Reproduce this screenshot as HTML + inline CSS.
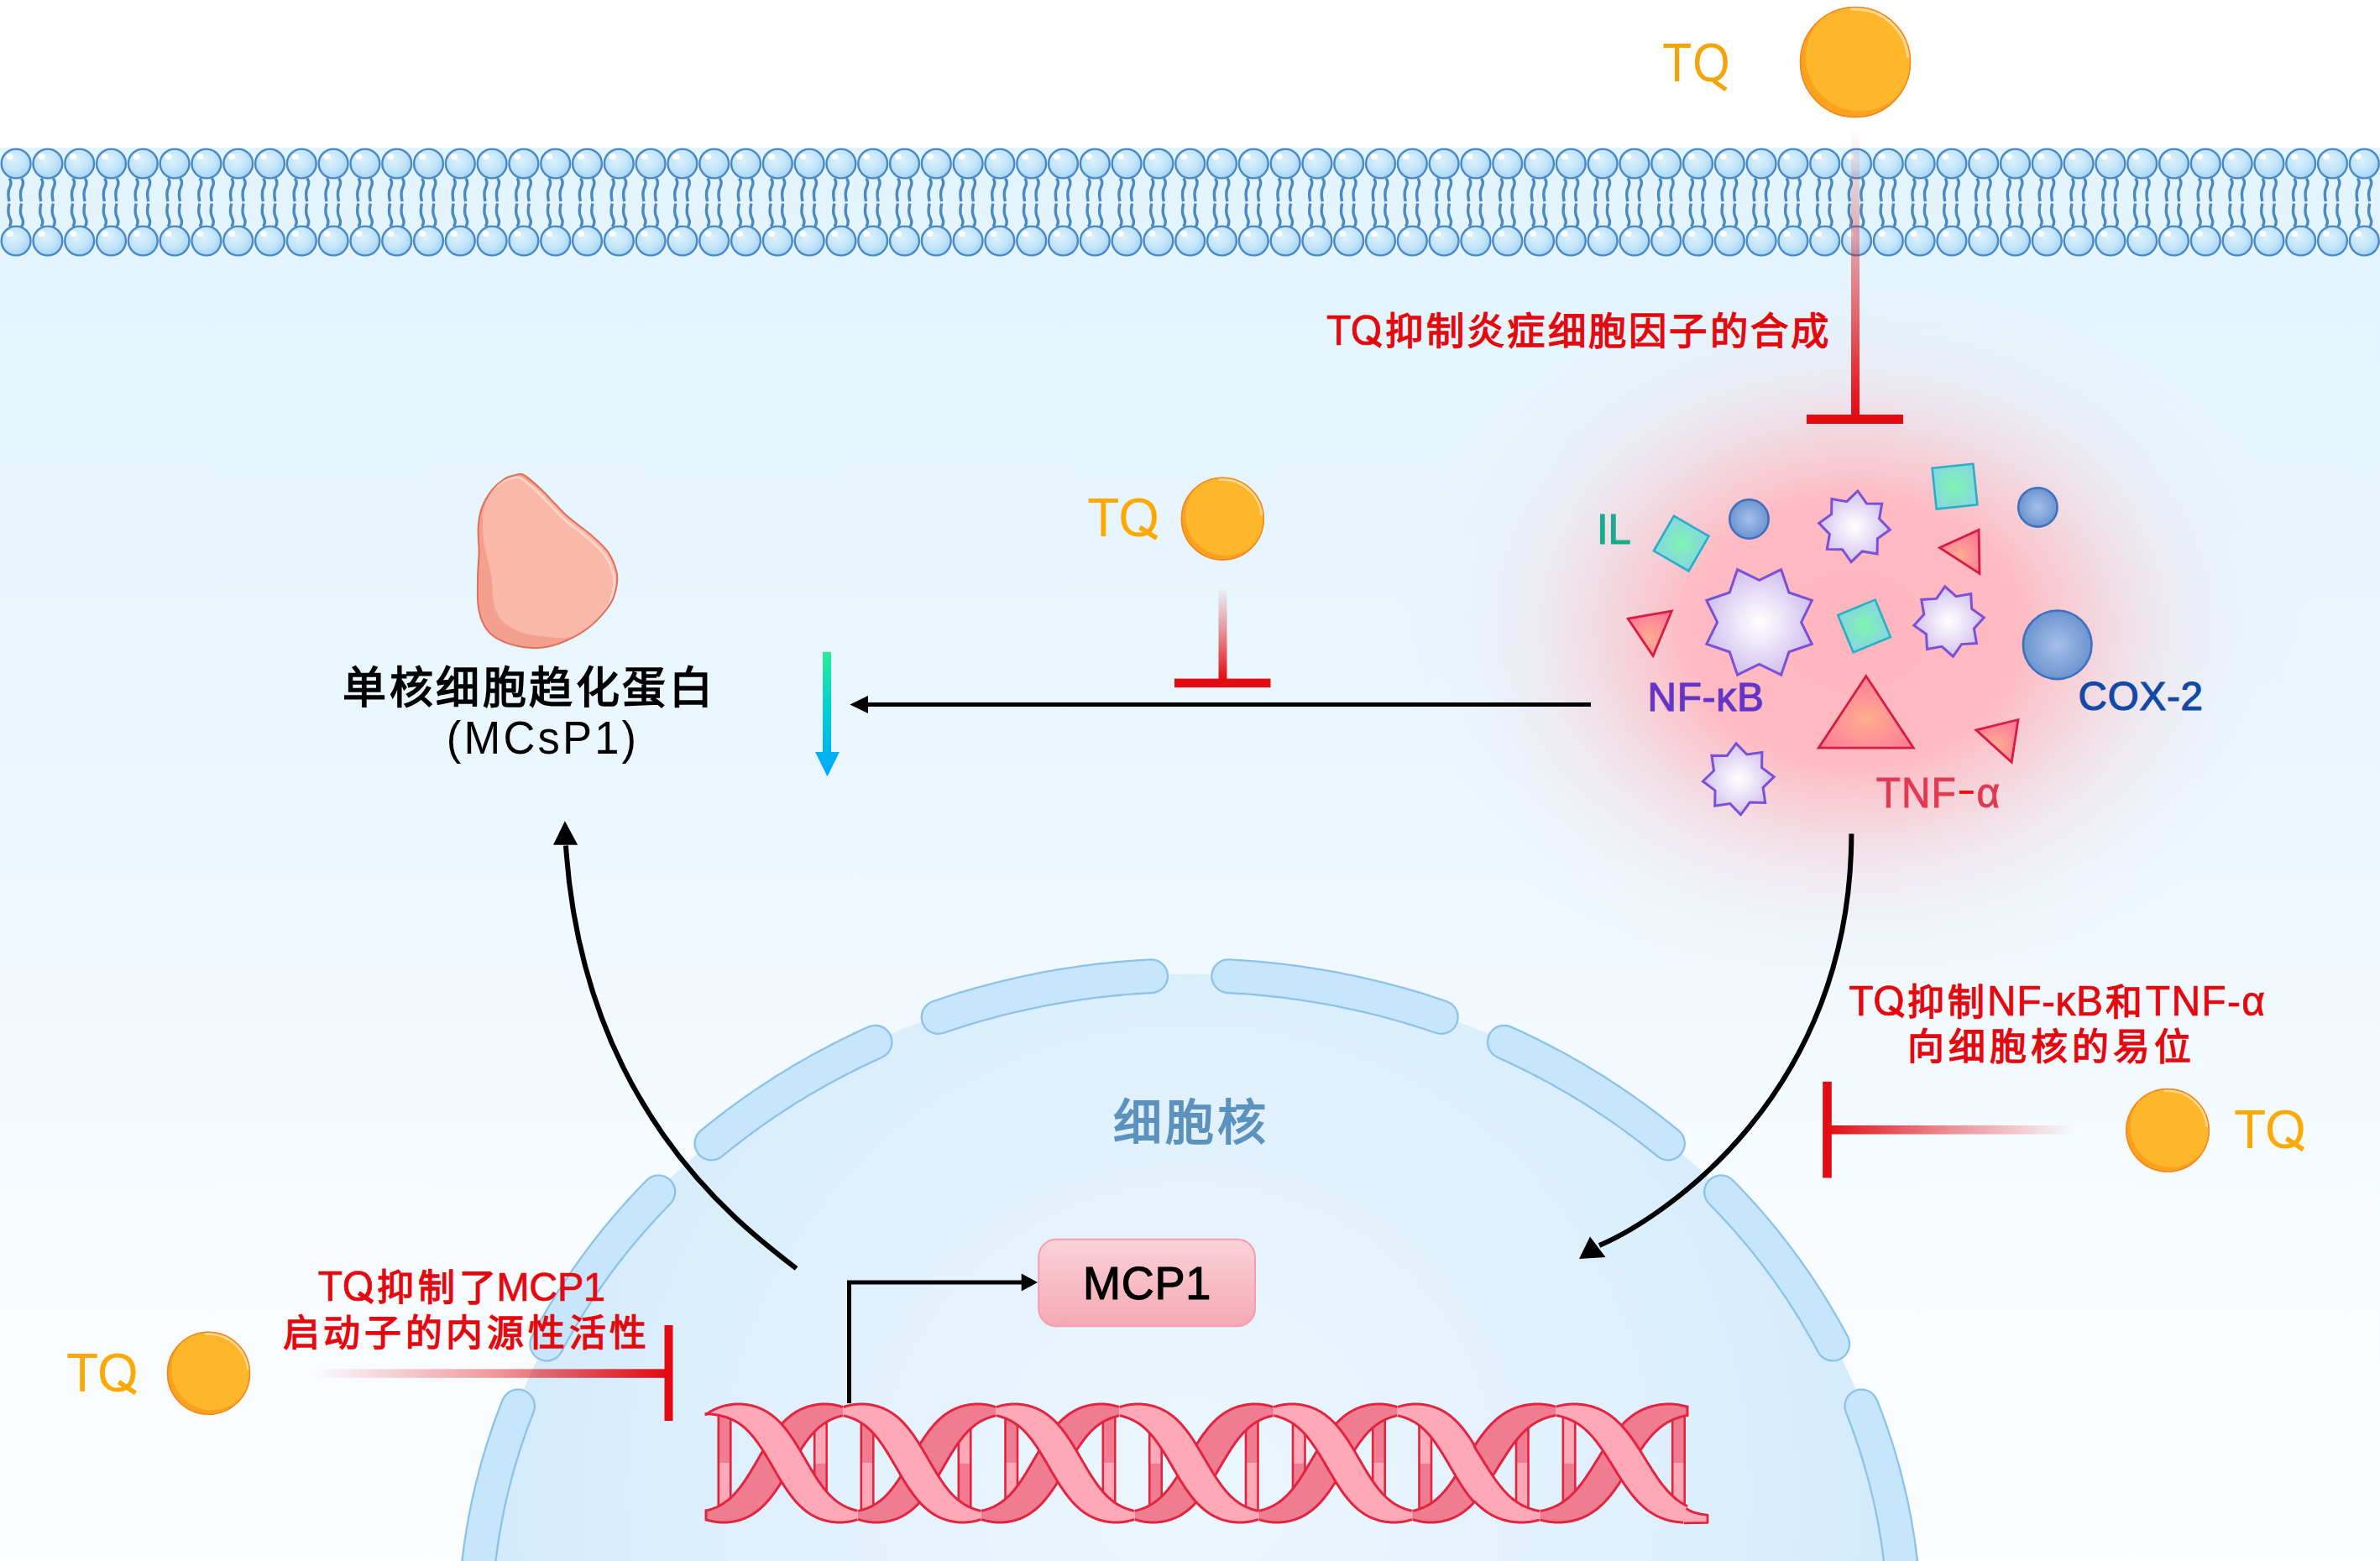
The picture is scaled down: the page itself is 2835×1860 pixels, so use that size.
<!DOCTYPE html>
<html lang="zh-CN">
<head>
<meta charset="utf-8">
<title>TQ</title>
<style>
html,body{margin:0;padding:0;background:#ffffff;width:2835px;height:1860px;overflow:hidden;}
svg{display:block;}
text{font-family:"Liberation Sans",sans-serif;}
</style>
</head>
<body>
<svg width="2835" height="1860" viewBox="0 0 2835 1860">
<defs>
<linearGradient id="bg" x1="0" y1="176" x2="0" y2="1860" gradientUnits="userSpaceOnUse">
  <stop offset="0" stop-color="#e2f4fd"/>
  <stop offset="0.35" stop-color="#e8f6fe"/>
  <stop offset="0.6" stop-color="#f1f9ff"/>
  <stop offset="0.78" stop-color="#f8fcff"/>
  <stop offset="1" stop-color="#fbfdff"/>
</linearGradient>
<radialGradient id="glow" cx="2208" cy="752" r="545" gradientUnits="userSpaceOnUse" gradientTransform="translate(2208 752) scale(1 0.8) translate(-2208 -752)">
  <stop offset="0" stop-color="#ffb5bd" stop-opacity="1"/>
  <stop offset="0.37" stop-color="#ffb8c0" stop-opacity="0.95"/>
  <stop offset="0.53" stop-color="#fbc2ca" stop-opacity="0.62"/>
  <stop offset="0.68" stop-color="#f6d0d8" stop-opacity="0.34"/>
  <stop offset="0.83" stop-color="#f2dce4" stop-opacity="0.14"/>
  <stop offset="1" stop-color="#f0e6ee" stop-opacity="0"/>
</radialGradient>
<radialGradient id="head" cx="0.42" cy="0.38" r="0.62">
  <stop offset="0" stop-color="#dcf1fd"/>
  <stop offset="0.6" stop-color="#c3e5fa"/>
  <stop offset="1" stop-color="#a6d3f3"/>
</radialGradient>
<radialGradient id="nuc" cx="1417" cy="1780" r="900" gradientUnits="userSpaceOnUse">
  <stop offset="0" stop-color="#ecf7fe"/>
  <stop offset="0.5" stop-color="#e1f1fd"/>
  <stop offset="0.8" stop-color="#d8edfc"/>
  <stop offset="1" stop-color="#d0e9fb"/>
</radialGradient>
<radialGradient id="star" cx="0.5" cy="0.5" r="0.55">
  <stop offset="0" stop-color="#ffffff"/>
  <stop offset="0.45" stop-color="#ebe2f8"/>
  <stop offset="1" stop-color="#cdbcee"/>
</radialGradient>
<radialGradient id="sq" cx="0.5" cy="0.5" r="0.6">
  <stop offset="0" stop-color="#7ff5b0"/>
  <stop offset="0.6" stop-color="#82e2cc"/>
  <stop offset="1" stop-color="#86d8df"/>
</radialGradient>
<radialGradient id="tri" cx="0.5" cy="0.6" r="0.6">
  <stop offset="0" stop-color="#ffae8e"/>
  <stop offset="0.6" stop-color="#ff8f98"/>
  <stop offset="1" stop-color="#fb7d93"/>
</radialGradient>
<radialGradient id="ball" cx="0.5" cy="0.5" r="0.5">
  <stop offset="0" stop-color="#a6bfec"/>
  <stop offset="1" stop-color="#6c95cf"/>
</radialGradient>
<linearGradient id="mcp" x1="0" y1="0" x2="0" y2="1">
  <stop offset="0" stop-color="#fbd1d8"/>
  <stop offset="1" stop-color="#f4a9b4"/>
</linearGradient>
<linearGradient id="garrow" x1="0" y1="776" x2="0" y2="925" gradientUnits="userSpaceOnUse">
  <stop offset="0" stop-color="#2eeb98"/>
  <stop offset="0.45" stop-color="#00d0d0"/>
  <stop offset="1" stop-color="#00a6ff"/>
</linearGradient>
<linearGradient id="inhV1" x1="0" y1="150" x2="0" y2="495" gradientUnits="userSpaceOnUse">
  <stop offset="0" stop-color="#e30b12" stop-opacity="0"/>
  <stop offset="0.25" stop-color="#e30b12" stop-opacity="0.2"/>
  <stop offset="0.6" stop-color="#e30b12" stop-opacity="0.55"/>
  <stop offset="1" stop-color="#e30b12" stop-opacity="1"/>
</linearGradient>
<linearGradient id="inhV2" x1="0" y1="700" x2="0" y2="810" gradientUnits="userSpaceOnUse">
  <stop offset="0" stop-color="#e30b12" stop-opacity="0"/>
  <stop offset="0.5" stop-color="#e30b12" stop-opacity="0.45"/>
  <stop offset="1" stop-color="#e30b12" stop-opacity="1"/>
</linearGradient>
<linearGradient id="inhH1" x1="371" y1="0" x2="795" y2="0" gradientUnits="userSpaceOnUse">
  <stop offset="0" stop-color="#e30b12" stop-opacity="0"/>
  <stop offset="0.5" stop-color="#e30b12" stop-opacity="0.4"/>
  <stop offset="1" stop-color="#e30b12" stop-opacity="1"/>
</linearGradient>
<linearGradient id="inhH2" x1="2470" y1="0" x2="2176" y2="0" gradientUnits="userSpaceOnUse">
  <stop offset="0" stop-color="#e30b12" stop-opacity="0"/>
  <stop offset="0.5" stop-color="#e30b12" stop-opacity="0.45"/>
  <stop offset="1" stop-color="#e30b12" stop-opacity="1"/>
</linearGradient>
</defs>
<rect x="0" y="0" width="2835" height="1860" fill="#ffffff"/>
<rect x="0" y="176" width="2835" height="1684" fill="url(#bg)"/>
<rect x="1600" y="260" width="1235" height="1000" fill="url(#glow)"/>
<ellipse cx="1417.2" cy="1942.4" rx="853" ry="781.8" fill="url(#nuc)"/>
<path d="M1463.2,1163.2 L1469.7,1163.6 L1476.2,1164 L1482.7,1164.4 L1489.2,1164.9 L1495.7,1165.4 L1502.1,1166 L1508.6,1166.6 L1515.1,1167.3 L1521.5,1168 L1528,1168.7 L1534.4,1169.5 L1540.9,1170.4 L1547.3,1171.3 L1553.7,1172.2 L1560.1,1173.2 L1566.5,1174.2 L1572.9,1175.3 L1579.3,1176.4 L1585.7,1177.5 L1592.1,1178.7 L1598.4,1180 L1604.8,1181.3 L1611.1,1182.6 L1617.4,1184 L1623.7,1185.4 L1630,1186.9 L1636.3,1188.4 L1642.6,1189.9 L1648.9,1191.5 L1655.1,1193.2 L1661.4,1194.9 L1667.6,1196.6 L1673.8,1198.4 L1680,1200.2 L1686.2,1202 L1692.3,1203.9 L1698.5,1205.9 L1704.6,1207.9 L1710.7,1209.9 L1716.8,1212" fill="none" stroke="#8dc2e8" stroke-width="42" stroke-linecap="round"/>
<path d="M1463.2,1163.2 L1469.7,1163.6 L1476.2,1164 L1482.7,1164.4 L1489.2,1164.9 L1495.7,1165.4 L1502.1,1166 L1508.6,1166.6 L1515.1,1167.3 L1521.5,1168 L1528,1168.7 L1534.4,1169.5 L1540.9,1170.4 L1547.3,1171.3 L1553.7,1172.2 L1560.1,1173.2 L1566.5,1174.2 L1572.9,1175.3 L1579.3,1176.4 L1585.7,1177.5 L1592.1,1178.7 L1598.4,1180 L1604.8,1181.3 L1611.1,1182.6 L1617.4,1184 L1623.7,1185.4 L1630,1186.9 L1636.3,1188.4 L1642.6,1189.9 L1648.9,1191.5 L1655.1,1193.2 L1661.4,1194.9 L1667.6,1196.6 L1673.8,1198.4 L1680,1200.2 L1686.2,1202 L1692.3,1203.9 L1698.5,1205.9 L1704.6,1207.9 L1710.7,1209.9 L1716.8,1212" fill="none" stroke="#c8e6fb" stroke-width="37.4" stroke-linecap="round"/>
<path d="M1371.2,1163.2 L1364.7,1163.6 L1358.2,1164 L1351.7,1164.4 L1345.2,1164.9 L1338.7,1165.4 L1332.3,1166 L1325.8,1166.6 L1319.3,1167.3 L1312.9,1168 L1306.4,1168.7 L1300,1169.5 L1293.5,1170.4 L1287.1,1171.3 L1280.7,1172.2 L1274.3,1173.2 L1267.9,1174.2 L1261.5,1175.3 L1255.1,1176.4 L1248.7,1177.5 L1242.3,1178.7 L1236,1180 L1229.6,1181.3 L1223.3,1182.6 L1217,1184 L1210.7,1185.4 L1204.4,1186.9 L1198.1,1188.4 L1191.8,1189.9 L1185.5,1191.5 L1179.3,1193.2 L1173,1194.9 L1166.8,1196.6 L1160.6,1198.4 L1154.4,1200.2 L1148.2,1202 L1142.1,1203.9 L1135.9,1205.9 L1129.8,1207.9 L1123.7,1209.9 L1117.6,1212" fill="none" stroke="#8dc2e8" stroke-width="42" stroke-linecap="round"/>
<path d="M1371.2,1163.2 L1364.7,1163.6 L1358.2,1164 L1351.7,1164.4 L1345.2,1164.9 L1338.7,1165.4 L1332.3,1166 L1325.8,1166.6 L1319.3,1167.3 L1312.9,1168 L1306.4,1168.7 L1300,1169.5 L1293.5,1170.4 L1287.1,1171.3 L1280.7,1172.2 L1274.3,1173.2 L1267.9,1174.2 L1261.5,1175.3 L1255.1,1176.4 L1248.7,1177.5 L1242.3,1178.7 L1236,1180 L1229.6,1181.3 L1223.3,1182.6 L1217,1184 L1210.7,1185.4 L1204.4,1186.9 L1198.1,1188.4 L1191.8,1189.9 L1185.5,1191.5 L1179.3,1193.2 L1173,1194.9 L1166.8,1196.6 L1160.6,1198.4 L1154.4,1200.2 L1148.2,1202 L1142.1,1203.9 L1135.9,1205.9 L1129.8,1207.9 L1123.7,1209.9 L1117.6,1212" fill="none" stroke="#c8e6fb" stroke-width="37.4" stroke-linecap="round"/>
<path d="M1791.8,1241.7 L1797.1,1244.1 L1802.4,1246.5 L1807.6,1249 L1812.9,1251.5 L1818.1,1254 L1823.3,1256.6 L1828.5,1259.2 L1833.6,1261.8 L1838.8,1264.5 L1843.9,1267.2 L1849,1269.9 L1854.1,1272.6 L1859.2,1275.4 L1864.2,1278.3 L1869.2,1281.1 L1874.2,1284 L1879.2,1286.9 L1884.1,1289.9 L1889.1,1292.9 L1894,1295.9 L1898.9,1298.9 L1903.7,1302 L1908.5,1305.1 L1913.4,1308.3 L1918.1,1311.4 L1922.9,1314.6 L1927.7,1317.9 L1932.4,1321.1 L1937.1,1324.4 L1941.7,1327.7 L1946.4,1331.1 L1951,1334.5 L1955.6,1337.9 L1960.1,1341.3 L1964.7,1344.8 L1969.2,1348.3 L1973.7,1351.8 L1978.1,1355.3 L1982.6,1358.9 L1987,1362.5" fill="none" stroke="#8dc2e8" stroke-width="42" stroke-linecap="round"/>
<path d="M1791.8,1241.7 L1797.1,1244.1 L1802.4,1246.5 L1807.6,1249 L1812.9,1251.5 L1818.1,1254 L1823.3,1256.6 L1828.5,1259.2 L1833.6,1261.8 L1838.8,1264.5 L1843.9,1267.2 L1849,1269.9 L1854.1,1272.6 L1859.2,1275.4 L1864.2,1278.3 L1869.2,1281.1 L1874.2,1284 L1879.2,1286.9 L1884.1,1289.9 L1889.1,1292.9 L1894,1295.9 L1898.9,1298.9 L1903.7,1302 L1908.5,1305.1 L1913.4,1308.3 L1918.1,1311.4 L1922.9,1314.6 L1927.7,1317.9 L1932.4,1321.1 L1937.1,1324.4 L1941.7,1327.7 L1946.4,1331.1 L1951,1334.5 L1955.6,1337.9 L1960.1,1341.3 L1964.7,1344.8 L1969.2,1348.3 L1973.7,1351.8 L1978.1,1355.3 L1982.6,1358.9 L1987,1362.5" fill="none" stroke="#c8e6fb" stroke-width="37.4" stroke-linecap="round"/>
<path d="M1042.6,1241.7 L1037.3,1244.1 L1032,1246.5 L1026.8,1249 L1021.5,1251.5 L1016.3,1254 L1011.1,1256.6 L1005.9,1259.2 L1000.8,1261.8 L995.6,1264.5 L990.5,1267.2 L985.4,1269.9 L980.3,1272.6 L975.2,1275.4 L970.2,1278.3 L965.2,1281.1 L960.2,1284 L955.2,1286.9 L950.3,1289.9 L945.3,1292.9 L940.4,1295.9 L935.5,1298.9 L930.7,1302 L925.9,1305.1 L921,1308.3 L916.3,1311.4 L911.5,1314.6 L906.7,1317.9 L902,1321.1 L897.3,1324.4 L892.7,1327.7 L888,1331.1 L883.4,1334.5 L878.8,1337.9 L874.3,1341.3 L869.7,1344.8 L865.2,1348.3 L860.7,1351.8 L856.3,1355.3 L851.8,1358.9 L847.4,1362.5" fill="none" stroke="#8dc2e8" stroke-width="42" stroke-linecap="round"/>
<path d="M1042.6,1241.7 L1037.3,1244.1 L1032,1246.5 L1026.8,1249 L1021.5,1251.5 L1016.3,1254 L1011.1,1256.6 L1005.9,1259.2 L1000.8,1261.8 L995.6,1264.5 L990.5,1267.2 L985.4,1269.9 L980.3,1272.6 L975.2,1275.4 L970.2,1278.3 L965.2,1281.1 L960.2,1284 L955.2,1286.9 L950.3,1289.9 L945.3,1292.9 L940.4,1295.9 L935.5,1298.9 L930.7,1302 L925.9,1305.1 L921,1308.3 L916.3,1311.4 L911.5,1314.6 L906.7,1317.9 L902,1321.1 L897.3,1324.4 L892.7,1327.7 L888,1331.1 L883.4,1334.5 L878.8,1337.9 L874.3,1341.3 L869.7,1344.8 L865.2,1348.3 L860.7,1351.8 L856.3,1355.3 L851.8,1358.9 L847.4,1362.5" fill="none" stroke="#c8e6fb" stroke-width="37.4" stroke-linecap="round"/>
<path d="M2050,1420.3 L2054,1424.4 L2057.9,1428.5 L2061.9,1432.6 L2065.7,1436.8 L2069.6,1441 L2073.4,1445.2 L2077.2,1449.4 L2081,1453.7 L2084.7,1458 L2088.4,1462.3 L2092.1,1466.6 L2095.7,1471 L2099.3,1475.3 L2102.9,1479.7 L2106.4,1484.2 L2109.9,1488.6 L2113.4,1493.1 L2116.8,1497.6 L2120.2,1502.1 L2123.5,1506.6 L2126.9,1511.2 L2130.2,1515.8 L2133.4,1520.4 L2136.6,1525 L2139.8,1529.6 L2143,1534.3 L2146.1,1539 L2149.1,1543.7 L2152.2,1548.4 L2155.2,1553.1 L2158.1,1557.9 L2161.1,1562.7 L2164,1567.5 L2166.8,1572.3 L2169.6,1577.1 L2172.4,1582 L2175.2,1586.8 L2177.9,1591.7 L2180.5,1596.6 L2183.2,1601.6" fill="none" stroke="#8dc2e8" stroke-width="42" stroke-linecap="round"/>
<path d="M2050,1420.3 L2054,1424.4 L2057.9,1428.5 L2061.9,1432.6 L2065.7,1436.8 L2069.6,1441 L2073.4,1445.2 L2077.2,1449.4 L2081,1453.7 L2084.7,1458 L2088.4,1462.3 L2092.1,1466.6 L2095.7,1471 L2099.3,1475.3 L2102.9,1479.7 L2106.4,1484.2 L2109.9,1488.6 L2113.4,1493.1 L2116.8,1497.6 L2120.2,1502.1 L2123.5,1506.6 L2126.9,1511.2 L2130.2,1515.8 L2133.4,1520.4 L2136.6,1525 L2139.8,1529.6 L2143,1534.3 L2146.1,1539 L2149.1,1543.7 L2152.2,1548.4 L2155.2,1553.1 L2158.1,1557.9 L2161.1,1562.7 L2164,1567.5 L2166.8,1572.3 L2169.6,1577.1 L2172.4,1582 L2175.2,1586.8 L2177.9,1591.7 L2180.5,1596.6 L2183.2,1601.6" fill="none" stroke="#c8e6fb" stroke-width="37.4" stroke-linecap="round"/>
<path d="M784.4,1420.3 L780.4,1424.4 L776.5,1428.5 L772.5,1432.6 L768.7,1436.8 L764.8,1441 L761,1445.2 L757.2,1449.4 L753.4,1453.7 L749.7,1458 L746,1462.3 L742.3,1466.6 L738.7,1471 L735.1,1475.3 L731.5,1479.7 L728,1484.2 L724.5,1488.6 L721,1493.1 L717.6,1497.6 L714.2,1502.1 L710.9,1506.6 L707.5,1511.2 L704.2,1515.8 L701,1520.4 L697.8,1525 L694.6,1529.6 L691.4,1534.3 L688.3,1539 L685.3,1543.7 L682.2,1548.4 L679.2,1553.1 L676.3,1557.9 L673.3,1562.7 L670.4,1567.5 L667.6,1572.3 L664.8,1577.1 L662,1582 L659.2,1586.8 L656.5,1591.7 L653.9,1596.6 L651.2,1601.6" fill="none" stroke="#8dc2e8" stroke-width="42" stroke-linecap="round"/>
<path d="M784.4,1420.3 L780.4,1424.4 L776.5,1428.5 L772.5,1432.6 L768.7,1436.8 L764.8,1441 L761,1445.2 L757.2,1449.4 L753.4,1453.7 L749.7,1458 L746,1462.3 L742.3,1466.6 L738.7,1471 L735.1,1475.3 L731.5,1479.7 L728,1484.2 L724.5,1488.6 L721,1493.1 L717.6,1497.6 L714.2,1502.1 L710.9,1506.6 L707.5,1511.2 L704.2,1515.8 L701,1520.4 L697.8,1525 L694.6,1529.6 L691.4,1534.3 L688.3,1539 L685.3,1543.7 L682.2,1548.4 L679.2,1553.1 L676.3,1557.9 L673.3,1562.7 L670.4,1567.5 L667.6,1572.3 L664.8,1577.1 L662,1582 L659.2,1586.8 L656.5,1591.7 L653.9,1596.6 L651.2,1601.6" fill="none" stroke="#c8e6fb" stroke-width="37.4" stroke-linecap="round"/>
<path d="M2217.3,1675.5 L2219.6,1681.3 L2221.8,1687.1 L2224,1692.9 L2226.1,1698.7 L2228.2,1704.5 L2230.2,1710.4 L2232.1,1716.2 L2234.1,1722.1 L2235.9,1728 L2237.7,1733.9 L2239.5,1739.8 L2241.2,1745.7 L2242.9,1751.6 L2244.5,1757.6 L2246,1763.6 L2247.5,1769.5 L2249,1775.5 L2250.4,1781.5 L2251.8,1787.5 L2253.1,1793.5 L2254.3,1799.5 L2255.5,1805.6 L2256.7,1811.6 L2257.7,1817.6 L2258.8,1823.7 L2259.8,1829.8 L2260.7,1835.8 L2261.6,1841.9 L2262.4,1848 L2263.2,1854.1 L2264,1860.2 L2264.6,1866.3 L2265.3,1872.4 L2265.8,1878.5 L2266.4,1884.6 L2266.8,1890.7 L2267.2,1896.8 L2267.6,1902.9 L2267.9,1909 L2268.2,1915.2" fill="none" stroke="#8dc2e8" stroke-width="42" stroke-linecap="round"/>
<path d="M2217.3,1675.5 L2219.6,1681.3 L2221.8,1687.1 L2224,1692.9 L2226.1,1698.7 L2228.2,1704.5 L2230.2,1710.4 L2232.1,1716.2 L2234.1,1722.1 L2235.9,1728 L2237.7,1733.9 L2239.5,1739.8 L2241.2,1745.7 L2242.9,1751.6 L2244.5,1757.6 L2246,1763.6 L2247.5,1769.5 L2249,1775.5 L2250.4,1781.5 L2251.8,1787.5 L2253.1,1793.5 L2254.3,1799.5 L2255.5,1805.6 L2256.7,1811.6 L2257.7,1817.6 L2258.8,1823.7 L2259.8,1829.8 L2260.7,1835.8 L2261.6,1841.9 L2262.4,1848 L2263.2,1854.1 L2264,1860.2 L2264.6,1866.3 L2265.3,1872.4 L2265.8,1878.5 L2266.4,1884.6 L2266.8,1890.7 L2267.2,1896.8 L2267.6,1902.9 L2267.9,1909 L2268.2,1915.2" fill="none" stroke="#c8e6fb" stroke-width="37.4" stroke-linecap="round"/>
<path d="M617.1,1675.5 L614.8,1681.3 L612.6,1687.1 L610.4,1692.9 L608.3,1698.7 L606.2,1704.5 L604.2,1710.4 L602.3,1716.2 L600.3,1722.1 L598.5,1728 L596.7,1733.9 L594.9,1739.8 L593.2,1745.7 L591.5,1751.6 L589.9,1757.6 L588.4,1763.6 L586.9,1769.5 L585.4,1775.5 L584,1781.5 L582.6,1787.5 L581.3,1793.5 L580.1,1799.5 L578.9,1805.6 L577.7,1811.6 L576.7,1817.6 L575.6,1823.7 L574.6,1829.8 L573.7,1835.8 L572.8,1841.9 L572,1848 L571.2,1854.1 L570.4,1860.2 L569.8,1866.3 L569.1,1872.4 L568.6,1878.5 L568,1884.6 L567.6,1890.7 L567.2,1896.8 L566.8,1902.9 L566.5,1909 L566.2,1915.2" fill="none" stroke="#8dc2e8" stroke-width="42" stroke-linecap="round"/>
<path d="M617.1,1675.5 L614.8,1681.3 L612.6,1687.1 L610.4,1692.9 L608.3,1698.7 L606.2,1704.5 L604.2,1710.4 L602.3,1716.2 L600.3,1722.1 L598.5,1728 L596.7,1733.9 L594.9,1739.8 L593.2,1745.7 L591.5,1751.6 L589.9,1757.6 L588.4,1763.6 L586.9,1769.5 L585.4,1775.5 L584,1781.5 L582.6,1787.5 L581.3,1793.5 L580.1,1799.5 L578.9,1805.6 L577.7,1811.6 L576.7,1817.6 L575.6,1823.7 L574.6,1829.8 L573.7,1835.8 L572.8,1841.9 L572,1848 L571.2,1854.1 L570.4,1860.2 L569.8,1866.3 L569.1,1872.4 L568.6,1878.5 L568,1884.6 L567.6,1890.7 L567.2,1896.8 L566.8,1902.9 L566.5,1909 L566.2,1915.2" fill="none" stroke="#c8e6fb" stroke-width="37.4" stroke-linecap="round"/>
<path d="M11.1,212.5 c 2.6,3.5 2.6,6.5 0.6,10.5 s -2.8,8.5 -0.6,17 M11.1,270 c 2.6,-3.5 2.6,-6.5 0.6,-10.5 s -2.8,-8.5 -0.6,-17 M25.6,212.5 c 2.6,3.5 2.6,6.5 0.6,10.5 s -2.8,8.5 -0.6,17 M25.6,270 c 2.6,-3.5 2.6,-6.5 0.6,-10.5 s -2.8,-8.5 -0.6,-17 M48.9,212.5 c 2.6,3.5 2.6,6.5 0.6,10.5 s -2.8,8.5 -0.6,17 M48.9,270 c 2.6,-3.5 2.6,-6.5 0.6,-10.5 s -2.8,-8.5 -0.6,-17 M63.4,212.5 c 2.6,3.5 2.6,6.5 0.6,10.5 s -2.8,8.5 -0.6,17 M63.4,270 c 2.6,-3.5 2.6,-6.5 0.6,-10.5 s -2.8,-8.5 -0.6,-17 M86.7,212.5 c 2.6,3.5 2.6,6.5 0.6,10.5 s -2.8,8.5 -0.6,17 M86.7,270 c 2.6,-3.5 2.6,-6.5 0.6,-10.5 s -2.8,-8.5 -0.6,-17 M101.2,212.5 c 2.6,3.5 2.6,6.5 0.6,10.5 s -2.8,8.5 -0.6,17 M101.2,270 c 2.6,-3.5 2.6,-6.5 0.6,-10.5 s -2.8,-8.5 -0.6,-17 M124.5,212.5 c 2.6,3.5 2.6,6.5 0.6,10.5 s -2.8,8.5 -0.6,17 M124.5,270 c 2.6,-3.5 2.6,-6.5 0.6,-10.5 s -2.8,-8.5 -0.6,-17 M139,212.5 c 2.6,3.5 2.6,6.5 0.6,10.5 s -2.8,8.5 -0.6,17 M139,270 c 2.6,-3.5 2.6,-6.5 0.6,-10.5 s -2.8,-8.5 -0.6,-17 M162.3,212.5 c 2.6,3.5 2.6,6.5 0.6,10.5 s -2.8,8.5 -0.6,17 M162.3,270 c 2.6,-3.5 2.6,-6.5 0.6,-10.5 s -2.8,-8.5 -0.6,-17 M176.8,212.5 c 2.6,3.5 2.6,6.5 0.6,10.5 s -2.8,8.5 -0.6,17 M176.8,270 c 2.6,-3.5 2.6,-6.5 0.6,-10.5 s -2.8,-8.5 -0.6,-17 M200.1,212.5 c 2.6,3.5 2.6,6.5 0.6,10.5 s -2.8,8.5 -0.6,17 M200.1,270 c 2.6,-3.5 2.6,-6.5 0.6,-10.5 s -2.8,-8.5 -0.6,-17 M214.6,212.5 c 2.6,3.5 2.6,6.5 0.6,10.5 s -2.8,8.5 -0.6,17 M214.6,270 c 2.6,-3.5 2.6,-6.5 0.6,-10.5 s -2.8,-8.5 -0.6,-17 M237.9,212.5 c 2.6,3.5 2.6,6.5 0.6,10.5 s -2.8,8.5 -0.6,17 M237.9,270 c 2.6,-3.5 2.6,-6.5 0.6,-10.5 s -2.8,-8.5 -0.6,-17 M252.4,212.5 c 2.6,3.5 2.6,6.5 0.6,10.5 s -2.8,8.5 -0.6,17 M252.4,270 c 2.6,-3.5 2.6,-6.5 0.6,-10.5 s -2.8,-8.5 -0.6,-17 M275.7,212.5 c 2.6,3.5 2.6,6.5 0.6,10.5 s -2.8,8.5 -0.6,17 M275.7,270 c 2.6,-3.5 2.6,-6.5 0.6,-10.5 s -2.8,-8.5 -0.6,-17 M290.2,212.5 c 2.6,3.5 2.6,6.5 0.6,10.5 s -2.8,8.5 -0.6,17 M290.2,270 c 2.6,-3.5 2.6,-6.5 0.6,-10.5 s -2.8,-8.5 -0.6,-17 M313.5,212.5 c 2.6,3.5 2.6,6.5 0.6,10.5 s -2.8,8.5 -0.6,17 M313.5,270 c 2.6,-3.5 2.6,-6.5 0.6,-10.5 s -2.8,-8.5 -0.6,-17 M328,212.5 c 2.6,3.5 2.6,6.5 0.6,10.5 s -2.8,8.5 -0.6,17 M328,270 c 2.6,-3.5 2.6,-6.5 0.6,-10.5 s -2.8,-8.5 -0.6,-17 M351.3,212.5 c 2.6,3.5 2.6,6.5 0.6,10.5 s -2.8,8.5 -0.6,17 M351.3,270 c 2.6,-3.5 2.6,-6.5 0.6,-10.5 s -2.8,-8.5 -0.6,-17 M365.8,212.5 c 2.6,3.5 2.6,6.5 0.6,10.5 s -2.8,8.5 -0.6,17 M365.8,270 c 2.6,-3.5 2.6,-6.5 0.6,-10.5 s -2.8,-8.5 -0.6,-17 M389.1,212.5 c 2.6,3.5 2.6,6.5 0.6,10.5 s -2.8,8.5 -0.6,17 M389.1,270 c 2.6,-3.5 2.6,-6.5 0.6,-10.5 s -2.8,-8.5 -0.6,-17 M403.6,212.5 c 2.6,3.5 2.6,6.5 0.6,10.5 s -2.8,8.5 -0.6,17 M403.6,270 c 2.6,-3.5 2.6,-6.5 0.6,-10.5 s -2.8,-8.5 -0.6,-17 M426.9,212.5 c 2.6,3.5 2.6,6.5 0.6,10.5 s -2.8,8.5 -0.6,17 M426.9,270 c 2.6,-3.5 2.6,-6.5 0.6,-10.5 s -2.8,-8.5 -0.6,-17 M441.4,212.5 c 2.6,3.5 2.6,6.5 0.6,10.5 s -2.8,8.5 -0.6,17 M441.4,270 c 2.6,-3.5 2.6,-6.5 0.6,-10.5 s -2.8,-8.5 -0.6,-17 M464.7,212.5 c 2.6,3.5 2.6,6.5 0.6,10.5 s -2.8,8.5 -0.6,17 M464.7,270 c 2.6,-3.5 2.6,-6.5 0.6,-10.5 s -2.8,-8.5 -0.6,-17 M479.2,212.5 c 2.6,3.5 2.6,6.5 0.6,10.5 s -2.8,8.5 -0.6,17 M479.2,270 c 2.6,-3.5 2.6,-6.5 0.6,-10.5 s -2.8,-8.5 -0.6,-17 M502.5,212.5 c 2.6,3.5 2.6,6.5 0.6,10.5 s -2.8,8.5 -0.6,17 M502.5,270 c 2.6,-3.5 2.6,-6.5 0.6,-10.5 s -2.8,-8.5 -0.6,-17 M517,212.5 c 2.6,3.5 2.6,6.5 0.6,10.5 s -2.8,8.5 -0.6,17 M517,270 c 2.6,-3.5 2.6,-6.5 0.6,-10.5 s -2.8,-8.5 -0.6,-17 M540.3,212.5 c 2.6,3.5 2.6,6.5 0.6,10.5 s -2.8,8.5 -0.6,17 M540.3,270 c 2.6,-3.5 2.6,-6.5 0.6,-10.5 s -2.8,-8.5 -0.6,-17 M554.8,212.5 c 2.6,3.5 2.6,6.5 0.6,10.5 s -2.8,8.5 -0.6,17 M554.8,270 c 2.6,-3.5 2.6,-6.5 0.6,-10.5 s -2.8,-8.5 -0.6,-17 M578.1,212.5 c 2.6,3.5 2.6,6.5 0.6,10.5 s -2.8,8.5 -0.6,17 M578.1,270 c 2.6,-3.5 2.6,-6.5 0.6,-10.5 s -2.8,-8.5 -0.6,-17 M592.6,212.5 c 2.6,3.5 2.6,6.5 0.6,10.5 s -2.8,8.5 -0.6,17 M592.6,270 c 2.6,-3.5 2.6,-6.5 0.6,-10.5 s -2.8,-8.5 -0.6,-17 M615.9,212.5 c 2.6,3.5 2.6,6.5 0.6,10.5 s -2.8,8.5 -0.6,17 M615.9,270 c 2.6,-3.5 2.6,-6.5 0.6,-10.5 s -2.8,-8.5 -0.6,-17 M630.4,212.5 c 2.6,3.5 2.6,6.5 0.6,10.5 s -2.8,8.5 -0.6,17 M630.4,270 c 2.6,-3.5 2.6,-6.5 0.6,-10.5 s -2.8,-8.5 -0.6,-17 M653.7,212.5 c 2.6,3.5 2.6,6.5 0.6,10.5 s -2.8,8.5 -0.6,17 M653.7,270 c 2.6,-3.5 2.6,-6.5 0.6,-10.5 s -2.8,-8.5 -0.6,-17 M668.2,212.5 c 2.6,3.5 2.6,6.5 0.6,10.5 s -2.8,8.5 -0.6,17 M668.2,270 c 2.6,-3.5 2.6,-6.5 0.6,-10.5 s -2.8,-8.5 -0.6,-17 M691.5,212.5 c 2.6,3.5 2.6,6.5 0.6,10.5 s -2.8,8.5 -0.6,17 M691.5,270 c 2.6,-3.5 2.6,-6.5 0.6,-10.5 s -2.8,-8.5 -0.6,-17 M706,212.5 c 2.6,3.5 2.6,6.5 0.6,10.5 s -2.8,8.5 -0.6,17 M706,270 c 2.6,-3.5 2.6,-6.5 0.6,-10.5 s -2.8,-8.5 -0.6,-17 M729.3,212.5 c 2.6,3.5 2.6,6.5 0.6,10.5 s -2.8,8.5 -0.6,17 M729.3,270 c 2.6,-3.5 2.6,-6.5 0.6,-10.5 s -2.8,-8.5 -0.6,-17 M743.8,212.5 c 2.6,3.5 2.6,6.5 0.6,10.5 s -2.8,8.5 -0.6,17 M743.8,270 c 2.6,-3.5 2.6,-6.5 0.6,-10.5 s -2.8,-8.5 -0.6,-17 M767.1,212.5 c 2.6,3.5 2.6,6.5 0.6,10.5 s -2.8,8.5 -0.6,17 M767.1,270 c 2.6,-3.5 2.6,-6.5 0.6,-10.5 s -2.8,-8.5 -0.6,-17 M781.6,212.5 c 2.6,3.5 2.6,6.5 0.6,10.5 s -2.8,8.5 -0.6,17 M781.6,270 c 2.6,-3.5 2.6,-6.5 0.6,-10.5 s -2.8,-8.5 -0.6,-17 M804.9,212.5 c 2.6,3.5 2.6,6.5 0.6,10.5 s -2.8,8.5 -0.6,17 M804.9,270 c 2.6,-3.5 2.6,-6.5 0.6,-10.5 s -2.8,-8.5 -0.6,-17 M819.4,212.5 c 2.6,3.5 2.6,6.5 0.6,10.5 s -2.8,8.5 -0.6,17 M819.4,270 c 2.6,-3.5 2.6,-6.5 0.6,-10.5 s -2.8,-8.5 -0.6,-17 M842.7,212.5 c 2.6,3.5 2.6,6.5 0.6,10.5 s -2.8,8.5 -0.6,17 M842.7,270 c 2.6,-3.5 2.6,-6.5 0.6,-10.5 s -2.8,-8.5 -0.6,-17 M857.2,212.5 c 2.6,3.5 2.6,6.5 0.6,10.5 s -2.8,8.5 -0.6,17 M857.2,270 c 2.6,-3.5 2.6,-6.5 0.6,-10.5 s -2.8,-8.5 -0.6,-17 M880.5,212.5 c 2.6,3.5 2.6,6.5 0.6,10.5 s -2.8,8.5 -0.6,17 M880.5,270 c 2.6,-3.5 2.6,-6.5 0.6,-10.5 s -2.8,-8.5 -0.6,-17 M895,212.5 c 2.6,3.5 2.6,6.5 0.6,10.5 s -2.8,8.5 -0.6,17 M895,270 c 2.6,-3.5 2.6,-6.5 0.6,-10.5 s -2.8,-8.5 -0.6,-17 M918.3,212.5 c 2.6,3.5 2.6,6.5 0.6,10.5 s -2.8,8.5 -0.6,17 M918.3,270 c 2.6,-3.5 2.6,-6.5 0.6,-10.5 s -2.8,-8.5 -0.6,-17 M932.8,212.5 c 2.6,3.5 2.6,6.5 0.6,10.5 s -2.8,8.5 -0.6,17 M932.8,270 c 2.6,-3.5 2.6,-6.5 0.6,-10.5 s -2.8,-8.5 -0.6,-17 M956.1,212.5 c 2.6,3.5 2.6,6.5 0.6,10.5 s -2.8,8.5 -0.6,17 M956.1,270 c 2.6,-3.5 2.6,-6.5 0.6,-10.5 s -2.8,-8.5 -0.6,-17 M970.6,212.5 c 2.6,3.5 2.6,6.5 0.6,10.5 s -2.8,8.5 -0.6,17 M970.6,270 c 2.6,-3.5 2.6,-6.5 0.6,-10.5 s -2.8,-8.5 -0.6,-17 M993.9,212.5 c 2.6,3.5 2.6,6.5 0.6,10.5 s -2.8,8.5 -0.6,17 M993.9,270 c 2.6,-3.5 2.6,-6.5 0.6,-10.5 s -2.8,-8.5 -0.6,-17 M1008.4,212.5 c 2.6,3.5 2.6,6.5 0.6,10.5 s -2.8,8.5 -0.6,17 M1008.4,270 c 2.6,-3.5 2.6,-6.5 0.6,-10.5 s -2.8,-8.5 -0.6,-17 M1031.7,212.5 c 2.6,3.5 2.6,6.5 0.6,10.5 s -2.8,8.5 -0.6,17 M1031.7,270 c 2.6,-3.5 2.6,-6.5 0.6,-10.5 s -2.8,-8.5 -0.6,-17 M1046.2,212.5 c 2.6,3.5 2.6,6.5 0.6,10.5 s -2.8,8.5 -0.6,17 M1046.2,270 c 2.6,-3.5 2.6,-6.5 0.6,-10.5 s -2.8,-8.5 -0.6,-17 M1069.5,212.5 c 2.6,3.5 2.6,6.5 0.6,10.5 s -2.8,8.5 -0.6,17 M1069.5,270 c 2.6,-3.5 2.6,-6.5 0.6,-10.5 s -2.8,-8.5 -0.6,-17 M1084,212.5 c 2.6,3.5 2.6,6.5 0.6,10.5 s -2.8,8.5 -0.6,17 M1084,270 c 2.6,-3.5 2.6,-6.5 0.6,-10.5 s -2.8,-8.5 -0.6,-17 M1107.3,212.5 c 2.6,3.5 2.6,6.5 0.6,10.5 s -2.8,8.5 -0.6,17 M1107.3,270 c 2.6,-3.5 2.6,-6.5 0.6,-10.5 s -2.8,-8.5 -0.6,-17 M1121.8,212.5 c 2.6,3.5 2.6,6.5 0.6,10.5 s -2.8,8.5 -0.6,17 M1121.8,270 c 2.6,-3.5 2.6,-6.5 0.6,-10.5 s -2.8,-8.5 -0.6,-17 M1145.1,212.5 c 2.6,3.5 2.6,6.5 0.6,10.5 s -2.8,8.5 -0.6,17 M1145.1,270 c 2.6,-3.5 2.6,-6.5 0.6,-10.5 s -2.8,-8.5 -0.6,-17 M1159.6,212.5 c 2.6,3.5 2.6,6.5 0.6,10.5 s -2.8,8.5 -0.6,17 M1159.6,270 c 2.6,-3.5 2.6,-6.5 0.6,-10.5 s -2.8,-8.5 -0.6,-17 M1182.9,212.5 c 2.6,3.5 2.6,6.5 0.6,10.5 s -2.8,8.5 -0.6,17 M1182.9,270 c 2.6,-3.5 2.6,-6.5 0.6,-10.5 s -2.8,-8.5 -0.6,-17 M1197.4,212.5 c 2.6,3.5 2.6,6.5 0.6,10.5 s -2.8,8.5 -0.6,17 M1197.4,270 c 2.6,-3.5 2.6,-6.5 0.6,-10.5 s -2.8,-8.5 -0.6,-17 M1220.7,212.5 c 2.6,3.5 2.6,6.5 0.6,10.5 s -2.8,8.5 -0.6,17 M1220.7,270 c 2.6,-3.5 2.6,-6.5 0.6,-10.5 s -2.8,-8.5 -0.6,-17 M1235.2,212.5 c 2.6,3.5 2.6,6.5 0.6,10.5 s -2.8,8.5 -0.6,17 M1235.2,270 c 2.6,-3.5 2.6,-6.5 0.6,-10.5 s -2.8,-8.5 -0.6,-17 M1258.5,212.5 c 2.6,3.5 2.6,6.5 0.6,10.5 s -2.8,8.5 -0.6,17 M1258.5,270 c 2.6,-3.5 2.6,-6.5 0.6,-10.5 s -2.8,-8.5 -0.6,-17 M1273,212.5 c 2.6,3.5 2.6,6.5 0.6,10.5 s -2.8,8.5 -0.6,17 M1273,270 c 2.6,-3.5 2.6,-6.5 0.6,-10.5 s -2.8,-8.5 -0.6,-17 M1296.3,212.5 c 2.6,3.5 2.6,6.5 0.6,10.5 s -2.8,8.5 -0.6,17 M1296.3,270 c 2.6,-3.5 2.6,-6.5 0.6,-10.5 s -2.8,-8.5 -0.6,-17 M1310.8,212.5 c 2.6,3.5 2.6,6.5 0.6,10.5 s -2.8,8.5 -0.6,17 M1310.8,270 c 2.6,-3.5 2.6,-6.5 0.6,-10.5 s -2.8,-8.5 -0.6,-17 M1334.1,212.5 c 2.6,3.5 2.6,6.5 0.6,10.5 s -2.8,8.5 -0.6,17 M1334.1,270 c 2.6,-3.5 2.6,-6.5 0.6,-10.5 s -2.8,-8.5 -0.6,-17 M1348.6,212.5 c 2.6,3.5 2.6,6.5 0.6,10.5 s -2.8,8.5 -0.6,17 M1348.6,270 c 2.6,-3.5 2.6,-6.5 0.6,-10.5 s -2.8,-8.5 -0.6,-17 M1371.9,212.5 c 2.6,3.5 2.6,6.5 0.6,10.5 s -2.8,8.5 -0.6,17 M1371.9,270 c 2.6,-3.5 2.6,-6.5 0.6,-10.5 s -2.8,-8.5 -0.6,-17 M1386.4,212.5 c 2.6,3.5 2.6,6.5 0.6,10.5 s -2.8,8.5 -0.6,17 M1386.4,270 c 2.6,-3.5 2.6,-6.5 0.6,-10.5 s -2.8,-8.5 -0.6,-17 M1409.7,212.5 c 2.6,3.5 2.6,6.5 0.6,10.5 s -2.8,8.5 -0.6,17 M1409.7,270 c 2.6,-3.5 2.6,-6.5 0.6,-10.5 s -2.8,-8.5 -0.6,-17 M1424.2,212.5 c 2.6,3.5 2.6,6.5 0.6,10.5 s -2.8,8.5 -0.6,17 M1424.2,270 c 2.6,-3.5 2.6,-6.5 0.6,-10.5 s -2.8,-8.5 -0.6,-17 M1447.5,212.5 c 2.6,3.5 2.6,6.5 0.6,10.5 s -2.8,8.5 -0.6,17 M1447.5,270 c 2.6,-3.5 2.6,-6.5 0.6,-10.5 s -2.8,-8.5 -0.6,-17 M1462,212.5 c 2.6,3.5 2.6,6.5 0.6,10.5 s -2.8,8.5 -0.6,17 M1462,270 c 2.6,-3.5 2.6,-6.5 0.6,-10.5 s -2.8,-8.5 -0.6,-17 M1485.3,212.5 c 2.6,3.5 2.6,6.5 0.6,10.5 s -2.8,8.5 -0.6,17 M1485.3,270 c 2.6,-3.5 2.6,-6.5 0.6,-10.5 s -2.8,-8.5 -0.6,-17 M1499.8,212.5 c 2.6,3.5 2.6,6.5 0.6,10.5 s -2.8,8.5 -0.6,17 M1499.8,270 c 2.6,-3.5 2.6,-6.5 0.6,-10.5 s -2.8,-8.5 -0.6,-17 M1523.1,212.5 c 2.6,3.5 2.6,6.5 0.6,10.5 s -2.8,8.5 -0.6,17 M1523.1,270 c 2.6,-3.5 2.6,-6.5 0.6,-10.5 s -2.8,-8.5 -0.6,-17 M1537.6,212.5 c 2.6,3.5 2.6,6.5 0.6,10.5 s -2.8,8.5 -0.6,17 M1537.6,270 c 2.6,-3.5 2.6,-6.5 0.6,-10.5 s -2.8,-8.5 -0.6,-17 M1560.9,212.5 c 2.6,3.5 2.6,6.5 0.6,10.5 s -2.8,8.5 -0.6,17 M1560.9,270 c 2.6,-3.5 2.6,-6.5 0.6,-10.5 s -2.8,-8.5 -0.6,-17 M1575.4,212.5 c 2.6,3.5 2.6,6.5 0.6,10.5 s -2.8,8.5 -0.6,17 M1575.4,270 c 2.6,-3.5 2.6,-6.5 0.6,-10.5 s -2.8,-8.5 -0.6,-17 M1598.7,212.5 c 2.6,3.5 2.6,6.5 0.6,10.5 s -2.8,8.5 -0.6,17 M1598.7,270 c 2.6,-3.5 2.6,-6.5 0.6,-10.5 s -2.8,-8.5 -0.6,-17 M1613.2,212.5 c 2.6,3.5 2.6,6.5 0.6,10.5 s -2.8,8.5 -0.6,17 M1613.2,270 c 2.6,-3.5 2.6,-6.5 0.6,-10.5 s -2.8,-8.5 -0.6,-17 M1636.5,212.5 c 2.6,3.5 2.6,6.5 0.6,10.5 s -2.8,8.5 -0.6,17 M1636.5,270 c 2.6,-3.5 2.6,-6.5 0.6,-10.5 s -2.8,-8.5 -0.6,-17 M1651,212.5 c 2.6,3.5 2.6,6.5 0.6,10.5 s -2.8,8.5 -0.6,17 M1651,270 c 2.6,-3.5 2.6,-6.5 0.6,-10.5 s -2.8,-8.5 -0.6,-17 M1674.3,212.5 c 2.6,3.5 2.6,6.5 0.6,10.5 s -2.8,8.5 -0.6,17 M1674.3,270 c 2.6,-3.5 2.6,-6.5 0.6,-10.5 s -2.8,-8.5 -0.6,-17 M1688.8,212.5 c 2.6,3.5 2.6,6.5 0.6,10.5 s -2.8,8.5 -0.6,17 M1688.8,270 c 2.6,-3.5 2.6,-6.5 0.6,-10.5 s -2.8,-8.5 -0.6,-17 M1712.1,212.5 c 2.6,3.5 2.6,6.5 0.6,10.5 s -2.8,8.5 -0.6,17 M1712.1,270 c 2.6,-3.5 2.6,-6.5 0.6,-10.5 s -2.8,-8.5 -0.6,-17 M1726.6,212.5 c 2.6,3.5 2.6,6.5 0.6,10.5 s -2.8,8.5 -0.6,17 M1726.6,270 c 2.6,-3.5 2.6,-6.5 0.6,-10.5 s -2.8,-8.5 -0.6,-17 M1749.9,212.5 c 2.6,3.5 2.6,6.5 0.6,10.5 s -2.8,8.5 -0.6,17 M1749.9,270 c 2.6,-3.5 2.6,-6.5 0.6,-10.5 s -2.8,-8.5 -0.6,-17 M1764.4,212.5 c 2.6,3.5 2.6,6.5 0.6,10.5 s -2.8,8.5 -0.6,17 M1764.4,270 c 2.6,-3.5 2.6,-6.5 0.6,-10.5 s -2.8,-8.5 -0.6,-17 M1787.7,212.5 c 2.6,3.5 2.6,6.5 0.6,10.5 s -2.8,8.5 -0.6,17 M1787.7,270 c 2.6,-3.5 2.6,-6.5 0.6,-10.5 s -2.8,-8.5 -0.6,-17 M1802.2,212.5 c 2.6,3.5 2.6,6.5 0.6,10.5 s -2.8,8.5 -0.6,17 M1802.2,270 c 2.6,-3.5 2.6,-6.5 0.6,-10.5 s -2.8,-8.5 -0.6,-17 M1825.5,212.5 c 2.6,3.5 2.6,6.5 0.6,10.5 s -2.8,8.5 -0.6,17 M1825.5,270 c 2.6,-3.5 2.6,-6.5 0.6,-10.5 s -2.8,-8.5 -0.6,-17 M1840,212.5 c 2.6,3.5 2.6,6.5 0.6,10.5 s -2.8,8.5 -0.6,17 M1840,270 c 2.6,-3.5 2.6,-6.5 0.6,-10.5 s -2.8,-8.5 -0.6,-17 M1863.3,212.5 c 2.6,3.5 2.6,6.5 0.6,10.5 s -2.8,8.5 -0.6,17 M1863.3,270 c 2.6,-3.5 2.6,-6.5 0.6,-10.5 s -2.8,-8.5 -0.6,-17 M1877.8,212.5 c 2.6,3.5 2.6,6.5 0.6,10.5 s -2.8,8.5 -0.6,17 M1877.8,270 c 2.6,-3.5 2.6,-6.5 0.6,-10.5 s -2.8,-8.5 -0.6,-17 M1901.1,212.5 c 2.6,3.5 2.6,6.5 0.6,10.5 s -2.8,8.5 -0.6,17 M1901.1,270 c 2.6,-3.5 2.6,-6.5 0.6,-10.5 s -2.8,-8.5 -0.6,-17 M1915.6,212.5 c 2.6,3.5 2.6,6.5 0.6,10.5 s -2.8,8.5 -0.6,17 M1915.6,270 c 2.6,-3.5 2.6,-6.5 0.6,-10.5 s -2.8,-8.5 -0.6,-17 M1938.9,212.5 c 2.6,3.5 2.6,6.5 0.6,10.5 s -2.8,8.5 -0.6,17 M1938.9,270 c 2.6,-3.5 2.6,-6.5 0.6,-10.5 s -2.8,-8.5 -0.6,-17 M1953.4,212.5 c 2.6,3.5 2.6,6.5 0.6,10.5 s -2.8,8.5 -0.6,17 M1953.4,270 c 2.6,-3.5 2.6,-6.5 0.6,-10.5 s -2.8,-8.5 -0.6,-17 M1976.7,212.5 c 2.6,3.5 2.6,6.5 0.6,10.5 s -2.8,8.5 -0.6,17 M1976.7,270 c 2.6,-3.5 2.6,-6.5 0.6,-10.5 s -2.8,-8.5 -0.6,-17 M1991.2,212.5 c 2.6,3.5 2.6,6.5 0.6,10.5 s -2.8,8.5 -0.6,17 M1991.2,270 c 2.6,-3.5 2.6,-6.5 0.6,-10.5 s -2.8,-8.5 -0.6,-17 M2014.5,212.5 c 2.6,3.5 2.6,6.5 0.6,10.5 s -2.8,8.5 -0.6,17 M2014.5,270 c 2.6,-3.5 2.6,-6.5 0.6,-10.5 s -2.8,-8.5 -0.6,-17 M2029,212.5 c 2.6,3.5 2.6,6.5 0.6,10.5 s -2.8,8.5 -0.6,17 M2029,270 c 2.6,-3.5 2.6,-6.5 0.6,-10.5 s -2.8,-8.5 -0.6,-17 M2052.3,212.5 c 2.6,3.5 2.6,6.5 0.6,10.5 s -2.8,8.5 -0.6,17 M2052.3,270 c 2.6,-3.5 2.6,-6.5 0.6,-10.5 s -2.8,-8.5 -0.6,-17 M2066.8,212.5 c 2.6,3.5 2.6,6.5 0.6,10.5 s -2.8,8.5 -0.6,17 M2066.8,270 c 2.6,-3.5 2.6,-6.5 0.6,-10.5 s -2.8,-8.5 -0.6,-17 M2090.1,212.5 c 2.6,3.5 2.6,6.5 0.6,10.5 s -2.8,8.5 -0.6,17 M2090.1,270 c 2.6,-3.5 2.6,-6.5 0.6,-10.5 s -2.8,-8.5 -0.6,-17 M2104.6,212.5 c 2.6,3.5 2.6,6.5 0.6,10.5 s -2.8,8.5 -0.6,17 M2104.6,270 c 2.6,-3.5 2.6,-6.5 0.6,-10.5 s -2.8,-8.5 -0.6,-17 M2127.9,212.5 c 2.6,3.5 2.6,6.5 0.6,10.5 s -2.8,8.5 -0.6,17 M2127.9,270 c 2.6,-3.5 2.6,-6.5 0.6,-10.5 s -2.8,-8.5 -0.6,-17 M2142.4,212.5 c 2.6,3.5 2.6,6.5 0.6,10.5 s -2.8,8.5 -0.6,17 M2142.4,270 c 2.6,-3.5 2.6,-6.5 0.6,-10.5 s -2.8,-8.5 -0.6,-17 M2165.7,212.5 c 2.6,3.5 2.6,6.5 0.6,10.5 s -2.8,8.5 -0.6,17 M2165.7,270 c 2.6,-3.5 2.6,-6.5 0.6,-10.5 s -2.8,-8.5 -0.6,-17 M2180.2,212.5 c 2.6,3.5 2.6,6.5 0.6,10.5 s -2.8,8.5 -0.6,17 M2180.2,270 c 2.6,-3.5 2.6,-6.5 0.6,-10.5 s -2.8,-8.5 -0.6,-17 M2203.5,212.5 c 2.6,3.5 2.6,6.5 0.6,10.5 s -2.8,8.5 -0.6,17 M2203.5,270 c 2.6,-3.5 2.6,-6.5 0.6,-10.5 s -2.8,-8.5 -0.6,-17 M2218,212.5 c 2.6,3.5 2.6,6.5 0.6,10.5 s -2.8,8.5 -0.6,17 M2218,270 c 2.6,-3.5 2.6,-6.5 0.6,-10.5 s -2.8,-8.5 -0.6,-17 M2241.3,212.5 c 2.6,3.5 2.6,6.5 0.6,10.5 s -2.8,8.5 -0.6,17 M2241.3,270 c 2.6,-3.5 2.6,-6.5 0.6,-10.5 s -2.8,-8.5 -0.6,-17 M2255.8,212.5 c 2.6,3.5 2.6,6.5 0.6,10.5 s -2.8,8.5 -0.6,17 M2255.8,270 c 2.6,-3.5 2.6,-6.5 0.6,-10.5 s -2.8,-8.5 -0.6,-17 M2279.1,212.5 c 2.6,3.5 2.6,6.5 0.6,10.5 s -2.8,8.5 -0.6,17 M2279.1,270 c 2.6,-3.5 2.6,-6.5 0.6,-10.5 s -2.8,-8.5 -0.6,-17 M2293.6,212.5 c 2.6,3.5 2.6,6.5 0.6,10.5 s -2.8,8.5 -0.6,17 M2293.6,270 c 2.6,-3.5 2.6,-6.5 0.6,-10.5 s -2.8,-8.5 -0.6,-17 M2316.9,212.5 c 2.6,3.5 2.6,6.5 0.6,10.5 s -2.8,8.5 -0.6,17 M2316.9,270 c 2.6,-3.5 2.6,-6.5 0.6,-10.5 s -2.8,-8.5 -0.6,-17 M2331.4,212.5 c 2.6,3.5 2.6,6.5 0.6,10.5 s -2.8,8.5 -0.6,17 M2331.4,270 c 2.6,-3.5 2.6,-6.5 0.6,-10.5 s -2.8,-8.5 -0.6,-17 M2354.7,212.5 c 2.6,3.5 2.6,6.5 0.6,10.5 s -2.8,8.5 -0.6,17 M2354.7,270 c 2.6,-3.5 2.6,-6.5 0.6,-10.5 s -2.8,-8.5 -0.6,-17 M2369.2,212.5 c 2.6,3.5 2.6,6.5 0.6,10.5 s -2.8,8.5 -0.6,17 M2369.2,270 c 2.6,-3.5 2.6,-6.5 0.6,-10.5 s -2.8,-8.5 -0.6,-17 M2392.5,212.5 c 2.6,3.5 2.6,6.5 0.6,10.5 s -2.8,8.5 -0.6,17 M2392.5,270 c 2.6,-3.5 2.6,-6.5 0.6,-10.5 s -2.8,-8.5 -0.6,-17 M2407,212.5 c 2.6,3.5 2.6,6.5 0.6,10.5 s -2.8,8.5 -0.6,17 M2407,270 c 2.6,-3.5 2.6,-6.5 0.6,-10.5 s -2.8,-8.5 -0.6,-17 M2430.3,212.5 c 2.6,3.5 2.6,6.5 0.6,10.5 s -2.8,8.5 -0.6,17 M2430.3,270 c 2.6,-3.5 2.6,-6.5 0.6,-10.5 s -2.8,-8.5 -0.6,-17 M2444.8,212.5 c 2.6,3.5 2.6,6.5 0.6,10.5 s -2.8,8.5 -0.6,17 M2444.8,270 c 2.6,-3.5 2.6,-6.5 0.6,-10.5 s -2.8,-8.5 -0.6,-17 M2468.1,212.5 c 2.6,3.5 2.6,6.5 0.6,10.5 s -2.8,8.5 -0.6,17 M2468.1,270 c 2.6,-3.5 2.6,-6.5 0.6,-10.5 s -2.8,-8.5 -0.6,-17 M2482.6,212.5 c 2.6,3.5 2.6,6.5 0.6,10.5 s -2.8,8.5 -0.6,17 M2482.6,270 c 2.6,-3.5 2.6,-6.5 0.6,-10.5 s -2.8,-8.5 -0.6,-17 M2505.9,212.5 c 2.6,3.5 2.6,6.5 0.6,10.5 s -2.8,8.5 -0.6,17 M2505.9,270 c 2.6,-3.5 2.6,-6.5 0.6,-10.5 s -2.8,-8.5 -0.6,-17 M2520.4,212.5 c 2.6,3.5 2.6,6.5 0.6,10.5 s -2.8,8.5 -0.6,17 M2520.4,270 c 2.6,-3.5 2.6,-6.5 0.6,-10.5 s -2.8,-8.5 -0.6,-17 M2543.7,212.5 c 2.6,3.5 2.6,6.5 0.6,10.5 s -2.8,8.5 -0.6,17 M2543.7,270 c 2.6,-3.5 2.6,-6.5 0.6,-10.5 s -2.8,-8.5 -0.6,-17 M2558.2,212.5 c 2.6,3.5 2.6,6.5 0.6,10.5 s -2.8,8.5 -0.6,17 M2558.2,270 c 2.6,-3.5 2.6,-6.5 0.6,-10.5 s -2.8,-8.5 -0.6,-17 M2581.5,212.5 c 2.6,3.5 2.6,6.5 0.6,10.5 s -2.8,8.5 -0.6,17 M2581.5,270 c 2.6,-3.5 2.6,-6.5 0.6,-10.5 s -2.8,-8.5 -0.6,-17 M2596,212.5 c 2.6,3.5 2.6,6.5 0.6,10.5 s -2.8,8.5 -0.6,17 M2596,270 c 2.6,-3.5 2.6,-6.5 0.6,-10.5 s -2.8,-8.5 -0.6,-17 M2619.3,212.5 c 2.6,3.5 2.6,6.5 0.6,10.5 s -2.8,8.5 -0.6,17 M2619.3,270 c 2.6,-3.5 2.6,-6.5 0.6,-10.5 s -2.8,-8.5 -0.6,-17 M2633.8,212.5 c 2.6,3.5 2.6,6.5 0.6,10.5 s -2.8,8.5 -0.6,17 M2633.8,270 c 2.6,-3.5 2.6,-6.5 0.6,-10.5 s -2.8,-8.5 -0.6,-17 M2657.1,212.5 c 2.6,3.5 2.6,6.5 0.6,10.5 s -2.8,8.5 -0.6,17 M2657.1,270 c 2.6,-3.5 2.6,-6.5 0.6,-10.5 s -2.8,-8.5 -0.6,-17 M2671.6,212.5 c 2.6,3.5 2.6,6.5 0.6,10.5 s -2.8,8.5 -0.6,17 M2671.6,270 c 2.6,-3.5 2.6,-6.5 0.6,-10.5 s -2.8,-8.5 -0.6,-17 M2694.9,212.5 c 2.6,3.5 2.6,6.5 0.6,10.5 s -2.8,8.5 -0.6,17 M2694.9,270 c 2.6,-3.5 2.6,-6.5 0.6,-10.5 s -2.8,-8.5 -0.6,-17 M2709.4,212.5 c 2.6,3.5 2.6,6.5 0.6,10.5 s -2.8,8.5 -0.6,17 M2709.4,270 c 2.6,-3.5 2.6,-6.5 0.6,-10.5 s -2.8,-8.5 -0.6,-17 M2732.7,212.5 c 2.6,3.5 2.6,6.5 0.6,10.5 s -2.8,8.5 -0.6,17 M2732.7,270 c 2.6,-3.5 2.6,-6.5 0.6,-10.5 s -2.8,-8.5 -0.6,-17 M2747.2,212.5 c 2.6,3.5 2.6,6.5 0.6,10.5 s -2.8,8.5 -0.6,17 M2747.2,270 c 2.6,-3.5 2.6,-6.5 0.6,-10.5 s -2.8,-8.5 -0.6,-17 M2770.5,212.5 c 2.6,3.5 2.6,6.5 0.6,10.5 s -2.8,8.5 -0.6,17 M2770.5,270 c 2.6,-3.5 2.6,-6.5 0.6,-10.5 s -2.8,-8.5 -0.6,-17 M2785,212.5 c 2.6,3.5 2.6,6.5 0.6,10.5 s -2.8,8.5 -0.6,17 M2785,270 c 2.6,-3.5 2.6,-6.5 0.6,-10.5 s -2.8,-8.5 -0.6,-17 M2808.3,212.5 c 2.6,3.5 2.6,6.5 0.6,10.5 s -2.8,8.5 -0.6,17 M2808.3,270 c 2.6,-3.5 2.6,-6.5 0.6,-10.5 s -2.8,-8.5 -0.6,-17 M2822.8,212.5 c 2.6,3.5 2.6,6.5 0.6,10.5 s -2.8,8.5 -0.6,17 M2822.8,270 c 2.6,-3.5 2.6,-6.5 0.6,-10.5 s -2.8,-8.5 -0.6,-17 M2846.1,212.5 c 2.6,3.5 2.6,6.5 0.6,10.5 s -2.8,8.5 -0.6,17 M2846.1,270 c 2.6,-3.5 2.6,-6.5 0.6,-10.5 s -2.8,-8.5 -0.6,-17 M2860.6,212.5 c 2.6,3.5 2.6,6.5 0.6,10.5 s -2.8,8.5 -0.6,17 M2860.6,270 c 2.6,-3.5 2.6,-6.5 0.6,-10.5 s -2.8,-8.5 -0.6,-17" fill="none" stroke="#4b89c3" stroke-width="3.4"/>
<circle cx="19.1" cy="195" r="17.4" fill="url(#head)" stroke="#4a89c3" stroke-width="2.4"/>
<ellipse cx="11.6" cy="186.5" rx="4" ry="3.6" fill="#ffffff"/>
<circle cx="19.1" cy="287" r="17.4" fill="url(#head)" stroke="#4a89c3" stroke-width="2.4"/>
<ellipse cx="11.6" cy="278.5" rx="4" ry="3.6" fill="#ffffff"/>
<circle cx="56.9" cy="195" r="17.4" fill="url(#head)" stroke="#4a89c3" stroke-width="2.4"/>
<ellipse cx="49.4" cy="186.5" rx="4" ry="3.6" fill="#ffffff"/>
<circle cx="56.9" cy="287" r="17.4" fill="url(#head)" stroke="#4a89c3" stroke-width="2.4"/>
<ellipse cx="49.4" cy="278.5" rx="4" ry="3.6" fill="#ffffff"/>
<circle cx="94.7" cy="195" r="17.4" fill="url(#head)" stroke="#4a89c3" stroke-width="2.4"/>
<ellipse cx="87.2" cy="186.5" rx="4" ry="3.6" fill="#ffffff"/>
<circle cx="94.7" cy="287" r="17.4" fill="url(#head)" stroke="#4a89c3" stroke-width="2.4"/>
<ellipse cx="87.2" cy="278.5" rx="4" ry="3.6" fill="#ffffff"/>
<circle cx="132.5" cy="195" r="17.4" fill="url(#head)" stroke="#4a89c3" stroke-width="2.4"/>
<ellipse cx="125" cy="186.5" rx="4" ry="3.6" fill="#ffffff"/>
<circle cx="132.5" cy="287" r="17.4" fill="url(#head)" stroke="#4a89c3" stroke-width="2.4"/>
<ellipse cx="125" cy="278.5" rx="4" ry="3.6" fill="#ffffff"/>
<circle cx="170.3" cy="195" r="17.4" fill="url(#head)" stroke="#4a89c3" stroke-width="2.4"/>
<ellipse cx="162.8" cy="186.5" rx="4" ry="3.6" fill="#ffffff"/>
<circle cx="170.3" cy="287" r="17.4" fill="url(#head)" stroke="#4a89c3" stroke-width="2.4"/>
<ellipse cx="162.8" cy="278.5" rx="4" ry="3.6" fill="#ffffff"/>
<circle cx="208.1" cy="195" r="17.4" fill="url(#head)" stroke="#4a89c3" stroke-width="2.4"/>
<ellipse cx="200.6" cy="186.5" rx="4" ry="3.6" fill="#ffffff"/>
<circle cx="208.1" cy="287" r="17.4" fill="url(#head)" stroke="#4a89c3" stroke-width="2.4"/>
<ellipse cx="200.6" cy="278.5" rx="4" ry="3.6" fill="#ffffff"/>
<circle cx="245.9" cy="195" r="17.4" fill="url(#head)" stroke="#4a89c3" stroke-width="2.4"/>
<ellipse cx="238.4" cy="186.5" rx="4" ry="3.6" fill="#ffffff"/>
<circle cx="245.9" cy="287" r="17.4" fill="url(#head)" stroke="#4a89c3" stroke-width="2.4"/>
<ellipse cx="238.4" cy="278.5" rx="4" ry="3.6" fill="#ffffff"/>
<circle cx="283.7" cy="195" r="17.4" fill="url(#head)" stroke="#4a89c3" stroke-width="2.4"/>
<ellipse cx="276.2" cy="186.5" rx="4" ry="3.6" fill="#ffffff"/>
<circle cx="283.7" cy="287" r="17.4" fill="url(#head)" stroke="#4a89c3" stroke-width="2.4"/>
<ellipse cx="276.2" cy="278.5" rx="4" ry="3.6" fill="#ffffff"/>
<circle cx="321.5" cy="195" r="17.4" fill="url(#head)" stroke="#4a89c3" stroke-width="2.4"/>
<ellipse cx="314" cy="186.5" rx="4" ry="3.6" fill="#ffffff"/>
<circle cx="321.5" cy="287" r="17.4" fill="url(#head)" stroke="#4a89c3" stroke-width="2.4"/>
<ellipse cx="314" cy="278.5" rx="4" ry="3.6" fill="#ffffff"/>
<circle cx="359.3" cy="195" r="17.4" fill="url(#head)" stroke="#4a89c3" stroke-width="2.4"/>
<ellipse cx="351.8" cy="186.5" rx="4" ry="3.6" fill="#ffffff"/>
<circle cx="359.3" cy="287" r="17.4" fill="url(#head)" stroke="#4a89c3" stroke-width="2.4"/>
<ellipse cx="351.8" cy="278.5" rx="4" ry="3.6" fill="#ffffff"/>
<circle cx="397.1" cy="195" r="17.4" fill="url(#head)" stroke="#4a89c3" stroke-width="2.4"/>
<ellipse cx="389.6" cy="186.5" rx="4" ry="3.6" fill="#ffffff"/>
<circle cx="397.1" cy="287" r="17.4" fill="url(#head)" stroke="#4a89c3" stroke-width="2.4"/>
<ellipse cx="389.6" cy="278.5" rx="4" ry="3.6" fill="#ffffff"/>
<circle cx="434.9" cy="195" r="17.4" fill="url(#head)" stroke="#4a89c3" stroke-width="2.4"/>
<ellipse cx="427.4" cy="186.5" rx="4" ry="3.6" fill="#ffffff"/>
<circle cx="434.9" cy="287" r="17.4" fill="url(#head)" stroke="#4a89c3" stroke-width="2.4"/>
<ellipse cx="427.4" cy="278.5" rx="4" ry="3.6" fill="#ffffff"/>
<circle cx="472.7" cy="195" r="17.4" fill="url(#head)" stroke="#4a89c3" stroke-width="2.4"/>
<ellipse cx="465.2" cy="186.5" rx="4" ry="3.6" fill="#ffffff"/>
<circle cx="472.7" cy="287" r="17.4" fill="url(#head)" stroke="#4a89c3" stroke-width="2.4"/>
<ellipse cx="465.2" cy="278.5" rx="4" ry="3.6" fill="#ffffff"/>
<circle cx="510.5" cy="195" r="17.4" fill="url(#head)" stroke="#4a89c3" stroke-width="2.4"/>
<ellipse cx="503" cy="186.5" rx="4" ry="3.6" fill="#ffffff"/>
<circle cx="510.5" cy="287" r="17.4" fill="url(#head)" stroke="#4a89c3" stroke-width="2.4"/>
<ellipse cx="503" cy="278.5" rx="4" ry="3.6" fill="#ffffff"/>
<circle cx="548.3" cy="195" r="17.4" fill="url(#head)" stroke="#4a89c3" stroke-width="2.4"/>
<ellipse cx="540.8" cy="186.5" rx="4" ry="3.6" fill="#ffffff"/>
<circle cx="548.3" cy="287" r="17.4" fill="url(#head)" stroke="#4a89c3" stroke-width="2.4"/>
<ellipse cx="540.8" cy="278.5" rx="4" ry="3.6" fill="#ffffff"/>
<circle cx="586.1" cy="195" r="17.4" fill="url(#head)" stroke="#4a89c3" stroke-width="2.4"/>
<ellipse cx="578.6" cy="186.5" rx="4" ry="3.6" fill="#ffffff"/>
<circle cx="586.1" cy="287" r="17.4" fill="url(#head)" stroke="#4a89c3" stroke-width="2.4"/>
<ellipse cx="578.6" cy="278.5" rx="4" ry="3.6" fill="#ffffff"/>
<circle cx="623.9" cy="195" r="17.4" fill="url(#head)" stroke="#4a89c3" stroke-width="2.4"/>
<ellipse cx="616.4" cy="186.5" rx="4" ry="3.6" fill="#ffffff"/>
<circle cx="623.9" cy="287" r="17.4" fill="url(#head)" stroke="#4a89c3" stroke-width="2.4"/>
<ellipse cx="616.4" cy="278.5" rx="4" ry="3.6" fill="#ffffff"/>
<circle cx="661.7" cy="195" r="17.4" fill="url(#head)" stroke="#4a89c3" stroke-width="2.4"/>
<ellipse cx="654.2" cy="186.5" rx="4" ry="3.6" fill="#ffffff"/>
<circle cx="661.7" cy="287" r="17.4" fill="url(#head)" stroke="#4a89c3" stroke-width="2.4"/>
<ellipse cx="654.2" cy="278.5" rx="4" ry="3.6" fill="#ffffff"/>
<circle cx="699.5" cy="195" r="17.4" fill="url(#head)" stroke="#4a89c3" stroke-width="2.4"/>
<ellipse cx="692" cy="186.5" rx="4" ry="3.6" fill="#ffffff"/>
<circle cx="699.5" cy="287" r="17.4" fill="url(#head)" stroke="#4a89c3" stroke-width="2.4"/>
<ellipse cx="692" cy="278.5" rx="4" ry="3.6" fill="#ffffff"/>
<circle cx="737.3" cy="195" r="17.4" fill="url(#head)" stroke="#4a89c3" stroke-width="2.4"/>
<ellipse cx="729.8" cy="186.5" rx="4" ry="3.6" fill="#ffffff"/>
<circle cx="737.3" cy="287" r="17.4" fill="url(#head)" stroke="#4a89c3" stroke-width="2.4"/>
<ellipse cx="729.8" cy="278.5" rx="4" ry="3.6" fill="#ffffff"/>
<circle cx="775.1" cy="195" r="17.4" fill="url(#head)" stroke="#4a89c3" stroke-width="2.4"/>
<ellipse cx="767.6" cy="186.5" rx="4" ry="3.6" fill="#ffffff"/>
<circle cx="775.1" cy="287" r="17.4" fill="url(#head)" stroke="#4a89c3" stroke-width="2.4"/>
<ellipse cx="767.6" cy="278.5" rx="4" ry="3.6" fill="#ffffff"/>
<circle cx="812.9" cy="195" r="17.4" fill="url(#head)" stroke="#4a89c3" stroke-width="2.4"/>
<ellipse cx="805.4" cy="186.5" rx="4" ry="3.6" fill="#ffffff"/>
<circle cx="812.9" cy="287" r="17.4" fill="url(#head)" stroke="#4a89c3" stroke-width="2.4"/>
<ellipse cx="805.4" cy="278.5" rx="4" ry="3.6" fill="#ffffff"/>
<circle cx="850.7" cy="195" r="17.4" fill="url(#head)" stroke="#4a89c3" stroke-width="2.4"/>
<ellipse cx="843.2" cy="186.5" rx="4" ry="3.6" fill="#ffffff"/>
<circle cx="850.7" cy="287" r="17.4" fill="url(#head)" stroke="#4a89c3" stroke-width="2.4"/>
<ellipse cx="843.2" cy="278.5" rx="4" ry="3.6" fill="#ffffff"/>
<circle cx="888.5" cy="195" r="17.4" fill="url(#head)" stroke="#4a89c3" stroke-width="2.4"/>
<ellipse cx="881" cy="186.5" rx="4" ry="3.6" fill="#ffffff"/>
<circle cx="888.5" cy="287" r="17.4" fill="url(#head)" stroke="#4a89c3" stroke-width="2.4"/>
<ellipse cx="881" cy="278.5" rx="4" ry="3.6" fill="#ffffff"/>
<circle cx="926.3" cy="195" r="17.4" fill="url(#head)" stroke="#4a89c3" stroke-width="2.4"/>
<ellipse cx="918.8" cy="186.5" rx="4" ry="3.6" fill="#ffffff"/>
<circle cx="926.3" cy="287" r="17.4" fill="url(#head)" stroke="#4a89c3" stroke-width="2.4"/>
<ellipse cx="918.8" cy="278.5" rx="4" ry="3.6" fill="#ffffff"/>
<circle cx="964.1" cy="195" r="17.4" fill="url(#head)" stroke="#4a89c3" stroke-width="2.4"/>
<ellipse cx="956.6" cy="186.5" rx="4" ry="3.6" fill="#ffffff"/>
<circle cx="964.1" cy="287" r="17.4" fill="url(#head)" stroke="#4a89c3" stroke-width="2.4"/>
<ellipse cx="956.6" cy="278.5" rx="4" ry="3.6" fill="#ffffff"/>
<circle cx="1001.9" cy="195" r="17.4" fill="url(#head)" stroke="#4a89c3" stroke-width="2.4"/>
<ellipse cx="994.4" cy="186.5" rx="4" ry="3.6" fill="#ffffff"/>
<circle cx="1001.9" cy="287" r="17.4" fill="url(#head)" stroke="#4a89c3" stroke-width="2.4"/>
<ellipse cx="994.4" cy="278.5" rx="4" ry="3.6" fill="#ffffff"/>
<circle cx="1039.7" cy="195" r="17.4" fill="url(#head)" stroke="#4a89c3" stroke-width="2.4"/>
<ellipse cx="1032.2" cy="186.5" rx="4" ry="3.6" fill="#ffffff"/>
<circle cx="1039.7" cy="287" r="17.4" fill="url(#head)" stroke="#4a89c3" stroke-width="2.4"/>
<ellipse cx="1032.2" cy="278.5" rx="4" ry="3.6" fill="#ffffff"/>
<circle cx="1077.5" cy="195" r="17.4" fill="url(#head)" stroke="#4a89c3" stroke-width="2.4"/>
<ellipse cx="1070" cy="186.5" rx="4" ry="3.6" fill="#ffffff"/>
<circle cx="1077.5" cy="287" r="17.4" fill="url(#head)" stroke="#4a89c3" stroke-width="2.4"/>
<ellipse cx="1070" cy="278.5" rx="4" ry="3.6" fill="#ffffff"/>
<circle cx="1115.3" cy="195" r="17.4" fill="url(#head)" stroke="#4a89c3" stroke-width="2.4"/>
<ellipse cx="1107.8" cy="186.5" rx="4" ry="3.6" fill="#ffffff"/>
<circle cx="1115.3" cy="287" r="17.4" fill="url(#head)" stroke="#4a89c3" stroke-width="2.4"/>
<ellipse cx="1107.8" cy="278.5" rx="4" ry="3.6" fill="#ffffff"/>
<circle cx="1153.1" cy="195" r="17.4" fill="url(#head)" stroke="#4a89c3" stroke-width="2.4"/>
<ellipse cx="1145.6" cy="186.5" rx="4" ry="3.6" fill="#ffffff"/>
<circle cx="1153.1" cy="287" r="17.4" fill="url(#head)" stroke="#4a89c3" stroke-width="2.4"/>
<ellipse cx="1145.6" cy="278.5" rx="4" ry="3.6" fill="#ffffff"/>
<circle cx="1190.9" cy="195" r="17.4" fill="url(#head)" stroke="#4a89c3" stroke-width="2.4"/>
<ellipse cx="1183.4" cy="186.5" rx="4" ry="3.6" fill="#ffffff"/>
<circle cx="1190.9" cy="287" r="17.4" fill="url(#head)" stroke="#4a89c3" stroke-width="2.4"/>
<ellipse cx="1183.4" cy="278.5" rx="4" ry="3.6" fill="#ffffff"/>
<circle cx="1228.7" cy="195" r="17.4" fill="url(#head)" stroke="#4a89c3" stroke-width="2.4"/>
<ellipse cx="1221.2" cy="186.5" rx="4" ry="3.6" fill="#ffffff"/>
<circle cx="1228.7" cy="287" r="17.4" fill="url(#head)" stroke="#4a89c3" stroke-width="2.4"/>
<ellipse cx="1221.2" cy="278.5" rx="4" ry="3.6" fill="#ffffff"/>
<circle cx="1266.5" cy="195" r="17.4" fill="url(#head)" stroke="#4a89c3" stroke-width="2.4"/>
<ellipse cx="1259" cy="186.5" rx="4" ry="3.6" fill="#ffffff"/>
<circle cx="1266.5" cy="287" r="17.4" fill="url(#head)" stroke="#4a89c3" stroke-width="2.4"/>
<ellipse cx="1259" cy="278.5" rx="4" ry="3.6" fill="#ffffff"/>
<circle cx="1304.3" cy="195" r="17.4" fill="url(#head)" stroke="#4a89c3" stroke-width="2.4"/>
<ellipse cx="1296.8" cy="186.5" rx="4" ry="3.6" fill="#ffffff"/>
<circle cx="1304.3" cy="287" r="17.4" fill="url(#head)" stroke="#4a89c3" stroke-width="2.4"/>
<ellipse cx="1296.8" cy="278.5" rx="4" ry="3.6" fill="#ffffff"/>
<circle cx="1342.1" cy="195" r="17.4" fill="url(#head)" stroke="#4a89c3" stroke-width="2.4"/>
<ellipse cx="1334.6" cy="186.5" rx="4" ry="3.6" fill="#ffffff"/>
<circle cx="1342.1" cy="287" r="17.4" fill="url(#head)" stroke="#4a89c3" stroke-width="2.4"/>
<ellipse cx="1334.6" cy="278.5" rx="4" ry="3.6" fill="#ffffff"/>
<circle cx="1379.9" cy="195" r="17.4" fill="url(#head)" stroke="#4a89c3" stroke-width="2.4"/>
<ellipse cx="1372.4" cy="186.5" rx="4" ry="3.6" fill="#ffffff"/>
<circle cx="1379.9" cy="287" r="17.4" fill="url(#head)" stroke="#4a89c3" stroke-width="2.4"/>
<ellipse cx="1372.4" cy="278.5" rx="4" ry="3.6" fill="#ffffff"/>
<circle cx="1417.7" cy="195" r="17.4" fill="url(#head)" stroke="#4a89c3" stroke-width="2.4"/>
<ellipse cx="1410.2" cy="186.5" rx="4" ry="3.6" fill="#ffffff"/>
<circle cx="1417.7" cy="287" r="17.4" fill="url(#head)" stroke="#4a89c3" stroke-width="2.4"/>
<ellipse cx="1410.2" cy="278.5" rx="4" ry="3.6" fill="#ffffff"/>
<circle cx="1455.5" cy="195" r="17.4" fill="url(#head)" stroke="#4a89c3" stroke-width="2.4"/>
<ellipse cx="1448" cy="186.5" rx="4" ry="3.6" fill="#ffffff"/>
<circle cx="1455.5" cy="287" r="17.4" fill="url(#head)" stroke="#4a89c3" stroke-width="2.4"/>
<ellipse cx="1448" cy="278.5" rx="4" ry="3.6" fill="#ffffff"/>
<circle cx="1493.3" cy="195" r="17.4" fill="url(#head)" stroke="#4a89c3" stroke-width="2.4"/>
<ellipse cx="1485.8" cy="186.5" rx="4" ry="3.6" fill="#ffffff"/>
<circle cx="1493.3" cy="287" r="17.4" fill="url(#head)" stroke="#4a89c3" stroke-width="2.4"/>
<ellipse cx="1485.8" cy="278.5" rx="4" ry="3.6" fill="#ffffff"/>
<circle cx="1531.1" cy="195" r="17.4" fill="url(#head)" stroke="#4a89c3" stroke-width="2.4"/>
<ellipse cx="1523.6" cy="186.5" rx="4" ry="3.6" fill="#ffffff"/>
<circle cx="1531.1" cy="287" r="17.4" fill="url(#head)" stroke="#4a89c3" stroke-width="2.4"/>
<ellipse cx="1523.6" cy="278.5" rx="4" ry="3.6" fill="#ffffff"/>
<circle cx="1568.9" cy="195" r="17.4" fill="url(#head)" stroke="#4a89c3" stroke-width="2.4"/>
<ellipse cx="1561.4" cy="186.5" rx="4" ry="3.6" fill="#ffffff"/>
<circle cx="1568.9" cy="287" r="17.4" fill="url(#head)" stroke="#4a89c3" stroke-width="2.4"/>
<ellipse cx="1561.4" cy="278.5" rx="4" ry="3.6" fill="#ffffff"/>
<circle cx="1606.7" cy="195" r="17.4" fill="url(#head)" stroke="#4a89c3" stroke-width="2.4"/>
<ellipse cx="1599.2" cy="186.5" rx="4" ry="3.6" fill="#ffffff"/>
<circle cx="1606.7" cy="287" r="17.4" fill="url(#head)" stroke="#4a89c3" stroke-width="2.4"/>
<ellipse cx="1599.2" cy="278.5" rx="4" ry="3.6" fill="#ffffff"/>
<circle cx="1644.5" cy="195" r="17.4" fill="url(#head)" stroke="#4a89c3" stroke-width="2.4"/>
<ellipse cx="1637" cy="186.5" rx="4" ry="3.6" fill="#ffffff"/>
<circle cx="1644.5" cy="287" r="17.4" fill="url(#head)" stroke="#4a89c3" stroke-width="2.4"/>
<ellipse cx="1637" cy="278.5" rx="4" ry="3.6" fill="#ffffff"/>
<circle cx="1682.3" cy="195" r="17.4" fill="url(#head)" stroke="#4a89c3" stroke-width="2.4"/>
<ellipse cx="1674.8" cy="186.5" rx="4" ry="3.6" fill="#ffffff"/>
<circle cx="1682.3" cy="287" r="17.4" fill="url(#head)" stroke="#4a89c3" stroke-width="2.4"/>
<ellipse cx="1674.8" cy="278.5" rx="4" ry="3.6" fill="#ffffff"/>
<circle cx="1720.1" cy="195" r="17.4" fill="url(#head)" stroke="#4a89c3" stroke-width="2.4"/>
<ellipse cx="1712.6" cy="186.5" rx="4" ry="3.6" fill="#ffffff"/>
<circle cx="1720.1" cy="287" r="17.4" fill="url(#head)" stroke="#4a89c3" stroke-width="2.4"/>
<ellipse cx="1712.6" cy="278.5" rx="4" ry="3.6" fill="#ffffff"/>
<circle cx="1757.9" cy="195" r="17.4" fill="url(#head)" stroke="#4a89c3" stroke-width="2.4"/>
<ellipse cx="1750.4" cy="186.5" rx="4" ry="3.6" fill="#ffffff"/>
<circle cx="1757.9" cy="287" r="17.4" fill="url(#head)" stroke="#4a89c3" stroke-width="2.4"/>
<ellipse cx="1750.4" cy="278.5" rx="4" ry="3.6" fill="#ffffff"/>
<circle cx="1795.7" cy="195" r="17.4" fill="url(#head)" stroke="#4a89c3" stroke-width="2.4"/>
<ellipse cx="1788.2" cy="186.5" rx="4" ry="3.6" fill="#ffffff"/>
<circle cx="1795.7" cy="287" r="17.4" fill="url(#head)" stroke="#4a89c3" stroke-width="2.4"/>
<ellipse cx="1788.2" cy="278.5" rx="4" ry="3.6" fill="#ffffff"/>
<circle cx="1833.5" cy="195" r="17.4" fill="url(#head)" stroke="#4a89c3" stroke-width="2.4"/>
<ellipse cx="1826" cy="186.5" rx="4" ry="3.6" fill="#ffffff"/>
<circle cx="1833.5" cy="287" r="17.4" fill="url(#head)" stroke="#4a89c3" stroke-width="2.4"/>
<ellipse cx="1826" cy="278.5" rx="4" ry="3.6" fill="#ffffff"/>
<circle cx="1871.3" cy="195" r="17.4" fill="url(#head)" stroke="#4a89c3" stroke-width="2.4"/>
<ellipse cx="1863.8" cy="186.5" rx="4" ry="3.6" fill="#ffffff"/>
<circle cx="1871.3" cy="287" r="17.4" fill="url(#head)" stroke="#4a89c3" stroke-width="2.4"/>
<ellipse cx="1863.8" cy="278.5" rx="4" ry="3.6" fill="#ffffff"/>
<circle cx="1909.1" cy="195" r="17.4" fill="url(#head)" stroke="#4a89c3" stroke-width="2.4"/>
<ellipse cx="1901.6" cy="186.5" rx="4" ry="3.6" fill="#ffffff"/>
<circle cx="1909.1" cy="287" r="17.4" fill="url(#head)" stroke="#4a89c3" stroke-width="2.4"/>
<ellipse cx="1901.6" cy="278.5" rx="4" ry="3.6" fill="#ffffff"/>
<circle cx="1946.9" cy="195" r="17.4" fill="url(#head)" stroke="#4a89c3" stroke-width="2.4"/>
<ellipse cx="1939.4" cy="186.5" rx="4" ry="3.6" fill="#ffffff"/>
<circle cx="1946.9" cy="287" r="17.4" fill="url(#head)" stroke="#4a89c3" stroke-width="2.4"/>
<ellipse cx="1939.4" cy="278.5" rx="4" ry="3.6" fill="#ffffff"/>
<circle cx="1984.7" cy="195" r="17.4" fill="url(#head)" stroke="#4a89c3" stroke-width="2.4"/>
<ellipse cx="1977.2" cy="186.5" rx="4" ry="3.6" fill="#ffffff"/>
<circle cx="1984.7" cy="287" r="17.4" fill="url(#head)" stroke="#4a89c3" stroke-width="2.4"/>
<ellipse cx="1977.2" cy="278.5" rx="4" ry="3.6" fill="#ffffff"/>
<circle cx="2022.5" cy="195" r="17.4" fill="url(#head)" stroke="#4a89c3" stroke-width="2.4"/>
<ellipse cx="2015" cy="186.5" rx="4" ry="3.6" fill="#ffffff"/>
<circle cx="2022.5" cy="287" r="17.4" fill="url(#head)" stroke="#4a89c3" stroke-width="2.4"/>
<ellipse cx="2015" cy="278.5" rx="4" ry="3.6" fill="#ffffff"/>
<circle cx="2060.3" cy="195" r="17.4" fill="url(#head)" stroke="#4a89c3" stroke-width="2.4"/>
<ellipse cx="2052.8" cy="186.5" rx="4" ry="3.6" fill="#ffffff"/>
<circle cx="2060.3" cy="287" r="17.4" fill="url(#head)" stroke="#4a89c3" stroke-width="2.4"/>
<ellipse cx="2052.8" cy="278.5" rx="4" ry="3.6" fill="#ffffff"/>
<circle cx="2098.1" cy="195" r="17.4" fill="url(#head)" stroke="#4a89c3" stroke-width="2.4"/>
<ellipse cx="2090.6" cy="186.5" rx="4" ry="3.6" fill="#ffffff"/>
<circle cx="2098.1" cy="287" r="17.4" fill="url(#head)" stroke="#4a89c3" stroke-width="2.4"/>
<ellipse cx="2090.6" cy="278.5" rx="4" ry="3.6" fill="#ffffff"/>
<circle cx="2135.9" cy="195" r="17.4" fill="url(#head)" stroke="#4a89c3" stroke-width="2.4"/>
<ellipse cx="2128.4" cy="186.5" rx="4" ry="3.6" fill="#ffffff"/>
<circle cx="2135.9" cy="287" r="17.4" fill="url(#head)" stroke="#4a89c3" stroke-width="2.4"/>
<ellipse cx="2128.4" cy="278.5" rx="4" ry="3.6" fill="#ffffff"/>
<circle cx="2173.7" cy="195" r="17.4" fill="url(#head)" stroke="#4a89c3" stroke-width="2.4"/>
<ellipse cx="2166.2" cy="186.5" rx="4" ry="3.6" fill="#ffffff"/>
<circle cx="2173.7" cy="287" r="17.4" fill="url(#head)" stroke="#4a89c3" stroke-width="2.4"/>
<ellipse cx="2166.2" cy="278.5" rx="4" ry="3.6" fill="#ffffff"/>
<circle cx="2211.5" cy="195" r="17.4" fill="url(#head)" stroke="#4a89c3" stroke-width="2.4"/>
<ellipse cx="2204" cy="186.5" rx="4" ry="3.6" fill="#ffffff"/>
<circle cx="2211.5" cy="287" r="17.4" fill="url(#head)" stroke="#4a89c3" stroke-width="2.4"/>
<ellipse cx="2204" cy="278.5" rx="4" ry="3.6" fill="#ffffff"/>
<circle cx="2249.3" cy="195" r="17.4" fill="url(#head)" stroke="#4a89c3" stroke-width="2.4"/>
<ellipse cx="2241.8" cy="186.5" rx="4" ry="3.6" fill="#ffffff"/>
<circle cx="2249.3" cy="287" r="17.4" fill="url(#head)" stroke="#4a89c3" stroke-width="2.4"/>
<ellipse cx="2241.8" cy="278.5" rx="4" ry="3.6" fill="#ffffff"/>
<circle cx="2287.1" cy="195" r="17.4" fill="url(#head)" stroke="#4a89c3" stroke-width="2.4"/>
<ellipse cx="2279.6" cy="186.5" rx="4" ry="3.6" fill="#ffffff"/>
<circle cx="2287.1" cy="287" r="17.4" fill="url(#head)" stroke="#4a89c3" stroke-width="2.4"/>
<ellipse cx="2279.6" cy="278.5" rx="4" ry="3.6" fill="#ffffff"/>
<circle cx="2324.9" cy="195" r="17.4" fill="url(#head)" stroke="#4a89c3" stroke-width="2.4"/>
<ellipse cx="2317.4" cy="186.5" rx="4" ry="3.6" fill="#ffffff"/>
<circle cx="2324.9" cy="287" r="17.4" fill="url(#head)" stroke="#4a89c3" stroke-width="2.4"/>
<ellipse cx="2317.4" cy="278.5" rx="4" ry="3.6" fill="#ffffff"/>
<circle cx="2362.7" cy="195" r="17.4" fill="url(#head)" stroke="#4a89c3" stroke-width="2.4"/>
<ellipse cx="2355.2" cy="186.5" rx="4" ry="3.6" fill="#ffffff"/>
<circle cx="2362.7" cy="287" r="17.4" fill="url(#head)" stroke="#4a89c3" stroke-width="2.4"/>
<ellipse cx="2355.2" cy="278.5" rx="4" ry="3.6" fill="#ffffff"/>
<circle cx="2400.5" cy="195" r="17.4" fill="url(#head)" stroke="#4a89c3" stroke-width="2.4"/>
<ellipse cx="2393" cy="186.5" rx="4" ry="3.6" fill="#ffffff"/>
<circle cx="2400.5" cy="287" r="17.4" fill="url(#head)" stroke="#4a89c3" stroke-width="2.4"/>
<ellipse cx="2393" cy="278.5" rx="4" ry="3.6" fill="#ffffff"/>
<circle cx="2438.3" cy="195" r="17.4" fill="url(#head)" stroke="#4a89c3" stroke-width="2.4"/>
<ellipse cx="2430.8" cy="186.5" rx="4" ry="3.6" fill="#ffffff"/>
<circle cx="2438.3" cy="287" r="17.4" fill="url(#head)" stroke="#4a89c3" stroke-width="2.4"/>
<ellipse cx="2430.8" cy="278.5" rx="4" ry="3.6" fill="#ffffff"/>
<circle cx="2476.1" cy="195" r="17.4" fill="url(#head)" stroke="#4a89c3" stroke-width="2.4"/>
<ellipse cx="2468.6" cy="186.5" rx="4" ry="3.6" fill="#ffffff"/>
<circle cx="2476.1" cy="287" r="17.4" fill="url(#head)" stroke="#4a89c3" stroke-width="2.4"/>
<ellipse cx="2468.6" cy="278.5" rx="4" ry="3.6" fill="#ffffff"/>
<circle cx="2513.9" cy="195" r="17.4" fill="url(#head)" stroke="#4a89c3" stroke-width="2.4"/>
<ellipse cx="2506.4" cy="186.5" rx="4" ry="3.6" fill="#ffffff"/>
<circle cx="2513.9" cy="287" r="17.4" fill="url(#head)" stroke="#4a89c3" stroke-width="2.4"/>
<ellipse cx="2506.4" cy="278.5" rx="4" ry="3.6" fill="#ffffff"/>
<circle cx="2551.7" cy="195" r="17.4" fill="url(#head)" stroke="#4a89c3" stroke-width="2.4"/>
<ellipse cx="2544.2" cy="186.5" rx="4" ry="3.6" fill="#ffffff"/>
<circle cx="2551.7" cy="287" r="17.4" fill="url(#head)" stroke="#4a89c3" stroke-width="2.4"/>
<ellipse cx="2544.2" cy="278.5" rx="4" ry="3.6" fill="#ffffff"/>
<circle cx="2589.5" cy="195" r="17.4" fill="url(#head)" stroke="#4a89c3" stroke-width="2.4"/>
<ellipse cx="2582" cy="186.5" rx="4" ry="3.6" fill="#ffffff"/>
<circle cx="2589.5" cy="287" r="17.4" fill="url(#head)" stroke="#4a89c3" stroke-width="2.4"/>
<ellipse cx="2582" cy="278.5" rx="4" ry="3.6" fill="#ffffff"/>
<circle cx="2627.3" cy="195" r="17.4" fill="url(#head)" stroke="#4a89c3" stroke-width="2.4"/>
<ellipse cx="2619.8" cy="186.5" rx="4" ry="3.6" fill="#ffffff"/>
<circle cx="2627.3" cy="287" r="17.4" fill="url(#head)" stroke="#4a89c3" stroke-width="2.4"/>
<ellipse cx="2619.8" cy="278.5" rx="4" ry="3.6" fill="#ffffff"/>
<circle cx="2665.1" cy="195" r="17.4" fill="url(#head)" stroke="#4a89c3" stroke-width="2.4"/>
<ellipse cx="2657.6" cy="186.5" rx="4" ry="3.6" fill="#ffffff"/>
<circle cx="2665.1" cy="287" r="17.4" fill="url(#head)" stroke="#4a89c3" stroke-width="2.4"/>
<ellipse cx="2657.6" cy="278.5" rx="4" ry="3.6" fill="#ffffff"/>
<circle cx="2702.9" cy="195" r="17.4" fill="url(#head)" stroke="#4a89c3" stroke-width="2.4"/>
<ellipse cx="2695.4" cy="186.5" rx="4" ry="3.6" fill="#ffffff"/>
<circle cx="2702.9" cy="287" r="17.4" fill="url(#head)" stroke="#4a89c3" stroke-width="2.4"/>
<ellipse cx="2695.4" cy="278.5" rx="4" ry="3.6" fill="#ffffff"/>
<circle cx="2740.7" cy="195" r="17.4" fill="url(#head)" stroke="#4a89c3" stroke-width="2.4"/>
<ellipse cx="2733.2" cy="186.5" rx="4" ry="3.6" fill="#ffffff"/>
<circle cx="2740.7" cy="287" r="17.4" fill="url(#head)" stroke="#4a89c3" stroke-width="2.4"/>
<ellipse cx="2733.2" cy="278.5" rx="4" ry="3.6" fill="#ffffff"/>
<circle cx="2778.5" cy="195" r="17.4" fill="url(#head)" stroke="#4a89c3" stroke-width="2.4"/>
<ellipse cx="2771" cy="186.5" rx="4" ry="3.6" fill="#ffffff"/>
<circle cx="2778.5" cy="287" r="17.4" fill="url(#head)" stroke="#4a89c3" stroke-width="2.4"/>
<ellipse cx="2771" cy="278.5" rx="4" ry="3.6" fill="#ffffff"/>
<circle cx="2816.3" cy="195" r="17.4" fill="url(#head)" stroke="#4a89c3" stroke-width="2.4"/>
<ellipse cx="2808.8" cy="186.5" rx="4" ry="3.6" fill="#ffffff"/>
<circle cx="2816.3" cy="287" r="17.4" fill="url(#head)" stroke="#4a89c3" stroke-width="2.4"/>
<ellipse cx="2808.8" cy="278.5" rx="4" ry="3.6" fill="#ffffff"/>
<circle cx="2854.1" cy="195" r="17.4" fill="url(#head)" stroke="#4a89c3" stroke-width="2.4"/>
<ellipse cx="2846.6" cy="186.5" rx="4" ry="3.6" fill="#ffffff"/>
<circle cx="2854.1" cy="287" r="17.4" fill="url(#head)" stroke="#4a89c3" stroke-width="2.4"/>
<ellipse cx="2846.6" cy="278.5" rx="4" ry="3.6" fill="#ffffff"/>
<rect x="2205" y="150" width="10" height="345" fill="url(#inhV1)"/>
<rect x="2152" y="494" width="115" height="11" fill="#e30b12"/>
<rect x="1451.5" y="700" width="10" height="110" fill="url(#inhV2)"/>
<rect x="1399" y="808.6" width="114.5" height="10.6" fill="#e30b12"/>
<rect x="371" y="1631.3" width="425" height="10.5" fill="url(#inhH1)"/>
<rect x="791.5" y="1579" width="10" height="114" fill="#e30b12"/>
<rect x="2176" y="1341" width="294" height="10.5" fill="url(#inhH2)"/>
<rect x="2171.2" y="1288.8" width="10.6" height="114.7" fill="#e30b12"/>
<clipPath id="c2210"><circle cx="2210" cy="74" r="66"/></clipPath>
<circle cx="2210" cy="74" r="66" fill="#f9a21f"/>
<g clip-path="url(#c2210)"><circle cx="2215.3" cy="68.1" r="64.3" fill="#feb72a"/>
<circle cx="2210" cy="74" r="63.8" fill="none" stroke="#ffd88c" stroke-width="4.6" stroke-dasharray="100.2 400.9" transform="rotate(-95 2210 74)"/></g>
<circle cx="2210" cy="74" r="65.5" fill="none" stroke="#f6861f" stroke-width="1.6"/>
<clipPath id="c1456"><circle cx="1456.3" cy="618.2" r="49.4"/></clipPath>
<circle cx="1456.3" cy="618.2" r="49.4" fill="#f9a21f"/>
<g clip-path="url(#c1456)"><circle cx="1460.3" cy="613.8" r="48.2" fill="#feb72a"/>
<circle cx="1456.3" cy="618.2" r="47.2" fill="none" stroke="#ffd88c" stroke-width="3.5" stroke-dasharray="74.1 296.6" transform="rotate(-95 1456.3 618.2)"/></g>
<circle cx="1456.3" cy="618.2" r="48.9" fill="none" stroke="#f6861f" stroke-width="1.6"/>
<clipPath id="c248"><circle cx="248.5" cy="1636.3" r="49.5"/></clipPath>
<circle cx="248.5" cy="1636.3" r="49.5" fill="#f9a21f"/>
<g clip-path="url(#c248)"><circle cx="252.5" cy="1631.8" r="48.3" fill="#feb72a"/>
<circle cx="248.5" cy="1636.3" r="47.3" fill="none" stroke="#ffd88c" stroke-width="3.5" stroke-dasharray="74.3 297.2" transform="rotate(-95 248.5 1636.3)"/></g>
<circle cx="248.5" cy="1636.3" r="49" fill="none" stroke="#f6861f" stroke-width="1.6"/>
<clipPath id="c2582"><circle cx="2582" cy="1346.8" r="49.7"/></clipPath>
<circle cx="2582" cy="1346.8" r="49.7" fill="#f9a21f"/>
<g clip-path="url(#c2582)"><circle cx="2586" cy="1342.3" r="48.5" fill="#feb72a"/>
<circle cx="2582" cy="1346.8" r="47.5" fill="none" stroke="#ffd88c" stroke-width="3.5" stroke-dasharray="74.6 298.5" transform="rotate(-95 2582 1346.8)"/></g>
<circle cx="2582" cy="1346.8" r="49.2" fill="none" stroke="#f6861f" stroke-width="1.6"/>
<rect x="1978.7" y="623.6" width="48" height="48" fill="url(#sq)" stroke="#27afc6" stroke-width="2.6" transform="rotate(30 2002.7 647.6)"/>
<rect x="2304" y="555.1" width="49" height="49" fill="url(#sq)" stroke="#27afc6" stroke-width="2.6" transform="rotate(-6 2328.5 579.6)"/>
<rect x="2196.6" y="722" width="48" height="48" fill="url(#sq)" stroke="#27afc6" stroke-width="2.6" transform="rotate(-22.4 2220.6 746)"/>
<circle cx="2083.5" cy="618.5" r="23.2" fill="url(#ball)" stroke="#3f70bf" stroke-width="2.6"/>
<circle cx="2427.4" cy="604.4" r="23.2" fill="url(#ball)" stroke="#3f70bf" stroke-width="2.6"/>
<circle cx="2450.7" cy="768.3" r="40.8" fill="url(#ball)" stroke="#3f70bf" stroke-width="2.6"/>
<polygon points="2069.6,678.6 2095.6,691.4 2121.6,678.6 2131,706 2158.4,715.4 2145.6,741.4 2158.4,767.4 2131,776.8 2121.6,804.2 2095.6,791.4 2069.6,804.2 2060.2,776.8 2032.8,767.4 2045.6,741.4 2032.8,715.4 2060.2,706" fill="url(#star)" stroke="#7b50d8" stroke-width="3" stroke-linejoin="miter"/>
<polygon points="2212.9,585 2223.5,599.9 2241.7,600.2 2238.6,618.1 2251.3,631.2 2236.4,641.8 2236.1,660 2218.2,656.9 2205.1,669.6 2194.5,654.7 2176.3,654.4 2179.4,636.5 2166.7,623.4 2181.6,612.8 2181.9,594.6 2199.8,597.7" fill="url(#star)" stroke="#7b50d8" stroke-width="3" stroke-linejoin="miter"/>
<polygon points="2316.8,698.8 2330.1,710.7 2347.7,707.6 2348.7,725.5 2363.3,735.7 2351.4,749 2354.5,766.6 2336.6,767.6 2326.4,782.2 2313.1,770.3 2295.5,773.4 2294.5,755.5 2279.9,745.3 2291.8,732 2288.7,714.4 2306.6,713.4" fill="url(#star)" stroke="#7b50d8" stroke-width="3" stroke-linejoin="miter"/>
<polygon points="2068.1,885.9 2080.8,899 2098.9,896.4 2098.6,914.7 2113.2,925.6 2100.1,938.3 2102.7,956.4 2084.4,956.1 2073.5,970.7 2060.8,957.6 2042.7,960.2 2043,941.9 2028.4,931 2041.5,918.3 2038.9,900.2 2057.2,900.5" fill="url(#star)" stroke="#7b50d8" stroke-width="3" stroke-linejoin="miter"/>
<polygon points="2310.6,652.6 2357.1,631.5 2358,683.5" fill="url(#tri)" stroke="#d61c42" stroke-width="2.8" stroke-linejoin="miter"/>
<polygon points="1939.2,737.2 1991.3,728 1969.1,781.5" fill="url(#tri)" stroke="#d61c42" stroke-width="2.8" stroke-linejoin="miter"/>
<polygon points="2222.8,805.5 2166.3,891.2 2279.3,891.2" fill="url(#tri)" stroke="#d61c42" stroke-width="2.8" stroke-linejoin="miter"/>
<polygon points="2354,869.9 2404,857.5 2396.2,908.3" fill="url(#tri)" stroke="#d61c42" stroke-width="2.8" stroke-linejoin="miter"/>
<line x1="1030" y1="839.5" x2="1895" y2="839.5" stroke="#000" stroke-width="5"/>
<polygon points="1012.4,839.5 1034,829 1034,850" fill="#000"/>
<rect x="980" y="776.8" width="10" height="121" fill="url(#garrow)"/>
<polygon points="971,896 1000,896 985.5,925.3" fill="url(#garrow)"/>
<path d="M948.6,1511.5 C887.8,1464.1 694.9,1325.4 674,1007.5" fill="none" stroke="#000" stroke-width="6"/>
<polygon points="672.9,978.3 659,1006.7 688.2,1006.7" fill="#000"/>
<path d="M2205.4,993.6 C2204.6,1304.9 1981,1451.3 1905,1484" fill="none" stroke="#000" stroke-width="6"/>
<polygon points="1881,1500 1894,1473.5 1912.5,1498" fill="#000"/>
<path d="M1011.5,1672 L1011.5,1528 L1220,1528" fill="none" stroke="#000" stroke-width="5"/>
<polygon points="1236,1528 1216.7,1517.5 1216.7,1538.5" fill="#000"/>
<clipPath id="blobclip"><path d="M613,566.3 C616.9,565.5 618.7,563.1 624,566 C629.3,568.9 636.6,575.6 645,583.5 C653.4,591.4 664.4,604.6 674.1,613.5 C683.9,622.4 695.2,629.8 703.5,637.1 C711.8,644.5 719,650.2 724.1,657.6 C729.2,665 732.7,674.3 734.4,681.2 C736.1,688.1 735.6,692.4 734.4,698.8 C733.2,705.2 732.2,711.5 727.1,719.4 C722,727.2 712.3,738.5 703.5,745.9 C694.7,753.2 683.9,759.2 674.1,763.5 C664.3,767.8 654.5,770.8 644.7,771.8 C634.9,772.8 624.1,771.3 615.3,769.4 C606.5,767.5 598.2,764.5 591.8,760.6 C585.4,756.7 580.8,752.3 577.1,745.9 C573.4,739.5 571,732.2 569.7,722.4 C568.4,712.6 569,697.9 569.1,687.1 C569.2,676.3 570.5,667.4 570.6,657.6 C570.7,647.8 569.1,637 569.7,628.2 C570.3,619.4 571.4,612.1 574.1,604.7 C576.8,597.4 581.5,589.7 585.9,584.1 C590.3,578.5 596,574 600.5,571 C605,568 609.1,567.1 613,566.3Z"/></clipPath>
<path d="M613,566.3 C616.9,565.5 618.7,563.1 624,566 C629.3,568.9 636.6,575.6 645,583.5 C653.4,591.4 664.4,604.6 674.1,613.5 C683.9,622.4 695.2,629.8 703.5,637.1 C711.8,644.5 719,650.2 724.1,657.6 C729.2,665 732.7,674.3 734.4,681.2 C736.1,688.1 735.6,692.4 734.4,698.8 C733.2,705.2 732.2,711.5 727.1,719.4 C722,727.2 712.3,738.5 703.5,745.9 C694.7,753.2 683.9,759.2 674.1,763.5 C664.3,767.8 654.5,770.8 644.7,771.8 C634.9,772.8 624.1,771.3 615.3,769.4 C606.5,767.5 598.2,764.5 591.8,760.6 C585.4,756.7 580.8,752.3 577.1,745.9 C573.4,739.5 571,732.2 569.7,722.4 C568.4,712.6 569,697.9 569.1,687.1 C569.2,676.3 570.5,667.4 570.6,657.6 C570.7,647.8 569.1,637 569.7,628.2 C570.3,619.4 571.4,612.1 574.1,604.7 C576.8,597.4 581.5,589.7 585.9,584.1 C590.3,578.5 596,574 600.5,571 C605,568 609.1,567.1 613,566.3Z" fill="#f4a08e"/>
<g clip-path="url(#blobclip)"><path d="M611.6,567.5 C619.1,568.6 629.6,573.7 639.9,581.6 C650.2,589.5 662.1,605.2 673.2,614.9 C684.3,624.6 697.3,631.6 706.5,639.9 C715.7,648.2 723.3,656.6 728.2,664.9 C733.1,673.2 734.9,681.6 736,689.9 C737.1,698.2 737.3,707.7 735,714.9 C732.7,722.1 728,727.1 722,733 C716,738.9 706.6,745.5 699,750 C691.4,754.5 685.1,758.4 676.6,759.8 C668.1,761.2 657.7,759.3 648.2,758.2 C638.8,757.1 628.2,756.3 619.9,753.2 C611.6,750.1 603.6,745.4 598.3,739.8 C593,734.2 590.4,728.1 588.3,719.8 C586.2,711.5 586.9,698.2 585.8,689.9 C584.7,681.6 583.3,678.2 581.6,669.9 C579.9,661.6 576.8,649.9 575.8,639.9 C574.8,629.9 574.5,618.2 575.8,609.9 C577,601.6 580.1,595.8 583.3,590 C586.5,584.2 590.3,578.8 595,575 C599.7,571.2 604.1,566.4 611.6,567.5Z" fill="#f9b8a8"/></g>
<g clip-path="url(#blobclip)"><path d="M613,566.3 C616.9,565.5 618.7,563.1 624,566 C629.3,568.9 636.6,575.6 645,583.5 C653.4,591.4 664.4,604.6 674.1,613.5 C683.9,622.4 695.2,629.8 703.5,637.1 C711.8,644.5 719,650.2 724.1,657.6 C729.2,665 732.7,674.3 734.4,681.2 C736.1,688.1 735.6,692.4 734.4,698.8 C733.2,705.2 732.2,711.5 727.1,719.4 C722,727.2 712.3,738.5 703.5,745.9 C694.7,753.2 683.9,759.2 674.1,763.5 C664.3,767.8 654.5,770.8 644.7,771.8 C634.9,772.8 624.1,771.3 615.3,769.4 C606.5,767.5 598.2,764.5 591.8,760.6 C585.4,756.7 580.8,752.3 577.1,745.9 C573.4,739.5 571,732.2 569.7,722.4 C568.4,712.6 569,697.9 569.1,687.1 C569.2,676.3 570.5,667.4 570.6,657.6 C570.7,647.8 569.1,637 569.7,628.2 C570.3,619.4 571.4,612.1 574.1,604.7 C576.8,597.4 581.5,589.7 585.9,584.1 C590.3,578.5 596,574 600.5,571 C605,568 609.1,567.1 613,566.3Z" fill="none" stroke="#ffd3c8" stroke-width="3" transform="translate(-3.6 3.8)"/></g>
<path d="M613,566.3 C616.9,565.5 618.7,563.1 624,566 C629.3,568.9 636.6,575.6 645,583.5 C653.4,591.4 664.4,604.6 674.1,613.5 C683.9,622.4 695.2,629.8 703.5,637.1 C711.8,644.5 719,650.2 724.1,657.6 C729.2,665 732.7,674.3 734.4,681.2 C736.1,688.1 735.6,692.4 734.4,698.8 C733.2,705.2 732.2,711.5 727.1,719.4 C722,727.2 712.3,738.5 703.5,745.9 C694.7,753.2 683.9,759.2 674.1,763.5 C664.3,767.8 654.5,770.8 644.7,771.8 C634.9,772.8 624.1,771.3 615.3,769.4 C606.5,767.5 598.2,764.5 591.8,760.6 C585.4,756.7 580.8,752.3 577.1,745.9 C573.4,739.5 571,732.2 569.7,722.4 C568.4,712.6 569,697.9 569.1,687.1 C569.2,676.3 570.5,667.4 570.6,657.6 C570.7,647.8 569.1,637 569.7,628.2 C570.3,619.4 571.4,612.1 574.1,604.7 C576.8,597.4 581.5,589.7 585.9,584.1 C590.3,578.5 596,574 600.5,571 C605,568 609.1,567.1 613,566.3Z" fill="none" stroke="#e06f5c" stroke-width="2"/>
<rect x="1237.2" y="1476.7" width="257.8" height="103.6" rx="21" ry="21" fill="url(#mcp)" stroke="#f59dac" stroke-width="2"/>
<g><rect x="855.8" y="1683.1" width="14.5" height="60.4" fill="#f07c91"/>
<rect x="855.8" y="1743.5" width="14.5" height="55.2" fill="#ffa8b7"/>
<rect x="855.8" y="1683.1" width="14.5" height="115.6" fill="none" stroke="#e2243f" stroke-width="2.6"/>
<rect x="970.2" y="1690.4" width="14.5" height="53.1" fill="#ffa8b7"/>
<rect x="970.2" y="1743.5" width="14.5" height="37.7" fill="#f07c91"/>
<rect x="970.2" y="1690.4" width="14.5" height="90.9" fill="none" stroke="#e2243f" stroke-width="2.6"/>
<rect x="1025.8" y="1691.5" width="14.5" height="52" fill="#f07c91"/>
<rect x="1025.8" y="1743.5" width="14.5" height="59.9" fill="#ffa8b7"/>
<rect x="1025.8" y="1691.5" width="14.5" height="111.9" fill="none" stroke="#e2243f" stroke-width="2.6"/>
<rect x="1141.8" y="1698.5" width="14.5" height="45" fill="#ffa8b7"/>
<rect x="1141.8" y="1743.5" width="14.5" height="56.7" fill="#f07c91"/>
<rect x="1141.8" y="1698.5" width="14.5" height="101.7" fill="none" stroke="#e2243f" stroke-width="2.6"/>
<rect x="1197.5" y="1686" width="14.5" height="57.5" fill="#f07c91"/>
<rect x="1197.5" y="1743.5" width="14.5" height="46.6" fill="#ffa8b7"/>
<rect x="1197.5" y="1686" width="14.5" height="104.1" fill="none" stroke="#e2243f" stroke-width="2.6"/>
<rect x="1313.8" y="1684.1" width="14.5" height="59.4" fill="#f07c91"/>
<rect x="1313.8" y="1743.5" width="14.5" height="50.9" fill="#ffa8b7"/>
<rect x="1313.8" y="1684.1" width="14.5" height="110.3" fill="none" stroke="#e2243f" stroke-width="2.6"/>
<rect x="1369.2" y="1703.6" width="14.5" height="39.9" fill="#ffa8b7"/>
<rect x="1369.2" y="1743.5" width="14.5" height="54.2" fill="#f07c91"/>
<rect x="1369.2" y="1703.6" width="14.5" height="94.1" fill="none" stroke="#e2243f" stroke-width="2.6"/>
<rect x="1484" y="1689.5" width="14.5" height="54" fill="#f07c91"/>
<rect x="1484" y="1743.5" width="14.5" height="60.7" fill="#ffa8b7"/>
<rect x="1484" y="1689.5" width="14.5" height="114.7" fill="none" stroke="#e2243f" stroke-width="2.6"/>
<rect x="1540" y="1692.3" width="14.5" height="51.2" fill="#ffa8b7"/>
<rect x="1540" y="1743.5" width="14.5" height="34" fill="#f07c91"/>
<rect x="1540" y="1692.3" width="14.5" height="85.2" fill="none" stroke="#e2243f" stroke-width="2.6"/>
<rect x="1635.2" y="1687.8" width="14.5" height="55.7" fill="#f07c91"/>
<rect x="1635.2" y="1743.5" width="14.5" height="42.9" fill="#ffa8b7"/>
<rect x="1635.2" y="1687.8" width="14.5" height="98.6" fill="none" stroke="#e2243f" stroke-width="2.6"/>
<rect x="1690.5" y="1694.6" width="14.5" height="48.9" fill="#ffa8b7"/>
<rect x="1690.5" y="1743.5" width="14.5" height="58.5" fill="#f07c91"/>
<rect x="1690.5" y="1694.6" width="14.5" height="107.4" fill="none" stroke="#e2243f" stroke-width="2.6"/>
<rect x="1806" y="1697.5" width="14.5" height="46" fill="#f07c91"/>
<rect x="1806" y="1743.5" width="14.5" height="57.2" fill="#ffa8b7"/>
<rect x="1806" y="1697.5" width="14.5" height="103.2" fill="none" stroke="#e2243f" stroke-width="2.6"/>
<rect x="1861.8" y="1684.5" width="14.5" height="59" fill="#ffa8b7"/>
<rect x="1861.8" y="1743.5" width="14.5" height="50" fill="#f07c91"/>
<rect x="1861.8" y="1684.5" width="14.5" height="108.9" fill="none" stroke="#e2243f" stroke-width="2.6"/>
<rect x="1992.2" y="1683.1" width="14.5" height="60.4" fill="#f07c91"/>
<rect x="1992.2" y="1743.5" width="14.5" height="53.4" fill="#ffa8b7"/>
<rect x="1992.2" y="1683.1" width="14.5" height="113.8" fill="none" stroke="#e2243f" stroke-width="2.6"/>
<polygon points="1022.2,1810.3 1023,1810.6 1023.9,1810.9 1024.7,1811.2 1025.5,1811.4 1026.4,1811.6 1027.2,1811.9 1028,1812.1 1028.9,1812.3 1029.7,1812.5 1030.5,1812.6 1031.4,1812.8 1032.2,1813 1033,1813.1 1033.9,1813.2 1034.7,1813.3 1035.6,1813.5 1036.4,1813.6 1037.2,1813.6 1038.1,1813.7 1038.9,1813.8 1039.7,1813.9 1040.6,1813.9 1041.4,1813.9 1042.2,1814 1043.1,1814 1043.9,1814 1044.7,1814 1045.6,1814 1046.4,1814 1047.2,1813.9 1048.1,1813.9 1048.9,1813.8 1049.8,1813.8 1050.6,1813.7 1051.4,1813.6 1052.3,1813.5 1053.1,1813.4 1053.9,1813.3 1054.8,1813.2 1055.6,1813 1056.4,1812.9 1057.3,1812.7 1058.1,1812.6 1058.9,1812.4 1059.8,1812.2 1060.6,1812 1061.4,1811.8 1062.3,1811.5 1063.1,1811.3 1063.9,1811.1 1064.8,1810.8 1065.6,1810.5 1066.5,1810.2 1067.3,1809.9 1068.1,1809.6 1069,1809.3 1069.8,1808.9 1070.6,1808.6 1071.5,1808.2 1072.3,1807.8 1073.1,1807.4 1074,1807 1074.8,1806.6 1075.6,1806.1 1076.5,1805.6 1077.3,1805.2 1078.1,1804.7 1079,1804.2 1079.8,1803.6 1080.6,1803.1 1081.5,1802.5 1082.3,1801.9 1083.2,1801.3 1084,1800.7 1084.8,1800.1 1085.7,1799.4 1086.5,1798.7 1087.3,1798 1088.2,1797.3 1089,1796.6 1089.8,1795.8 1090.7,1795 1091.5,1794.2 1092.3,1793.4 1093.2,1792.5 1094,1791.7 1094.8,1790.8 1095.7,1789.9 1096.5,1788.9 1097.3,1788 1098.2,1787 1099,1786 1099.8,1785 1100.7,1783.9 1101.5,1782.9 1102.4,1781.8 1103.2,1780.7 1104,1779.5 1104.9,1778.4 1105.7,1777.2 1106.5,1776 1107.4,1774.8 1108.2,1773.6 1109,1772.3 1109.9,1771.1 1110.7,1769.8 1111.5,1768.5 1112.4,1767.2 1113.2,1765.8 1114,1764.5 1114.9,1763.1 1115.7,1761.7 1116.5,1760.3 1117.4,1758.9 1118.2,1757.5 1119.1,1756.1 1119.9,1754.7 1120.7,1753.3 1121.6,1751.8 1122.4,1750.4 1123.2,1749 1124.1,1747.5 1124.9,1746.1 1125.7,1744.7 1126.6,1743.2 1127.4,1741.8 1128.2,1740.4 1129.1,1739 1129.9,1737.5 1130.7,1736.2 1131.6,1734.8 1132.4,1733.4 1133.2,1732 1134.1,1730.7 1134.9,1729.3 1135.8,1728 1136.6,1726.7 1137.4,1725.4 1138.3,1724.2 1139.1,1722.9 1139.9,1721.7 1140.8,1720.5 1141.6,1719.3 1142.4,1718.1 1143.3,1717 1144.1,1715.9 1144.9,1714.8 1145.8,1713.7 1146.6,1712.6 1147.4,1711.6 1148.3,1710.6 1149.1,1709.6 1150,1708.7 1150.8,1707.8 1151.6,1706.9 1152.5,1706 1153.3,1705.1 1154.1,1704.3 1155,1703.5 1155.8,1702.7 1156.6,1701.9 1157.5,1701.2 1158.3,1700.5 1159.1,1699.8 1160,1699.1 1160.8,1698.5 1161.6,1697.8 1162.5,1697.2 1163.3,1696.6 1164.1,1696.1 1165,1695.5 1165.8,1695 1166.7,1694.5 1167.5,1694 1168.3,1693.5 1169.2,1693 1170,1692.6 1170.8,1692.2 1171.7,1691.8 1172.5,1691.4 1173.3,1691 1174.2,1690.6 1175,1690.3 1175.8,1689.9 1176.7,1689.6 1177.5,1689.3 1178.3,1689 1179.2,1688.7 1180,1688.5 1180.8,1688.2 1181.7,1688 1182.5,1687.7 1183.3,1687.5 1184.2,1687.3 1185,1687.1 1185.9,1686.9 1185.9,1676.4 1185,1676.1 1184.2,1675.9 1183.3,1675.6 1182.5,1675.4 1181.7,1675.2 1180.8,1674.9 1180,1674.7 1179.2,1674.6 1178.3,1674.4 1177.5,1674.2 1176.7,1674.1 1175.8,1673.9 1175,1673.8 1174.2,1673.7 1173.3,1673.5 1172.5,1673.4 1171.7,1673.4 1170.8,1673.3 1170,1673.2 1169.2,1673.1 1168.3,1673.1 1167.5,1673.1 1166.7,1673 1165.8,1673 1165,1673 1164.1,1673 1163.3,1673 1162.5,1673 1161.6,1673.1 1160.8,1673.1 1160,1673.2 1159.1,1673.2 1158.3,1673.3 1157.5,1673.4 1156.6,1673.5 1155.8,1673.6 1155,1673.7 1154.1,1673.8 1153.3,1673.9 1152.5,1674.1 1151.6,1674.3 1150.8,1674.4 1150,1674.6 1149.1,1674.8 1148.3,1675 1147.4,1675.2 1146.6,1675.4 1145.8,1675.7 1144.9,1675.9 1144.1,1676.2 1143.3,1676.5 1142.4,1676.8 1141.6,1677.1 1140.8,1677.4 1139.9,1677.7 1139.1,1678 1138.3,1678.4 1137.4,1678.8 1136.6,1679.2 1135.8,1679.6 1134.9,1680 1134.1,1680.4 1133.2,1680.9 1132.4,1681.3 1131.6,1681.8 1130.7,1682.3 1129.9,1682.8 1129.1,1683.3 1128.2,1683.9 1127.4,1684.4 1126.6,1685 1125.7,1685.6 1124.9,1686.2 1124.1,1686.9 1123.2,1687.5 1122.4,1688.2 1121.6,1688.9 1120.7,1689.6 1119.9,1690.4 1119.1,1691.1 1118.2,1691.9 1117.4,1692.7 1116.5,1693.5 1115.7,1694.4 1114.9,1695.3 1114,1696.1 1113.2,1697 1112.4,1698 1111.5,1698.9 1110.7,1699.9 1109.9,1700.9 1109,1701.9 1108.2,1703 1107.4,1704 1106.5,1705.1 1105.7,1706.2 1104.9,1707.4 1104,1708.5 1103.2,1709.7 1102.4,1710.9 1101.5,1712.1 1100.7,1713.3 1099.8,1714.6 1099,1715.8 1098.2,1717.1 1097.3,1718.4 1096.5,1719.7 1095.7,1721.1 1094.8,1722.4 1094,1723.8 1093.2,1725.2 1092.3,1726.5 1091.5,1727.9 1090.7,1729.4 1089.8,1730.8 1089,1732.2 1088.2,1733.6 1087.3,1735 1086.5,1736.5 1085.7,1737.9 1084.8,1739.4 1084,1740.8 1083.2,1742.2 1082.3,1743.7 1081.5,1745.1 1080.6,1746.5 1079.8,1747.9 1079,1749.3 1078.1,1750.7 1077.3,1752.1 1076.5,1753.5 1075.6,1754.9 1074.8,1756.2 1074,1757.6 1073.1,1758.9 1072.3,1760.2 1071.5,1761.5 1070.6,1762.7 1069.8,1764 1069,1765.2 1068.1,1766.4 1067.3,1767.6 1066.5,1768.8 1065.6,1769.9 1064.8,1771.1 1063.9,1772.1 1063.1,1773.2 1062.3,1774.3 1061.4,1775.3 1060.6,1776.3 1059.8,1777.3 1058.9,1778.2 1058.1,1779.2 1057.3,1780.1 1056.4,1781 1055.6,1781.8 1054.8,1782.7 1053.9,1783.5 1053.1,1784.3 1052.3,1785 1051.4,1785.8 1050.6,1786.5 1049.8,1787.2 1048.9,1787.8 1048.1,1788.5 1047.2,1789.1 1046.4,1789.7 1045.6,1790.3 1044.7,1790.9 1043.9,1791.5 1043.1,1792 1042.2,1792.5 1041.4,1793 1040.6,1793.5 1039.7,1793.9 1038.9,1794.4 1038.1,1794.8 1037.2,1795.2 1036.4,1795.6 1035.6,1796 1034.7,1796.3 1033.9,1796.7 1033,1797 1032.2,1797.4 1031.4,1797.7 1030.5,1798 1029.7,1798.2 1028.9,1798.5 1028,1798.8 1027.2,1799 1026.4,1799.3 1025.5,1799.5 1024.7,1799.7 1023.9,1799.9 1023,1800.1 1022.2,1800.3" fill="#f07c91" stroke="#f07c91" stroke-width="1.2"/>
<polyline points="1022.2,1810.3 1023,1810.6 1023.9,1810.9 1024.7,1811.2 1025.5,1811.4 1026.4,1811.6 1027.2,1811.9 1028,1812.1 1028.9,1812.3 1029.7,1812.5 1030.5,1812.6 1031.4,1812.8 1032.2,1813 1033,1813.1 1033.9,1813.2 1034.7,1813.3 1035.6,1813.5 1036.4,1813.6 1037.2,1813.6 1038.1,1813.7 1038.9,1813.8 1039.7,1813.9 1040.6,1813.9 1041.4,1813.9 1042.2,1814 1043.1,1814 1043.9,1814 1044.7,1814 1045.6,1814 1046.4,1814 1047.2,1813.9 1048.1,1813.9 1048.9,1813.8 1049.8,1813.8 1050.6,1813.7 1051.4,1813.6 1052.3,1813.5 1053.1,1813.4 1053.9,1813.3 1054.8,1813.2 1055.6,1813 1056.4,1812.9 1057.3,1812.7 1058.1,1812.6 1058.9,1812.4 1059.8,1812.2 1060.6,1812 1061.4,1811.8 1062.3,1811.5 1063.1,1811.3 1063.9,1811.1 1064.8,1810.8 1065.6,1810.5 1066.5,1810.2 1067.3,1809.9 1068.1,1809.6 1069,1809.3 1069.8,1808.9 1070.6,1808.6 1071.5,1808.2 1072.3,1807.8 1073.1,1807.4 1074,1807 1074.8,1806.6 1075.6,1806.1 1076.5,1805.6 1077.3,1805.2 1078.1,1804.7 1079,1804.2 1079.8,1803.6 1080.6,1803.1 1081.5,1802.5 1082.3,1801.9 1083.2,1801.3 1084,1800.7 1084.8,1800.1 1085.7,1799.4 1086.5,1798.7 1087.3,1798 1088.2,1797.3 1089,1796.6 1089.8,1795.8 1090.7,1795 1091.5,1794.2 1092.3,1793.4 1093.2,1792.5 1094,1791.7 1094.8,1790.8 1095.7,1789.9 1096.5,1788.9 1097.3,1788 1098.2,1787 1099,1786 1099.8,1785 1100.7,1783.9 1101.5,1782.9 1102.4,1781.8 1103.2,1780.7 1104,1779.5 1104.9,1778.4 1105.7,1777.2 1106.5,1776 1107.4,1774.8 1108.2,1773.6 1109,1772.3 1109.9,1771.1 1110.7,1769.8 1111.5,1768.5 1112.4,1767.2 1113.2,1765.8 1114,1764.5 1114.9,1763.1 1115.7,1761.7 1116.5,1760.3 1117.4,1758.9 1118.2,1757.5 1119.1,1756.1 1119.9,1754.7 1120.7,1753.3 1121.6,1751.8 1122.4,1750.4 1123.2,1749 1124.1,1747.5 1124.9,1746.1 1125.7,1744.7 1126.6,1743.2 1127.4,1741.8 1128.2,1740.4 1129.1,1739 1129.9,1737.5 1130.7,1736.2 1131.6,1734.8 1132.4,1733.4 1133.2,1732 1134.1,1730.7 1134.9,1729.3 1135.8,1728 1136.6,1726.7 1137.4,1725.4 1138.3,1724.2 1139.1,1722.9 1139.9,1721.7 1140.8,1720.5 1141.6,1719.3 1142.4,1718.1 1143.3,1717 1144.1,1715.9 1144.9,1714.8 1145.8,1713.7 1146.6,1712.6 1147.4,1711.6 1148.3,1710.6 1149.1,1709.6 1150,1708.7 1150.8,1707.8 1151.6,1706.9 1152.5,1706 1153.3,1705.1 1154.1,1704.3 1155,1703.5 1155.8,1702.7 1156.6,1701.9 1157.5,1701.2 1158.3,1700.5 1159.1,1699.8 1160,1699.1 1160.8,1698.5 1161.6,1697.8 1162.5,1697.2 1163.3,1696.6 1164.1,1696.1 1165,1695.5 1165.8,1695 1166.7,1694.5 1167.5,1694 1168.3,1693.5 1169.2,1693 1170,1692.6 1170.8,1692.2 1171.7,1691.8 1172.5,1691.4 1173.3,1691 1174.2,1690.6 1175,1690.3 1175.8,1689.9 1176.7,1689.6 1177.5,1689.3 1178.3,1689 1179.2,1688.7 1180,1688.5 1180.8,1688.2 1181.7,1688 1182.5,1687.7 1183.3,1687.5 1184.2,1687.3 1185,1687.1 1185.9,1686.9" fill="none" stroke="#e2243f" stroke-width="3" stroke-linejoin="round"/>
<polyline points="1022.2,1800.3 1023,1800.1 1023.9,1799.9 1024.7,1799.7 1025.5,1799.5 1026.4,1799.3 1027.2,1799 1028,1798.8 1028.9,1798.5 1029.7,1798.2 1030.5,1798 1031.4,1797.7 1032.2,1797.4 1033,1797 1033.9,1796.7 1034.7,1796.3 1035.6,1796 1036.4,1795.6 1037.2,1795.2 1038.1,1794.8 1038.9,1794.4 1039.7,1793.9 1040.6,1793.5 1041.4,1793 1042.2,1792.5 1043.1,1792 1043.9,1791.5 1044.7,1790.9 1045.6,1790.3 1046.4,1789.7 1047.2,1789.1 1048.1,1788.5 1048.9,1787.8 1049.8,1787.2 1050.6,1786.5 1051.4,1785.8 1052.3,1785 1053.1,1784.3 1053.9,1783.5 1054.8,1782.7 1055.6,1781.8 1056.4,1781 1057.3,1780.1 1058.1,1779.2 1058.9,1778.2 1059.8,1777.3 1060.6,1776.3 1061.4,1775.3 1062.3,1774.3 1063.1,1773.2 1063.9,1772.1 1064.8,1771.1 1065.6,1769.9 1066.5,1768.8 1067.3,1767.6 1068.1,1766.4 1069,1765.2 1069.8,1764 1070.6,1762.7 1071.5,1761.5 1072.3,1760.2 1073.1,1758.9 1074,1757.6 1074.8,1756.2 1075.6,1754.9 1076.5,1753.5 1077.3,1752.1 1078.1,1750.7 1079,1749.3 1079.8,1747.9 1080.6,1746.5 1081.5,1745.1 1082.3,1743.7 1083.2,1742.2 1084,1740.8 1084.8,1739.4 1085.7,1737.9 1086.5,1736.5 1087.3,1735 1088.2,1733.6 1089,1732.2 1089.8,1730.8 1090.7,1729.4 1091.5,1727.9 1092.3,1726.5 1093.2,1725.2 1094,1723.8 1094.8,1722.4 1095.7,1721.1 1096.5,1719.7 1097.3,1718.4 1098.2,1717.1 1099,1715.8 1099.8,1714.6 1100.7,1713.3 1101.5,1712.1 1102.4,1710.9 1103.2,1709.7 1104,1708.5 1104.9,1707.4 1105.7,1706.2 1106.5,1705.1 1107.4,1704 1108.2,1703 1109,1701.9 1109.9,1700.9 1110.7,1699.9 1111.5,1698.9 1112.4,1698 1113.2,1697 1114,1696.1 1114.9,1695.3 1115.7,1694.4 1116.5,1693.5 1117.4,1692.7 1118.2,1691.9 1119.1,1691.1 1119.9,1690.4 1120.7,1689.6 1121.6,1688.9 1122.4,1688.2 1123.2,1687.5 1124.1,1686.9 1124.9,1686.2 1125.7,1685.6 1126.6,1685 1127.4,1684.4 1128.2,1683.9 1129.1,1683.3 1129.9,1682.8 1130.7,1682.3 1131.6,1681.8 1132.4,1681.3 1133.2,1680.9 1134.1,1680.4 1134.9,1680 1135.8,1679.6 1136.6,1679.2 1137.4,1678.8 1138.3,1678.4 1139.1,1678 1139.9,1677.7 1140.8,1677.4 1141.6,1677.1 1142.4,1676.8 1143.3,1676.5 1144.1,1676.2 1144.9,1675.9 1145.8,1675.7 1146.6,1675.4 1147.4,1675.2 1148.3,1675 1149.1,1674.8 1150,1674.6 1150.8,1674.4 1151.6,1674.3 1152.5,1674.1 1153.3,1673.9 1154.1,1673.8 1155,1673.7 1155.8,1673.6 1156.6,1673.5 1157.5,1673.4 1158.3,1673.3 1159.1,1673.2 1160,1673.2 1160.8,1673.1 1161.6,1673.1 1162.5,1673 1163.3,1673 1164.1,1673 1165,1673 1165.8,1673 1166.7,1673 1167.5,1673.1 1168.3,1673.1 1169.2,1673.1 1170,1673.2 1170.8,1673.3 1171.7,1673.4 1172.5,1673.4 1173.3,1673.5 1174.2,1673.7 1175,1673.8 1175.8,1673.9 1176.7,1674.1 1177.5,1674.2 1178.3,1674.4 1179.2,1674.6 1180,1674.7 1180.8,1674.9 1181.7,1675.2 1182.5,1675.4 1183.3,1675.6 1184.2,1675.9 1185,1676.1 1185.9,1676.4" fill="none" stroke="#e2243f" stroke-width="3" stroke-linejoin="round"/>
<polygon points="1352,1810.5 1352.9,1810.8 1353.7,1811.1 1354.5,1811.3 1355.4,1811.6 1356.2,1811.8 1357,1812 1357.9,1812.2 1358.7,1812.4 1359.5,1812.6 1360.4,1812.7 1361.2,1812.9 1362,1813.1 1362.9,1813.2 1363.7,1813.3 1364.5,1813.4 1365.4,1813.5 1366.2,1813.6 1367,1813.7 1367.9,1813.8 1368.7,1813.8 1369.6,1813.9 1370.4,1813.9 1371.2,1814 1372.1,1814 1372.9,1814 1373.7,1814 1374.6,1814 1375.4,1814 1376.2,1813.9 1377.1,1813.9 1377.9,1813.9 1378.7,1813.8 1379.6,1813.7 1380.4,1813.6 1381.2,1813.6 1382.1,1813.5 1382.9,1813.3 1383.8,1813.2 1384.6,1813.1 1385.4,1813 1386.3,1812.8 1387.1,1812.6 1387.9,1812.5 1388.8,1812.3 1389.6,1812.1 1390.4,1811.9 1391.3,1811.6 1392.1,1811.4 1392.9,1811.2 1393.8,1810.9 1394.6,1810.6 1395.4,1810.3 1396.3,1810 1397.1,1809.7 1397.9,1809.4 1398.8,1809.1 1399.6,1808.7 1400.5,1808.4 1401.3,1808 1402.1,1807.6 1403,1807.2 1403.8,1806.8 1404.6,1806.3 1405.5,1805.9 1406.3,1805.4 1407.1,1804.9 1408,1804.4 1408.8,1803.9 1409.6,1803.3 1410.5,1802.8 1411.3,1802.2 1412.1,1801.6 1413,1801 1413.8,1800.4 1414.6,1799.7 1415.5,1799.1 1416.3,1798.4 1417.2,1797.7 1418,1796.9 1418.8,1796.2 1419.7,1795.4 1420.5,1794.6 1421.3,1793.8 1422.2,1793 1423,1792.1 1423.8,1791.3 1424.7,1790.3 1425.5,1789.3 1426.3,1788.4 1427.2,1787.4 1428,1786.4 1428.8,1785.4 1429.7,1784.4 1430.5,1783.3 1431.3,1782.3 1432.2,1781.2 1433,1780.1 1433.8,1778.9 1434.7,1777.8 1435.5,1776.6 1436.4,1775.4 1437.2,1774.2 1438,1773 1438.9,1771.7 1439.7,1770.5 1440.5,1769.2 1441.4,1767.9 1442.2,1766.6 1443,1765.2 1443.9,1763.9 1444.7,1762.5 1445.5,1761.2 1446.4,1759.8 1447.2,1758.4 1448,1757 1448.9,1755.6 1449.7,1754.2 1450.5,1752.8 1451.4,1751.4 1452.2,1749.9 1453.1,1748.5 1453.9,1747.1 1454.7,1745.7 1455.6,1744.2 1456.4,1742.8 1457.2,1741.4 1458.1,1740 1458.9,1738.6 1459.7,1737.2 1460.6,1735.8 1461.4,1734.4 1462.2,1733.1 1463.1,1731.7 1463.9,1730.4 1464.7,1729.1 1465.6,1727.8 1466.4,1726.5 1467.2,1725.2 1468.1,1724 1468.9,1722.7 1469.8,1721.5 1470.6,1720.3 1471.4,1719.1 1472.3,1718 1473.1,1716.9 1473.9,1715.8 1474.8,1714.7 1475.6,1713.6 1476.4,1712.6 1477.3,1711.6 1478.1,1710.6 1478.9,1709.6 1479.8,1708.7 1480.6,1707.7 1481.4,1706.8 1482.3,1706 1483.1,1705.1 1484,1704.3 1484.8,1703.5 1485.6,1702.7 1486.5,1702 1487.3,1701.2 1488.1,1700.5 1489,1699.8 1489.8,1699.2 1490.6,1698.5 1491.5,1697.9 1492.3,1697.3 1493.1,1696.7 1494,1696.1 1494.8,1695.6 1495.6,1695 1496.5,1694.5 1497.3,1694 1498.1,1693.6 1499,1693.1 1499.8,1692.7 1500.7,1692.3 1501.5,1691.8 1502.3,1691.5 1503.2,1691.1 1504,1690.7 1504.8,1690.4 1505.7,1690 1506.5,1689.7 1507.3,1689.4 1508.2,1689.1 1509,1688.8 1509.8,1688.5 1510.7,1688.3 1511.5,1688 1512.3,1687.8 1513.2,1687.6 1514,1687.4 1514.8,1687.1 1515.7,1686.9 1516.5,1686.8 1516.5,1676.4 1515.7,1676.2 1514.8,1675.9 1514,1675.7 1513.2,1675.4 1512.3,1675.2 1511.5,1675 1510.7,1674.8 1509.8,1674.6 1509,1674.4 1508.2,1674.3 1507.3,1674.1 1506.5,1674 1505.7,1673.8 1504.8,1673.7 1504,1673.6 1503.2,1673.5 1502.3,1673.4 1501.5,1673.3 1500.7,1673.2 1499.8,1673.2 1499,1673.1 1498.1,1673.1 1497.3,1673 1496.5,1673 1495.6,1673 1494.8,1673 1494,1673 1493.1,1673 1492.3,1673.1 1491.5,1673.1 1490.6,1673.1 1489.8,1673.2 1489,1673.3 1488.1,1673.3 1487.3,1673.4 1486.5,1673.5 1485.6,1673.6 1484.8,1673.7 1484,1673.9 1483.1,1674 1482.3,1674.2 1481.4,1674.3 1480.6,1674.5 1479.8,1674.7 1478.9,1674.9 1478.1,1675.1 1477.3,1675.3 1476.4,1675.5 1475.6,1675.8 1474.8,1676 1473.9,1676.3 1473.1,1676.6 1472.3,1676.9 1471.4,1677.2 1470.6,1677.5 1469.8,1677.8 1468.9,1678.2 1468.1,1678.5 1467.2,1678.9 1466.4,1679.3 1465.6,1679.7 1464.7,1680.1 1463.9,1680.5 1463.1,1681 1462.2,1681.4 1461.4,1681.9 1460.6,1682.4 1459.7,1682.9 1458.9,1683.4 1458.1,1684 1457.2,1684.6 1456.4,1685.1 1455.6,1685.7 1454.7,1686.4 1453.9,1687 1453.1,1687.6 1452.2,1688.3 1451.4,1689 1450.5,1689.7 1449.7,1690.5 1448.9,1691.2 1448,1692 1447.2,1692.8 1446.4,1693.6 1445.5,1694.4 1444.7,1695.3 1443.9,1696.2 1443,1697.1 1442.2,1698 1441.4,1699 1440.5,1699.9 1439.7,1700.9 1438.9,1701.9 1438,1703 1437.2,1704 1436.4,1705.1 1435.5,1706.2 1434.7,1707.3 1433.8,1708.5 1433,1709.6 1432.2,1710.8 1431.3,1712 1430.5,1713.2 1429.7,1714.4 1428.8,1715.7 1428,1717 1427.2,1718.3 1426.3,1719.6 1425.5,1720.9 1424.7,1722 1423.8,1723.4 1423,1724.7 1422.2,1726.1 1421.3,1727.5 1420.5,1728.9 1419.7,1730.3 1418.8,1731.7 1418,1733.1 1417.2,1734.6 1416.3,1736 1415.5,1737.4 1414.6,1738.9 1413.8,1740.3 1413,1741.7 1412.1,1743.2 1411.3,1744.6 1410.5,1746 1409.6,1747.4 1408.8,1748.8 1408,1750.2 1407.1,1751.6 1406.3,1753 1405.5,1754.4 1404.6,1755.7 1403.8,1757 1403,1758.4 1402.1,1759.7 1401.3,1761 1400.5,1762.2 1399.6,1763.5 1398.8,1764.7 1397.9,1765.9 1397.1,1767.1 1396.3,1768.3 1395.4,1769.5 1394.6,1770.6 1393.8,1771.7 1392.9,1772.8 1392.1,1773.8 1391.3,1774.9 1390.4,1775.9 1389.6,1776.9 1388.8,1777.8 1387.9,1778.8 1387.1,1779.7 1386.3,1780.6 1385.4,1781.4 1384.6,1782.3 1383.8,1783.1 1382.9,1783.9 1382.1,1784.7 1381.2,1785.4 1380.4,1786.1 1379.6,1786.8 1378.7,1787.5 1377.9,1788.2 1377.1,1788.8 1376.2,1789.4 1375.4,1790 1374.6,1790.6 1373.7,1791.2 1372.9,1791.7 1372.1,1792.2 1371.2,1792.7 1370.4,1793.2 1369.6,1793.7 1368.7,1794.1 1367.9,1794.6 1367,1795 1366.2,1795.4 1365.4,1795.8 1364.5,1796.2 1363.7,1796.5 1362.9,1796.9 1362,1797.2 1361.2,1797.5 1360.4,1797.8 1359.5,1798.1 1358.7,1798.4 1357.9,1798.6 1357,1798.9 1356.2,1799.1 1355.4,1799.4 1354.5,1799.6 1353.7,1799.8 1352.9,1800 1352,1800.2" fill="#f07c91" stroke="#f07c91" stroke-width="1.2"/>
<polyline points="1352,1810.5 1352.9,1810.8 1353.7,1811.1 1354.5,1811.3 1355.4,1811.6 1356.2,1811.8 1357,1812 1357.9,1812.2 1358.7,1812.4 1359.5,1812.6 1360.4,1812.7 1361.2,1812.9 1362,1813.1 1362.9,1813.2 1363.7,1813.3 1364.5,1813.4 1365.4,1813.5 1366.2,1813.6 1367,1813.7 1367.9,1813.8 1368.7,1813.8 1369.6,1813.9 1370.4,1813.9 1371.2,1814 1372.1,1814 1372.9,1814 1373.7,1814 1374.6,1814 1375.4,1814 1376.2,1813.9 1377.1,1813.9 1377.9,1813.9 1378.7,1813.8 1379.6,1813.7 1380.4,1813.6 1381.2,1813.6 1382.1,1813.5 1382.9,1813.3 1383.8,1813.2 1384.6,1813.1 1385.4,1813 1386.3,1812.8 1387.1,1812.6 1387.9,1812.5 1388.8,1812.3 1389.6,1812.1 1390.4,1811.9 1391.3,1811.6 1392.1,1811.4 1392.9,1811.2 1393.8,1810.9 1394.6,1810.6 1395.4,1810.3 1396.3,1810 1397.1,1809.7 1397.9,1809.4 1398.8,1809.1 1399.6,1808.7 1400.5,1808.4 1401.3,1808 1402.1,1807.6 1403,1807.2 1403.8,1806.8 1404.6,1806.3 1405.5,1805.9 1406.3,1805.4 1407.1,1804.9 1408,1804.4 1408.8,1803.9 1409.6,1803.3 1410.5,1802.8 1411.3,1802.2 1412.1,1801.6 1413,1801 1413.8,1800.4 1414.6,1799.7 1415.5,1799.1 1416.3,1798.4 1417.2,1797.7 1418,1796.9 1418.8,1796.2 1419.7,1795.4 1420.5,1794.6 1421.3,1793.8 1422.2,1793 1423,1792.1 1423.8,1791.3 1424.7,1790.3 1425.5,1789.3 1426.3,1788.4 1427.2,1787.4 1428,1786.4 1428.8,1785.4 1429.7,1784.4 1430.5,1783.3 1431.3,1782.3 1432.2,1781.2 1433,1780.1 1433.8,1778.9 1434.7,1777.8 1435.5,1776.6 1436.4,1775.4 1437.2,1774.2 1438,1773 1438.9,1771.7 1439.7,1770.5 1440.5,1769.2 1441.4,1767.9 1442.2,1766.6 1443,1765.2 1443.9,1763.9 1444.7,1762.5 1445.5,1761.2 1446.4,1759.8 1447.2,1758.4 1448,1757 1448.9,1755.6 1449.7,1754.2 1450.5,1752.8 1451.4,1751.4 1452.2,1749.9 1453.1,1748.5 1453.9,1747.1 1454.7,1745.7 1455.6,1744.2 1456.4,1742.8 1457.2,1741.4 1458.1,1740 1458.9,1738.6 1459.7,1737.2 1460.6,1735.8 1461.4,1734.4 1462.2,1733.1 1463.1,1731.7 1463.9,1730.4 1464.7,1729.1 1465.6,1727.8 1466.4,1726.5 1467.2,1725.2 1468.1,1724 1468.9,1722.7 1469.8,1721.5 1470.6,1720.3 1471.4,1719.1 1472.3,1718 1473.1,1716.9 1473.9,1715.8 1474.8,1714.7 1475.6,1713.6 1476.4,1712.6 1477.3,1711.6 1478.1,1710.6 1478.9,1709.6 1479.8,1708.7 1480.6,1707.7 1481.4,1706.8 1482.3,1706 1483.1,1705.1 1484,1704.3 1484.8,1703.5 1485.6,1702.7 1486.5,1702 1487.3,1701.2 1488.1,1700.5 1489,1699.8 1489.8,1699.2 1490.6,1698.5 1491.5,1697.9 1492.3,1697.3 1493.1,1696.7 1494,1696.1 1494.8,1695.6 1495.6,1695 1496.5,1694.5 1497.3,1694 1498.1,1693.6 1499,1693.1 1499.8,1692.7 1500.7,1692.3 1501.5,1691.8 1502.3,1691.5 1503.2,1691.1 1504,1690.7 1504.8,1690.4 1505.7,1690 1506.5,1689.7 1507.3,1689.4 1508.2,1689.1 1509,1688.8 1509.8,1688.5 1510.7,1688.3 1511.5,1688 1512.3,1687.8 1513.2,1687.6 1514,1687.4 1514.8,1687.1 1515.7,1686.9 1516.5,1686.8" fill="none" stroke="#e2243f" stroke-width="3" stroke-linejoin="round"/>
<polyline points="1352,1800.2 1352.9,1800 1353.7,1799.8 1354.5,1799.6 1355.4,1799.4 1356.2,1799.1 1357,1798.9 1357.9,1798.6 1358.7,1798.4 1359.5,1798.1 1360.4,1797.8 1361.2,1797.5 1362,1797.2 1362.9,1796.9 1363.7,1796.5 1364.5,1796.2 1365.4,1795.8 1366.2,1795.4 1367,1795 1367.9,1794.6 1368.7,1794.1 1369.6,1793.7 1370.4,1793.2 1371.2,1792.7 1372.1,1792.2 1372.9,1791.7 1373.7,1791.2 1374.6,1790.6 1375.4,1790 1376.2,1789.4 1377.1,1788.8 1377.9,1788.2 1378.7,1787.5 1379.6,1786.8 1380.4,1786.1 1381.2,1785.4 1382.1,1784.7 1382.9,1783.9 1383.8,1783.1 1384.6,1782.3 1385.4,1781.4 1386.3,1780.6 1387.1,1779.7 1387.9,1778.8 1388.8,1777.8 1389.6,1776.9 1390.4,1775.9 1391.3,1774.9 1392.1,1773.8 1392.9,1772.8 1393.8,1771.7 1394.6,1770.6 1395.4,1769.5 1396.3,1768.3 1397.1,1767.1 1397.9,1765.9 1398.8,1764.7 1399.6,1763.5 1400.5,1762.2 1401.3,1761 1402.1,1759.7 1403,1758.4 1403.8,1757 1404.6,1755.7 1405.5,1754.4 1406.3,1753 1407.1,1751.6 1408,1750.2 1408.8,1748.8 1409.6,1747.4 1410.5,1746 1411.3,1744.6 1412.1,1743.2 1413,1741.7 1413.8,1740.3 1414.6,1738.9 1415.5,1737.4 1416.3,1736 1417.2,1734.6 1418,1733.1 1418.8,1731.7 1419.7,1730.3 1420.5,1728.9 1421.3,1727.5 1422.2,1726.1 1423,1724.7 1423.8,1723.4 1424.7,1722 1425.5,1720.9 1426.3,1719.6 1427.2,1718.3 1428,1717 1428.8,1715.7 1429.7,1714.4 1430.5,1713.2 1431.3,1712 1432.2,1710.8 1433,1709.6 1433.8,1708.5 1434.7,1707.3 1435.5,1706.2 1436.4,1705.1 1437.2,1704 1438,1703 1438.9,1701.9 1439.7,1700.9 1440.5,1699.9 1441.4,1699 1442.2,1698 1443,1697.1 1443.9,1696.2 1444.7,1695.3 1445.5,1694.4 1446.4,1693.6 1447.2,1692.8 1448,1692 1448.9,1691.2 1449.7,1690.5 1450.5,1689.7 1451.4,1689 1452.2,1688.3 1453.1,1687.6 1453.9,1687 1454.7,1686.4 1455.6,1685.7 1456.4,1685.1 1457.2,1684.6 1458.1,1684 1458.9,1683.4 1459.7,1682.9 1460.6,1682.4 1461.4,1681.9 1462.2,1681.4 1463.1,1681 1463.9,1680.5 1464.7,1680.1 1465.6,1679.7 1466.4,1679.3 1467.2,1678.9 1468.1,1678.5 1468.9,1678.2 1469.8,1677.8 1470.6,1677.5 1471.4,1677.2 1472.3,1676.9 1473.1,1676.6 1473.9,1676.3 1474.8,1676 1475.6,1675.8 1476.4,1675.5 1477.3,1675.3 1478.1,1675.1 1478.9,1674.9 1479.8,1674.7 1480.6,1674.5 1481.4,1674.3 1482.3,1674.2 1483.1,1674 1484,1673.9 1484.8,1673.7 1485.6,1673.6 1486.5,1673.5 1487.3,1673.4 1488.1,1673.3 1489,1673.3 1489.8,1673.2 1490.6,1673.1 1491.5,1673.1 1492.3,1673.1 1493.1,1673 1494,1673 1494.8,1673 1495.6,1673 1496.5,1673 1497.3,1673 1498.1,1673.1 1499,1673.1 1499.8,1673.2 1500.7,1673.2 1501.5,1673.3 1502.3,1673.4 1503.2,1673.5 1504,1673.6 1504.8,1673.7 1505.7,1673.8 1506.5,1674 1507.3,1674.1 1508.2,1674.3 1509,1674.4 1509.8,1674.6 1510.7,1674.8 1511.5,1675 1512.3,1675.2 1513.2,1675.4 1514,1675.7 1514.8,1675.9 1515.7,1676.2 1516.5,1676.4" fill="none" stroke="#e2243f" stroke-width="3" stroke-linejoin="round"/>
<polygon points="1682.7,1810.4 1683.5,1810.7 1684.3,1811 1685.2,1811.2 1686,1811.5 1686.9,1811.7 1687.7,1811.9 1688.5,1812.1 1689.4,1812.3 1690.2,1812.5 1691,1812.7 1691.9,1812.8 1692.7,1813 1693.5,1813.1 1694.4,1813.3 1695.2,1813.4 1696,1813.5 1696.9,1813.6 1697.7,1813.7 1698.5,1813.7 1699.4,1813.8 1700.2,1813.9 1701,1813.9 1701.9,1814 1702.7,1814 1703.6,1814 1704.4,1814 1705.2,1814 1706.1,1814 1706.9,1814 1707.7,1813.9 1708.6,1813.9 1709.4,1813.8 1710.2,1813.8 1711.1,1813.7 1711.9,1813.6 1712.7,1813.5 1713.6,1813.4 1714.4,1813.3 1715.2,1813.1 1716.1,1813 1716.9,1812.9 1717.8,1812.7 1718.6,1812.5 1719.4,1812.3 1720.3,1812.2 1721.1,1811.9 1721.9,1811.7 1722.8,1811.5 1723.6,1811.3 1724.4,1811 1725.3,1810.7 1726.1,1810.5 1726.9,1810.2 1727.8,1809.9 1728.6,1809.5 1729.4,1809.2 1730.3,1808.9 1731.1,1808.5 1731.9,1808.1 1732.8,1807.8 1733.6,1807.4 1734.5,1806.9 1735.3,1806.5 1736.1,1806.1 1737,1805.6 1737.8,1805.1 1738.6,1804.6 1739.5,1804.1 1740.3,1803.6 1741.1,1803 1742,1802.4 1742.8,1801.9 1743.6,1801.3 1744.5,1800.6 1745.3,1800 1746.1,1799.3 1747,1798.7 1747.8,1798 1748.6,1797.2 1749.5,1796.5 1750.3,1795.7 1751.2,1795 1752,1794.2 1752.8,1793.3 1753.7,1792.5 1754.5,1791.6 1755.3,1790.7 1756.2,1788.9 1757,1787.4 1757.8,1786.5 1758.7,1785.6 1759.5,1784.6 1760.3,1783.6 1761.2,1782.6 1762,1781.6 1762.8,1780.5 1763.7,1779.5 1764.5,1778.4 1765.3,1777.3 1766.2,1776.2 1767,1775.1 1767.8,1773.9 1768.7,1772.7 1769.5,1771.5 1770.4,1770.4 1771.2,1769.1 1772,1767.9 1772.9,1766.7 1773.7,1765.4 1774.5,1764.1 1775.4,1762.9 1776.2,1761.6 1777,1760.3 1777.9,1759 1778.7,1757.6 1779.5,1756.3 1780.4,1755 1781.2,1753.6 1782,1752.3 1782.9,1751 1783.7,1749.6 1784.5,1748.3 1785.4,1746.9 1786.2,1745.6 1787.1,1744.2 1787.9,1742.9 1788.7,1741.5 1789.6,1740.2 1790.4,1738.9 1791.2,1737.6 1792.1,1736.3 1792.9,1735 1793.7,1733.7 1794.6,1732.4 1795.4,1731.1 1796.2,1729.8 1797.1,1728.6 1797.9,1727.4 1798.7,1726.2 1799.6,1725 1800.4,1723.8 1801.2,1722.6 1802.1,1721.5 1802.9,1720.3 1803.8,1719.2 1804.6,1718.1 1805.4,1717.1 1806.3,1716 1807.1,1715 1807.9,1714 1808.8,1713 1809.6,1712 1810.4,1711.1 1811.3,1710.1 1812.1,1709.2 1812.9,1708.4 1813.8,1707.5 1814.6,1706.6 1815.4,1705.8 1816.3,1705 1817.1,1704.2 1818,1703.5 1818.8,1702.8 1819.6,1702 1820.5,1701.3 1821.3,1700.7 1822.1,1700 1823,1699.4 1823.8,1698.7 1824.6,1698.1 1825.5,1697.6 1826.3,1697 1827.1,1696.5 1828,1695.9 1828.8,1695.4 1829.6,1694.9 1830.5,1694.4 1831.3,1694 1832.1,1693.5 1833,1693.1 1833.8,1692.7 1834.7,1692.3 1835.5,1691.9 1836.3,1691.5 1837.2,1691.2 1838,1690.8 1838.8,1690.5 1839.7,1690.2 1840.5,1689.8 1841.3,1689.6 1842.2,1689.3 1843,1689 1843.8,1688.7 1844.7,1688.5 1845.5,1688.2 1846.3,1688 1847.2,1687.8 1848,1687.6 1848.8,1687.4 1849.7,1687.2 1850.5,1687 1851.3,1686.8 1852.2,1686.6 1853,1686.5 1853,1676.1 1852.2,1675.9 1851.3,1675.7 1850.5,1675.4 1849.7,1675.2 1848.8,1675 1848,1674.8 1847.2,1674.6 1846.3,1674.5 1845.5,1674.3 1844.7,1674.2 1843.8,1674 1843,1673.9 1842.2,1673.8 1841.3,1673.7 1840.5,1673.5 1839.7,1673.5 1838.8,1673.4 1838,1673.3 1837.2,1673.2 1836.3,1673.2 1835.5,1673.1 1834.7,1673.1 1833.8,1673 1833,1673 1832.1,1673 1831.3,1673 1830.5,1673 1829.6,1673 1828.8,1673 1828,1673.1 1827.1,1673.1 1826.3,1673.2 1825.5,1673.2 1824.6,1673.3 1823.8,1673.4 1823,1673.4 1822.1,1673.5 1821.3,1673.6 1820.5,1673.8 1819.6,1673.9 1818.8,1674 1818,1674.1 1817.1,1674.3 1816.3,1674.5 1815.4,1674.6 1814.6,1674.8 1813.8,1675 1812.9,1675.2 1812.1,1675.4 1811.3,1675.6 1810.4,1675.9 1809.6,1676.1 1808.8,1676.4 1807.9,1676.6 1807.1,1676.9 1806.3,1677.2 1805.4,1677.5 1804.6,1677.8 1803.8,1678.1 1802.9,1678.5 1802.1,1678.8 1801.2,1679.2 1800.4,1679.6 1799.6,1679.9 1798.7,1680.4 1797.9,1680.8 1797.1,1681.2 1796.2,1681.6 1795.4,1682.1 1794.6,1682.6 1793.7,1683.1 1792.9,1683.6 1792.1,1684.1 1791.2,1684.6 1790.4,1685.2 1789.6,1685.7 1788.7,1686.3 1787.9,1686.9 1787.1,1687.5 1786.2,1688.2 1785.4,1688.8 1784.5,1689.5 1783.7,1690.2 1782.9,1690.9 1782,1691.6 1781.2,1692.4 1780.4,1693.1 1779.5,1693.9 1778.7,1694.7 1777.9,1695.5 1777,1696.4 1776.2,1697.2 1775.4,1698.1 1774.5,1699 1773.7,1699.9 1772.9,1700.8 1772,1701.8 1771.2,1702.8 1770.4,1703.8 1769.5,1704.8 1768.7,1705.8 1767.8,1706.9 1767,1707.9 1766.2,1709 1765.3,1710.1 1764.5,1711.2 1763.7,1712.4 1762.8,1713.5 1762,1714.7 1761.2,1715.9 1760.3,1717.1 1759.5,1718.3 1758.7,1719.6 1757.8,1720.8 1757,1722.1 1756.2,1722.6 1755.3,1722.6 1754.5,1723.9 1753.7,1725.3 1752.8,1726.7 1752,1728.1 1751.2,1729.5 1750.3,1730.9 1749.5,1732.3 1748.6,1733.7 1747.8,1735.1 1747,1736.6 1746.1,1738 1745.3,1739.4 1744.5,1740.9 1743.6,1742.3 1742.8,1743.7 1742,1745.2 1741.1,1746.6 1740.3,1748 1739.5,1749.4 1738.6,1750.8 1737.8,1752.2 1737,1753.5 1736.1,1754.9 1735.3,1756.3 1734.5,1757.6 1733.6,1758.9 1732.8,1760.2 1731.9,1761.5 1731.1,1762.8 1730.3,1764 1729.4,1765.2 1728.6,1766.4 1727.8,1767.6 1726.9,1768.8 1726.1,1769.9 1725.3,1771 1724.4,1772.1 1723.6,1773.2 1722.8,1774.3 1721.9,1775.3 1721.1,1776.3 1720.3,1777.3 1719.4,1778.2 1718.6,1779.1 1717.8,1780 1716.9,1780.9 1716.1,1781.8 1715.2,1782.6 1714.4,1783.4 1713.6,1784.2 1712.7,1785 1711.9,1785.7 1711.1,1786.4 1710.2,1787.1 1709.4,1787.8 1708.6,1788.5 1707.7,1789.1 1706.9,1789.7 1706.1,1790.3 1705.2,1790.9 1704.4,1791.4 1703.6,1791.9 1702.7,1792.4 1701.9,1792.9 1701,1793.4 1700.2,1793.9 1699.4,1794.3 1698.5,1794.8 1697.7,1795.2 1696.9,1795.6 1696,1795.9 1695.2,1796.3 1694.4,1796.7 1693.5,1797 1692.7,1797.3 1691.9,1797.6 1691,1797.9 1690.2,1798.2 1689.4,1798.5 1688.5,1798.7 1687.7,1799 1686.9,1799.2 1686,1799.5 1685.2,1799.7 1684.3,1799.9 1683.5,1800.1 1682.7,1800.3" fill="#f07c91" stroke="#f07c91" stroke-width="1.2"/>
<polyline points="1682.7,1810.4 1683.5,1810.7 1684.3,1811 1685.2,1811.2 1686,1811.5 1686.9,1811.7 1687.7,1811.9 1688.5,1812.1 1689.4,1812.3 1690.2,1812.5 1691,1812.7 1691.9,1812.8 1692.7,1813 1693.5,1813.1 1694.4,1813.3 1695.2,1813.4 1696,1813.5 1696.9,1813.6 1697.7,1813.7 1698.5,1813.7 1699.4,1813.8 1700.2,1813.9 1701,1813.9 1701.9,1814 1702.7,1814 1703.6,1814 1704.4,1814 1705.2,1814 1706.1,1814 1706.9,1814 1707.7,1813.9 1708.6,1813.9 1709.4,1813.8 1710.2,1813.8 1711.1,1813.7 1711.9,1813.6 1712.7,1813.5 1713.6,1813.4 1714.4,1813.3 1715.2,1813.1 1716.1,1813 1716.9,1812.9 1717.8,1812.7 1718.6,1812.5 1719.4,1812.3 1720.3,1812.2 1721.1,1811.9 1721.9,1811.7 1722.8,1811.5 1723.6,1811.3 1724.4,1811 1725.3,1810.7 1726.1,1810.5 1726.9,1810.2 1727.8,1809.9 1728.6,1809.5 1729.4,1809.2 1730.3,1808.9 1731.1,1808.5 1731.9,1808.1 1732.8,1807.8 1733.6,1807.4 1734.5,1806.9 1735.3,1806.5 1736.1,1806.1 1737,1805.6 1737.8,1805.1 1738.6,1804.6 1739.5,1804.1 1740.3,1803.6 1741.1,1803 1742,1802.4 1742.8,1801.9 1743.6,1801.3 1744.5,1800.6 1745.3,1800 1746.1,1799.3 1747,1798.7 1747.8,1798 1748.6,1797.2 1749.5,1796.5 1750.3,1795.7 1751.2,1795 1752,1794.2 1752.8,1793.3 1753.7,1792.5 1754.5,1791.6 1755.3,1790.7 1756.2,1788.9 1757,1787.4 1757.8,1786.5 1758.7,1785.6 1759.5,1784.6 1760.3,1783.6 1761.2,1782.6 1762,1781.6 1762.8,1780.5 1763.7,1779.5 1764.5,1778.4 1765.3,1777.3 1766.2,1776.2 1767,1775.1 1767.8,1773.9 1768.7,1772.7 1769.5,1771.5 1770.4,1770.4 1771.2,1769.1 1772,1767.9 1772.9,1766.7 1773.7,1765.4 1774.5,1764.1 1775.4,1762.9 1776.2,1761.6 1777,1760.3 1777.9,1759 1778.7,1757.6 1779.5,1756.3 1780.4,1755 1781.2,1753.6 1782,1752.3 1782.9,1751 1783.7,1749.6 1784.5,1748.3 1785.4,1746.9 1786.2,1745.6 1787.1,1744.2 1787.9,1742.9 1788.7,1741.5 1789.6,1740.2 1790.4,1738.9 1791.2,1737.6 1792.1,1736.3 1792.9,1735 1793.7,1733.7 1794.6,1732.4 1795.4,1731.1 1796.2,1729.8 1797.1,1728.6 1797.9,1727.4 1798.7,1726.2 1799.6,1725 1800.4,1723.8 1801.2,1722.6 1802.1,1721.5 1802.9,1720.3 1803.8,1719.2 1804.6,1718.1 1805.4,1717.1 1806.3,1716 1807.1,1715 1807.9,1714 1808.8,1713 1809.6,1712 1810.4,1711.1 1811.3,1710.1 1812.1,1709.2 1812.9,1708.4 1813.8,1707.5 1814.6,1706.6 1815.4,1705.8 1816.3,1705 1817.1,1704.2 1818,1703.5 1818.8,1702.8 1819.6,1702 1820.5,1701.3 1821.3,1700.7 1822.1,1700 1823,1699.4 1823.8,1698.7 1824.6,1698.1 1825.5,1697.6 1826.3,1697 1827.1,1696.5 1828,1695.9 1828.8,1695.4 1829.6,1694.9 1830.5,1694.4 1831.3,1694 1832.1,1693.5 1833,1693.1 1833.8,1692.7 1834.7,1692.3 1835.5,1691.9 1836.3,1691.5 1837.2,1691.2 1838,1690.8 1838.8,1690.5 1839.7,1690.2 1840.5,1689.8 1841.3,1689.6 1842.2,1689.3 1843,1689 1843.8,1688.7 1844.7,1688.5 1845.5,1688.2 1846.3,1688 1847.2,1687.8 1848,1687.6 1848.8,1687.4 1849.7,1687.2 1850.5,1687 1851.3,1686.8 1852.2,1686.6 1853,1686.5" fill="none" stroke="#e2243f" stroke-width="3" stroke-linejoin="round"/>
<polyline points="1682.7,1800.3 1683.5,1800.1 1684.3,1799.9 1685.2,1799.7 1686,1799.5 1686.9,1799.2 1687.7,1799 1688.5,1798.7 1689.4,1798.5 1690.2,1798.2 1691,1797.9 1691.9,1797.6 1692.7,1797.3 1693.5,1797 1694.4,1796.7 1695.2,1796.3 1696,1795.9 1696.9,1795.6 1697.7,1795.2 1698.5,1794.8 1699.4,1794.3 1700.2,1793.9 1701,1793.4 1701.9,1792.9 1702.7,1792.4 1703.6,1791.9 1704.4,1791.4 1705.2,1790.9 1706.1,1790.3 1706.9,1789.7 1707.7,1789.1 1708.6,1788.5 1709.4,1787.8 1710.2,1787.1 1711.1,1786.4 1711.9,1785.7 1712.7,1785 1713.6,1784.2 1714.4,1783.4 1715.2,1782.6 1716.1,1781.8 1716.9,1780.9 1717.8,1780 1718.6,1779.1 1719.4,1778.2 1720.3,1777.3 1721.1,1776.3 1721.9,1775.3 1722.8,1774.3 1723.6,1773.2 1724.4,1772.1 1725.3,1771 1726.1,1769.9 1726.9,1768.8 1727.8,1767.6 1728.6,1766.4 1729.4,1765.2 1730.3,1764 1731.1,1762.8 1731.9,1761.5 1732.8,1760.2 1733.6,1758.9 1734.5,1757.6 1735.3,1756.3 1736.1,1754.9 1737,1753.5 1737.8,1752.2 1738.6,1750.8 1739.5,1749.4 1740.3,1748 1741.1,1746.6 1742,1745.2 1742.8,1743.7 1743.6,1742.3 1744.5,1740.9 1745.3,1739.4 1746.1,1738 1747,1736.6 1747.8,1735.1 1748.6,1733.7 1749.5,1732.3 1750.3,1730.9 1751.2,1729.5 1752,1728.1 1752.8,1726.7 1753.7,1725.3 1754.5,1723.9 1755.3,1722.6 1756.2,1722.6 1757,1722.1 1757.8,1720.8 1758.7,1719.6 1759.5,1718.3 1760.3,1717.1 1761.2,1715.9 1762,1714.7 1762.8,1713.5 1763.7,1712.4 1764.5,1711.2 1765.3,1710.1 1766.2,1709 1767,1707.9 1767.8,1706.9 1768.7,1705.8 1769.5,1704.8 1770.4,1703.8 1771.2,1702.8 1772,1701.8 1772.9,1700.8 1773.7,1699.9 1774.5,1699 1775.4,1698.1 1776.2,1697.2 1777,1696.4 1777.9,1695.5 1778.7,1694.7 1779.5,1693.9 1780.4,1693.1 1781.2,1692.4 1782,1691.6 1782.9,1690.9 1783.7,1690.2 1784.5,1689.5 1785.4,1688.8 1786.2,1688.2 1787.1,1687.5 1787.9,1686.9 1788.7,1686.3 1789.6,1685.7 1790.4,1685.2 1791.2,1684.6 1792.1,1684.1 1792.9,1683.6 1793.7,1683.1 1794.6,1682.6 1795.4,1682.1 1796.2,1681.6 1797.1,1681.2 1797.9,1680.8 1798.7,1680.4 1799.6,1679.9 1800.4,1679.6 1801.2,1679.2 1802.1,1678.8 1802.9,1678.5 1803.8,1678.1 1804.6,1677.8 1805.4,1677.5 1806.3,1677.2 1807.1,1676.9 1807.9,1676.6 1808.8,1676.4 1809.6,1676.1 1810.4,1675.9 1811.3,1675.6 1812.1,1675.4 1812.9,1675.2 1813.8,1675 1814.6,1674.8 1815.4,1674.6 1816.3,1674.5 1817.1,1674.3 1818,1674.1 1818.8,1674 1819.6,1673.9 1820.5,1673.8 1821.3,1673.6 1822.1,1673.5 1823,1673.4 1823.8,1673.4 1824.6,1673.3 1825.5,1673.2 1826.3,1673.2 1827.1,1673.1 1828,1673.1 1828.8,1673 1829.6,1673 1830.5,1673 1831.3,1673 1832.1,1673 1833,1673 1833.8,1673 1834.7,1673.1 1835.5,1673.1 1836.3,1673.2 1837.2,1673.2 1838,1673.3 1838.8,1673.4 1839.7,1673.5 1840.5,1673.5 1841.3,1673.7 1842.2,1673.8 1843,1673.9 1843.8,1674 1844.7,1674.2 1845.5,1674.3 1846.3,1674.5 1847.2,1674.6 1848,1674.8 1848.8,1675 1849.7,1675.2 1850.5,1675.4 1851.3,1675.7 1852.2,1675.9 1853,1676.1" fill="none" stroke="#e2243f" stroke-width="3" stroke-linejoin="round"/>
<polygon points="841,1810.7 841.8,1811 842.7,1811.2 843.5,1811.5 844.3,1811.7 845.2,1811.9 846,1812.1 846.8,1812.3 847.7,1812.5 848.5,1812.7 849.4,1812.9 850.2,1813 851,1813.1 851.9,1813.3 852.7,1813.4 853.5,1813.5 854.4,1813.6 855.2,1813.7 856,1813.8 856.9,1813.8 857.7,1813.9 858.5,1813.9 859.4,1814 860.2,1814 861,1814 861.9,1814 862.7,1814 863.5,1814 864.4,1814 865.2,1813.9 866,1813.9 866.9,1813.8 867.7,1813.7 868.6,1813.7 869.4,1813.6 870.2,1813.5 871.1,1813.4 871.9,1813.3 872.7,1813.1 873.6,1813 874.4,1812.8 875.2,1812.7 876.1,1812.5 876.9,1812.3 877.7,1812.1 878.6,1811.9 879.4,1811.7 880.2,1811.5 881.1,1811.2 881.9,1811 882.8,1810.7 883.6,1810.4 884.4,1810.1 885.3,1809.8 886.1,1809.5 886.9,1809.2 887.8,1808.8 888.6,1808.4 889.4,1808.1 890.3,1807.7 891.1,1807.3 891.9,1806.8 892.8,1806.4 893.6,1806 894.4,1805.5 895.3,1805 896.1,1804.5 896.9,1804 897.8,1803.4 898.6,1802.9 899.5,1802.3 900.3,1801.7 901.1,1801.1 902,1800.5 902.8,1799.8 903.6,1799.2 904.5,1798.5 905.3,1797.8 906.1,1797.1 907,1796.3 907.8,1795.5 908.6,1794.7 909.5,1793.9 910.3,1793.1 911.1,1792.2 912,1791.4 912.8,1790.5 913.6,1789.6 914.5,1788.6 915.3,1787.7 916.1,1786.7 917,1785.7 917.8,1784.6 918.7,1783.6 919.5,1782.5 920.3,1781.4 921.2,1780.3 922,1779.1 922.8,1778 923.7,1776.8 924.5,1775.6 925.3,1774.4 926.2,1773.2 927,1771.9 927.8,1770.6 928.7,1769.3 929.5,1768 930.3,1766.7 931.2,1765.3 932,1764 932.9,1762.6 933.7,1761.2 934.5,1759.9 935.4,1758.5 936.2,1757 937,1755.6 937.9,1754.2 938.7,1752.8 939.5,1751.3 940.4,1749.9 941.2,1748.5 942,1747 942.9,1745.6 943.7,1744.2 944.5,1742.7 945.4,1741.3 946.2,1739.9 947,1738.5 947.9,1737.1 948.7,1735.7 949.5,1734.3 950.4,1732.9 951.2,1731.5 952.1,1730.2 952.9,1728.9 953.7,1727.6 954.6,1726.3 955.4,1725 956.2,1723.7 957.1,1722.5 957.9,1721.3 958.7,1720.1 959.6,1718.9 960.4,1717.7 961.2,1716.6 962.1,1715.5 962.9,1714.4 963.7,1713.3 964.6,1712.3 965.4,1711.3 966.2,1710.3 967.1,1709.3 967.9,1708.4 968.8,1707.4 969.6,1706.5 970.4,1705.7 971.3,1704.8 972.1,1704 972.9,1703.2 973.8,1702.4 974.6,1701.7 975.4,1700.9 976.3,1700.2 977.1,1699.5 977.9,1698.9 978.8,1698.2 979.6,1697.6 980.4,1697 981.3,1696.4 982.1,1695.9 983,1695.3 983.8,1694.8 984.6,1694.3 985.5,1693.8 986.3,1693.3 987.1,1692.9 988,1692.4 988.8,1692 989.6,1691.6 990.5,1691.2 991.3,1690.9 992.1,1690.5 993,1690.2 993.8,1689.8 994.6,1689.5 995.5,1689.2 996.3,1688.9 997.1,1688.6 998,1688.4 998.8,1688.1 999.6,1687.9 1000.5,1687.6 1001.3,1687.4 1002.2,1687.2 1003,1687 1003.8,1686.8 1003.8,1676.5 1003,1676.2 1002.2,1676 1001.3,1675.7 1000.5,1675.5 999.6,1675.2 998.8,1675 998,1674.8 997.1,1674.6 996.3,1674.4 995.5,1674.3 994.6,1674.1 993.8,1674 993,1673.8 992.1,1673.7 991.3,1673.6 990.5,1673.5 989.6,1673.4 988.8,1673.3 988,1673.2 987.1,1673.2 986.3,1673.1 985.5,1673.1 984.6,1673 983.8,1673 983,1673 982.1,1673 981.3,1673 980.4,1673 979.6,1673.1 978.8,1673.1 977.9,1673.1 977.1,1673.2 976.3,1673.3 975.4,1673.3 974.6,1673.4 973.8,1673.5 972.9,1673.6 972.1,1673.8 971.3,1673.9 970.4,1674 969.6,1674.2 968.8,1674.4 967.9,1674.5 967.1,1674.7 966.2,1674.9 965.4,1675.1 964.6,1675.4 963.7,1675.6 962.9,1675.8 962.1,1676.1 961.2,1676.4 960.4,1676.7 959.6,1677 958.7,1677.3 957.9,1677.6 957.1,1677.9 956.2,1678.3 955.4,1678.6 954.6,1679 953.7,1679.4 952.9,1679.8 952.1,1680.3 951.2,1680.7 950.4,1681.2 949.5,1681.6 948.7,1682.1 947.9,1682.6 947,1683.1 946.2,1683.7 945.4,1684.2 944.5,1684.8 943.7,1685.4 942.9,1686 942,1686.7 941.2,1687.3 940.4,1688 939.5,1688.7 938.7,1689.4 937.9,1690.1 937,1690.9 936.2,1691.6 935.4,1692.4 934.5,1693.3 933.7,1694.1 932.9,1694.9 932,1695.8 931.2,1696.7 930.3,1697.7 929.5,1698.6 928.7,1699.6 927.8,1700.6 927,1701.6 926.2,1702.6 925.3,1703.7 924.5,1704.7 923.7,1705.8 922.8,1707 922,1708.1 921.2,1709.3 920.3,1710.5 919.5,1711.7 918.7,1712.9 917.8,1714.1 917,1715.4 916.1,1716.7 915.3,1718 914.5,1719.3 913.6,1720.6 912.8,1722 912,1723.3 911.1,1724.7 910.3,1726.1 909.5,1727.5 908.6,1728.9 907.8,1730.3 907,1731.7 906.1,1733.1 905.3,1734.5 904.5,1736 903.6,1737.4 902.8,1738.9 902,1740.3 901.1,1741.7 900.3,1743.2 899.5,1744.6 898.6,1746 897.8,1747.4 896.9,1748.9 896.1,1750.3 895.3,1751.6 894.4,1753 893.6,1754.4 892.8,1755.8 891.9,1757.1 891.1,1758.4 890.3,1759.7 889.4,1761 888.6,1762.3 887.8,1763.6 886.9,1764.8 886.1,1766 885.3,1767.2 884.4,1768.4 883.6,1769.5 882.8,1770.7 881.9,1771.8 881.1,1772.9 880.2,1773.9 879.4,1774.9 878.6,1776 877.7,1776.9 876.9,1777.9 876.1,1778.8 875.2,1779.8 874.4,1780.7 873.6,1781.5 872.7,1782.4 871.9,1783.2 871.1,1784 870.2,1784.8 869.4,1785.5 868.6,1786.2 867.7,1786.9 866.9,1787.6 866,1788.3 865.2,1788.9 864.4,1789.5 863.5,1790.1 862.7,1790.7 861.9,1791.3 861,1791.8 860.2,1792.3 859.4,1792.8 858.5,1793.3 857.7,1793.8 856.9,1794.2 856,1794.7 855.2,1795.1 854.4,1795.5 853.5,1795.9 852.7,1796.2 851.9,1796.6 851,1796.9 850.2,1797.2 849.4,1797.6 848.5,1797.9 847.7,1798.1 846.8,1798.4 846,1798.7 845.2,1798.9 844.3,1799.2 843.5,1799.4 842.7,1799.6 841.8,1799.8 841,1800" fill="#f07c91" stroke="#f07c91" stroke-width="1.2"/>
<polyline points="841,1810.7 841.8,1811 842.7,1811.2 843.5,1811.5 844.3,1811.7 845.2,1811.9 846,1812.1 846.8,1812.3 847.7,1812.5 848.5,1812.7 849.4,1812.9 850.2,1813 851,1813.1 851.9,1813.3 852.7,1813.4 853.5,1813.5 854.4,1813.6 855.2,1813.7 856,1813.8 856.9,1813.8 857.7,1813.9 858.5,1813.9 859.4,1814 860.2,1814 861,1814 861.9,1814 862.7,1814 863.5,1814 864.4,1814 865.2,1813.9 866,1813.9 866.9,1813.8 867.7,1813.7 868.6,1813.7 869.4,1813.6 870.2,1813.5 871.1,1813.4 871.9,1813.3 872.7,1813.1 873.6,1813 874.4,1812.8 875.2,1812.7 876.1,1812.5 876.9,1812.3 877.7,1812.1 878.6,1811.9 879.4,1811.7 880.2,1811.5 881.1,1811.2 881.9,1811 882.8,1810.7 883.6,1810.4 884.4,1810.1 885.3,1809.8 886.1,1809.5 886.9,1809.2 887.8,1808.8 888.6,1808.4 889.4,1808.1 890.3,1807.7 891.1,1807.3 891.9,1806.8 892.8,1806.4 893.6,1806 894.4,1805.5 895.3,1805 896.1,1804.5 896.9,1804 897.8,1803.4 898.6,1802.9 899.5,1802.3 900.3,1801.7 901.1,1801.1 902,1800.5 902.8,1799.8 903.6,1799.2 904.5,1798.5 905.3,1797.8 906.1,1797.1 907,1796.3 907.8,1795.5 908.6,1794.7 909.5,1793.9 910.3,1793.1 911.1,1792.2 912,1791.4 912.8,1790.5 913.6,1789.6 914.5,1788.6 915.3,1787.7 916.1,1786.7 917,1785.7 917.8,1784.6 918.7,1783.6 919.5,1782.5 920.3,1781.4 921.2,1780.3 922,1779.1 922.8,1778 923.7,1776.8 924.5,1775.6 925.3,1774.4 926.2,1773.2 927,1771.9 927.8,1770.6 928.7,1769.3 929.5,1768 930.3,1766.7 931.2,1765.3 932,1764 932.9,1762.6 933.7,1761.2 934.5,1759.9 935.4,1758.5 936.2,1757 937,1755.6 937.9,1754.2 938.7,1752.8 939.5,1751.3 940.4,1749.9 941.2,1748.5 942,1747 942.9,1745.6 943.7,1744.2 944.5,1742.7 945.4,1741.3 946.2,1739.9 947,1738.5 947.9,1737.1 948.7,1735.7 949.5,1734.3 950.4,1732.9 951.2,1731.5 952.1,1730.2 952.9,1728.9 953.7,1727.6 954.6,1726.3 955.4,1725 956.2,1723.7 957.1,1722.5 957.9,1721.3 958.7,1720.1 959.6,1718.9 960.4,1717.7 961.2,1716.6 962.1,1715.5 962.9,1714.4 963.7,1713.3 964.6,1712.3 965.4,1711.3 966.2,1710.3 967.1,1709.3 967.9,1708.4 968.8,1707.4 969.6,1706.5 970.4,1705.7 971.3,1704.8 972.1,1704 972.9,1703.2 973.8,1702.4 974.6,1701.7 975.4,1700.9 976.3,1700.2 977.1,1699.5 977.9,1698.9 978.8,1698.2 979.6,1697.6 980.4,1697 981.3,1696.4 982.1,1695.9 983,1695.3 983.8,1694.8 984.6,1694.3 985.5,1693.8 986.3,1693.3 987.1,1692.9 988,1692.4 988.8,1692 989.6,1691.6 990.5,1691.2 991.3,1690.9 992.1,1690.5 993,1690.2 993.8,1689.8 994.6,1689.5 995.5,1689.2 996.3,1688.9 997.1,1688.6 998,1688.4 998.8,1688.1 999.6,1687.9 1000.5,1687.6 1001.3,1687.4 1002.2,1687.2 1003,1687 1003.8,1686.8" fill="none" stroke="#e2243f" stroke-width="3" stroke-linejoin="round"/>
<polyline points="841,1800 841.8,1799.8 842.7,1799.6 843.5,1799.4 844.3,1799.2 845.2,1798.9 846,1798.7 846.8,1798.4 847.7,1798.1 848.5,1797.9 849.4,1797.6 850.2,1797.2 851,1796.9 851.9,1796.6 852.7,1796.2 853.5,1795.9 854.4,1795.5 855.2,1795.1 856,1794.7 856.9,1794.2 857.7,1793.8 858.5,1793.3 859.4,1792.8 860.2,1792.3 861,1791.8 861.9,1791.3 862.7,1790.7 863.5,1790.1 864.4,1789.5 865.2,1788.9 866,1788.3 866.9,1787.6 867.7,1786.9 868.6,1786.2 869.4,1785.5 870.2,1784.8 871.1,1784 871.9,1783.2 872.7,1782.4 873.6,1781.5 874.4,1780.7 875.2,1779.8 876.1,1778.8 876.9,1777.9 877.7,1776.9 878.6,1776 879.4,1774.9 880.2,1773.9 881.1,1772.9 881.9,1771.8 882.8,1770.7 883.6,1769.5 884.4,1768.4 885.3,1767.2 886.1,1766 886.9,1764.8 887.8,1763.6 888.6,1762.3 889.4,1761 890.3,1759.7 891.1,1758.4 891.9,1757.1 892.8,1755.8 893.6,1754.4 894.4,1753 895.3,1751.6 896.1,1750.3 896.9,1748.9 897.8,1747.4 898.6,1746 899.5,1744.6 900.3,1743.2 901.1,1741.7 902,1740.3 902.8,1738.9 903.6,1737.4 904.5,1736 905.3,1734.5 906.1,1733.1 907,1731.7 907.8,1730.3 908.6,1728.9 909.5,1727.5 910.3,1726.1 911.1,1724.7 912,1723.3 912.8,1722 913.6,1720.6 914.5,1719.3 915.3,1718 916.1,1716.7 917,1715.4 917.8,1714.1 918.7,1712.9 919.5,1711.7 920.3,1710.5 921.2,1709.3 922,1708.1 922.8,1707 923.7,1705.8 924.5,1704.7 925.3,1703.7 926.2,1702.6 927,1701.6 927.8,1700.6 928.7,1699.6 929.5,1698.6 930.3,1697.7 931.2,1696.7 932,1695.8 932.9,1694.9 933.7,1694.1 934.5,1693.3 935.4,1692.4 936.2,1691.6 937,1690.9 937.9,1690.1 938.7,1689.4 939.5,1688.7 940.4,1688 941.2,1687.3 942,1686.7 942.9,1686 943.7,1685.4 944.5,1684.8 945.4,1684.2 946.2,1683.7 947,1683.1 947.9,1682.6 948.7,1682.1 949.5,1681.6 950.4,1681.2 951.2,1680.7 952.1,1680.3 952.9,1679.8 953.7,1679.4 954.6,1679 955.4,1678.6 956.2,1678.3 957.1,1677.9 957.9,1677.6 958.7,1677.3 959.6,1677 960.4,1676.7 961.2,1676.4 962.1,1676.1 962.9,1675.8 963.7,1675.6 964.6,1675.4 965.4,1675.1 966.2,1674.9 967.1,1674.7 967.9,1674.5 968.8,1674.4 969.6,1674.2 970.4,1674 971.3,1673.9 972.1,1673.8 972.9,1673.6 973.8,1673.5 974.6,1673.4 975.4,1673.3 976.3,1673.3 977.1,1673.2 977.9,1673.1 978.8,1673.1 979.6,1673.1 980.4,1673 981.3,1673 982.1,1673 983,1673 983.8,1673 984.6,1673 985.5,1673.1 986.3,1673.1 987.1,1673.2 988,1673.2 988.8,1673.3 989.6,1673.4 990.5,1673.5 991.3,1673.6 992.1,1673.7 993,1673.8 993.8,1674 994.6,1674.1 995.5,1674.3 996.3,1674.4 997.1,1674.6 998,1674.8 998.8,1675 999.6,1675.2 1000.5,1675.5 1001.3,1675.7 1002.2,1676 1003,1676.2 1003.8,1676.5" fill="none" stroke="#e2243f" stroke-width="3" stroke-linejoin="round"/>
<polygon points="1169.2,1810.4 1170,1810.7 1170.8,1811 1171.7,1811.2 1172.5,1811.5 1173.3,1811.7 1174.2,1811.9 1175,1812.1 1175.8,1812.3 1176.7,1812.5 1177.5,1812.7 1178.3,1812.8 1179.2,1813 1180,1813.1 1180.8,1813.3 1181.7,1813.4 1182.5,1813.5 1183.3,1813.6 1184.2,1813.7 1185,1813.8 1185.9,1813.8 1186.7,1813.9 1187.5,1813.9 1188.4,1814 1189.2,1814 1190,1814 1190.9,1814 1191.7,1814 1192.5,1814 1193.4,1814 1194.2,1813.9 1195,1813.9 1195.9,1813.8 1196.7,1813.7 1197.5,1813.7 1198.4,1813.6 1199.2,1813.5 1200,1813.4 1200.9,1813.3 1201.7,1813.1 1202.6,1813 1203.4,1812.8 1204.2,1812.7 1205.1,1812.5 1205.9,1812.3 1206.7,1812.1 1207.6,1811.9 1208.4,1811.7 1209.2,1811.5 1210.1,1811.2 1210.9,1811 1211.7,1810.7 1212.6,1810.4 1213.4,1810.1 1214.2,1809.8 1215.1,1809.5 1215.9,1809.2 1216.8,1808.8 1217.6,1808.4 1218.4,1808.1 1219.3,1807.7 1220.1,1807.3 1220.9,1806.8 1221.8,1806.4 1222.6,1806 1223.4,1805.5 1224.3,1805 1225.1,1804.5 1225.9,1804 1226.8,1803.4 1227.6,1802.9 1228.4,1802.3 1229.3,1801.7 1230.1,1801.1 1230.9,1800.5 1231.8,1799.8 1232.6,1799.2 1233.5,1798.5 1234.3,1797.8 1235.1,1797.1 1236,1796.3 1236.8,1795.5 1237.6,1794.8 1238.5,1793.9 1239.3,1793.1 1240.1,1792.3 1241,1791.4 1241.8,1790.5 1242.6,1789.6 1243.5,1788.6 1244.3,1787.7 1245.1,1786.7 1246,1785.7 1246.8,1784.6 1247.6,1783.6 1248.5,1782.5 1249.3,1781.4 1250.2,1780.3 1251,1779.2 1251.8,1778 1252.7,1776.8 1253.5,1775.6 1254.3,1774.4 1255.2,1773.2 1256,1771.9 1256.8,1770.6 1257.7,1769.3 1258.5,1768 1259.3,1766.7 1260.2,1765.3 1261,1763.9 1261.8,1762.5 1262.7,1761.2 1263.5,1759.8 1264.3,1758.4 1265.2,1757 1266,1755.6 1266.8,1754.1 1267.7,1752.7 1268.5,1751.3 1269.4,1749.9 1270.2,1748.4 1271,1747 1271.9,1745.6 1272.7,1744.1 1273.5,1742.7 1274.4,1741.3 1275.2,1739.9 1276,1738.5 1276.9,1737.1 1277.7,1735.7 1278.5,1734.3 1279.4,1732.9 1280.2,1731.6 1281,1730.2 1281.9,1728.9 1282.7,1727.6 1283.5,1726.3 1284.4,1725 1285.2,1723.8 1286.1,1722.5 1286.9,1721.3 1287.7,1720.1 1288.6,1718.9 1289.4,1717.8 1290.2,1716.6 1291.1,1715.5 1291.9,1714.4 1292.7,1713.4 1293.6,1712.3 1294.4,1711.3 1295.2,1710.3 1296.1,1709.4 1296.9,1708.4 1297.7,1707.5 1298.6,1706.6 1299.4,1705.7 1300.2,1704.9 1301.1,1704.1 1301.9,1703.3 1302.8,1702.5 1303.6,1701.7 1304.4,1701 1305.3,1700.3 1306.1,1699.6 1306.9,1698.9 1307.8,1698.3 1308.6,1697.7 1309.4,1697.1 1310.3,1696.5 1311.1,1695.9 1311.9,1695.4 1312.8,1694.9 1313.6,1694.4 1314.4,1693.9 1315.3,1693.4 1316.1,1692.9 1317,1692.5 1317.8,1692.1 1318.6,1691.7 1319.5,1691.3 1320.3,1690.9 1321.1,1690.6 1322,1690.2 1322.8,1689.9 1323.6,1689.6 1324.5,1689.3 1325.3,1689 1326.1,1688.7 1327,1688.4 1327.8,1688.2 1328.6,1687.9 1329.5,1687.7 1330.3,1687.5 1331.1,1687.2 1332,1687 1332.8,1686.9 1332.8,1676.4 1332,1676.1 1331.1,1675.9 1330.3,1675.6 1329.5,1675.4 1328.6,1675.2 1327.8,1675 1327,1674.8 1326.1,1674.6 1325.3,1674.4 1324.5,1674.2 1323.6,1674.1 1322.8,1673.9 1322,1673.8 1321.1,1673.7 1320.3,1673.6 1319.5,1673.5 1318.6,1673.4 1317.8,1673.3 1317,1673.2 1316.1,1673.1 1315.3,1673.1 1314.4,1673.1 1313.6,1673 1312.8,1673 1311.9,1673 1311.1,1673 1310.3,1673 1309.4,1673 1308.6,1673.1 1307.8,1673.1 1306.9,1673.2 1306.1,1673.2 1305.3,1673.3 1304.4,1673.4 1303.6,1673.5 1302.8,1673.6 1301.9,1673.7 1301.1,1673.8 1300.2,1673.9 1299.4,1674.1 1298.6,1674.2 1297.7,1674.4 1296.9,1674.6 1296.1,1674.8 1295.2,1675 1294.4,1675.2 1293.6,1675.4 1292.7,1675.6 1291.9,1675.9 1291.1,1676.2 1290.2,1676.4 1289.4,1676.7 1288.6,1677 1287.7,1677.3 1286.9,1677.6 1286.1,1678 1285.2,1678.3 1284.4,1678.7 1283.5,1679.1 1282.7,1679.5 1281.9,1679.9 1281,1680.3 1280.2,1680.8 1279.4,1681.2 1278.5,1681.7 1277.7,1682.2 1276.9,1682.7 1276,1683.2 1275.2,1683.8 1274.4,1684.3 1273.5,1684.9 1272.7,1685.5 1271.9,1686.1 1271,1686.7 1270.2,1687.4 1269.4,1688.1 1268.5,1688.8 1267.7,1689.5 1266.8,1690.2 1266,1691 1265.2,1691.7 1264.3,1692.5 1263.5,1693.3 1262.7,1694.2 1261.8,1695 1261,1695.9 1260.2,1696.8 1259.3,1697.7 1258.5,1698.6 1257.7,1699.6 1256.8,1700.6 1256,1701.6 1255.2,1702.6 1254.3,1703.7 1253.5,1704.8 1252.7,1705.9 1251.8,1707 1251,1708.1 1250.2,1709.3 1249.3,1710.5 1248.5,1711.7 1247.6,1712.9 1246.8,1714.1 1246,1715.4 1245.1,1716.7 1244.3,1718 1243.5,1719.3 1242.6,1720.6 1241.8,1722 1241,1723.3 1240.1,1724.7 1239.3,1726.1 1238.5,1727.5 1237.6,1728.9 1236.8,1730.3 1236,1731.7 1235.1,1733.1 1234.3,1734.6 1233.5,1736 1232.6,1737.4 1231.8,1738.9 1230.9,1740.3 1230.1,1741.7 1229.3,1743.2 1228.4,1744.6 1227.6,1746 1226.8,1747.5 1225.9,1748.9 1225.1,1750.3 1224.3,1751.7 1223.4,1753 1222.6,1754.4 1221.8,1755.8 1220.9,1757.1 1220.1,1758.4 1219.3,1759.8 1218.4,1761 1217.6,1762.3 1216.8,1763.6 1215.9,1764.8 1215.1,1766 1214.2,1767.2 1213.4,1768.4 1212.6,1769.5 1211.7,1770.7 1210.9,1771.8 1210.1,1772.9 1209.2,1773.9 1208.4,1775 1207.6,1776 1206.7,1777 1205.9,1777.9 1205.1,1778.9 1204.2,1779.8 1203.4,1780.7 1202.6,1781.5 1201.7,1782.4 1200.9,1783.2 1200,1784 1199.2,1784.8 1198.4,1785.5 1197.5,1786.2 1196.7,1786.9 1195.9,1787.6 1195,1788.3 1194.2,1788.9 1193.4,1789.5 1192.5,1790.1 1191.7,1790.7 1190.9,1791.3 1190,1791.8 1189.2,1792.3 1188.4,1792.8 1187.5,1793.3 1186.7,1793.8 1185.9,1794.2 1185,1794.7 1184.2,1795.1 1183.3,1795.5 1182.5,1795.9 1181.7,1796.2 1180.8,1796.6 1180,1796.9 1179.2,1797.2 1178.3,1797.6 1177.5,1797.9 1176.7,1798.1 1175.8,1798.4 1175,1798.7 1174.2,1798.9 1173.3,1799.2 1172.5,1799.4 1171.7,1799.6 1170.8,1799.8 1170,1800 1169.2,1800.2" fill="#f07c91" stroke="#f07c91" stroke-width="1.2"/>
<polyline points="1169.2,1810.4 1170,1810.7 1170.8,1811 1171.7,1811.2 1172.5,1811.5 1173.3,1811.7 1174.2,1811.9 1175,1812.1 1175.8,1812.3 1176.7,1812.5 1177.5,1812.7 1178.3,1812.8 1179.2,1813 1180,1813.1 1180.8,1813.3 1181.7,1813.4 1182.5,1813.5 1183.3,1813.6 1184.2,1813.7 1185,1813.8 1185.9,1813.8 1186.7,1813.9 1187.5,1813.9 1188.4,1814 1189.2,1814 1190,1814 1190.9,1814 1191.7,1814 1192.5,1814 1193.4,1814 1194.2,1813.9 1195,1813.9 1195.9,1813.8 1196.7,1813.7 1197.5,1813.7 1198.4,1813.6 1199.2,1813.5 1200,1813.4 1200.9,1813.3 1201.7,1813.1 1202.6,1813 1203.4,1812.8 1204.2,1812.7 1205.1,1812.5 1205.9,1812.3 1206.7,1812.1 1207.6,1811.9 1208.4,1811.7 1209.2,1811.5 1210.1,1811.2 1210.9,1811 1211.7,1810.7 1212.6,1810.4 1213.4,1810.1 1214.2,1809.8 1215.1,1809.5 1215.9,1809.2 1216.8,1808.8 1217.6,1808.4 1218.4,1808.1 1219.3,1807.7 1220.1,1807.3 1220.9,1806.8 1221.8,1806.4 1222.6,1806 1223.4,1805.5 1224.3,1805 1225.1,1804.5 1225.9,1804 1226.8,1803.4 1227.6,1802.9 1228.4,1802.3 1229.3,1801.7 1230.1,1801.1 1230.9,1800.5 1231.8,1799.8 1232.6,1799.2 1233.5,1798.5 1234.3,1797.8 1235.1,1797.1 1236,1796.3 1236.8,1795.5 1237.6,1794.8 1238.5,1793.9 1239.3,1793.1 1240.1,1792.3 1241,1791.4 1241.8,1790.5 1242.6,1789.6 1243.5,1788.6 1244.3,1787.7 1245.1,1786.7 1246,1785.7 1246.8,1784.6 1247.6,1783.6 1248.5,1782.5 1249.3,1781.4 1250.2,1780.3 1251,1779.2 1251.8,1778 1252.7,1776.8 1253.5,1775.6 1254.3,1774.4 1255.2,1773.2 1256,1771.9 1256.8,1770.6 1257.7,1769.3 1258.5,1768 1259.3,1766.7 1260.2,1765.3 1261,1763.9 1261.8,1762.5 1262.7,1761.2 1263.5,1759.8 1264.3,1758.4 1265.2,1757 1266,1755.6 1266.8,1754.1 1267.7,1752.7 1268.5,1751.3 1269.4,1749.9 1270.2,1748.4 1271,1747 1271.9,1745.6 1272.7,1744.1 1273.5,1742.7 1274.4,1741.3 1275.2,1739.9 1276,1738.5 1276.9,1737.1 1277.7,1735.7 1278.5,1734.3 1279.4,1732.9 1280.2,1731.6 1281,1730.2 1281.9,1728.9 1282.7,1727.6 1283.5,1726.3 1284.4,1725 1285.2,1723.8 1286.1,1722.5 1286.9,1721.3 1287.7,1720.1 1288.6,1718.9 1289.4,1717.8 1290.2,1716.6 1291.1,1715.5 1291.9,1714.4 1292.7,1713.4 1293.6,1712.3 1294.4,1711.3 1295.2,1710.3 1296.1,1709.4 1296.9,1708.4 1297.7,1707.5 1298.6,1706.6 1299.4,1705.7 1300.2,1704.9 1301.1,1704.1 1301.9,1703.3 1302.8,1702.5 1303.6,1701.7 1304.4,1701 1305.3,1700.3 1306.1,1699.6 1306.9,1698.9 1307.8,1698.3 1308.6,1697.7 1309.4,1697.1 1310.3,1696.5 1311.1,1695.9 1311.9,1695.4 1312.8,1694.9 1313.6,1694.4 1314.4,1693.9 1315.3,1693.4 1316.1,1692.9 1317,1692.5 1317.8,1692.1 1318.6,1691.7 1319.5,1691.3 1320.3,1690.9 1321.1,1690.6 1322,1690.2 1322.8,1689.9 1323.6,1689.6 1324.5,1689.3 1325.3,1689 1326.1,1688.7 1327,1688.4 1327.8,1688.2 1328.6,1687.9 1329.5,1687.7 1330.3,1687.5 1331.1,1687.2 1332,1687 1332.8,1686.9" fill="none" stroke="#e2243f" stroke-width="3" stroke-linejoin="round"/>
<polyline points="1169.2,1800.2 1170,1800 1170.8,1799.8 1171.7,1799.6 1172.5,1799.4 1173.3,1799.2 1174.2,1798.9 1175,1798.7 1175.8,1798.4 1176.7,1798.1 1177.5,1797.9 1178.3,1797.6 1179.2,1797.2 1180,1796.9 1180.8,1796.6 1181.7,1796.2 1182.5,1795.9 1183.3,1795.5 1184.2,1795.1 1185,1794.7 1185.9,1794.2 1186.7,1793.8 1187.5,1793.3 1188.4,1792.8 1189.2,1792.3 1190,1791.8 1190.9,1791.3 1191.7,1790.7 1192.5,1790.1 1193.4,1789.5 1194.2,1788.9 1195,1788.3 1195.9,1787.6 1196.7,1786.9 1197.5,1786.2 1198.4,1785.5 1199.2,1784.8 1200,1784 1200.9,1783.2 1201.7,1782.4 1202.6,1781.5 1203.4,1780.7 1204.2,1779.8 1205.1,1778.9 1205.9,1777.9 1206.7,1777 1207.6,1776 1208.4,1775 1209.2,1773.9 1210.1,1772.9 1210.9,1771.8 1211.7,1770.7 1212.6,1769.5 1213.4,1768.4 1214.2,1767.2 1215.1,1766 1215.9,1764.8 1216.8,1763.6 1217.6,1762.3 1218.4,1761 1219.3,1759.8 1220.1,1758.4 1220.9,1757.1 1221.8,1755.8 1222.6,1754.4 1223.4,1753 1224.3,1751.7 1225.1,1750.3 1225.9,1748.9 1226.8,1747.5 1227.6,1746 1228.4,1744.6 1229.3,1743.2 1230.1,1741.7 1230.9,1740.3 1231.8,1738.9 1232.6,1737.4 1233.5,1736 1234.3,1734.6 1235.1,1733.1 1236,1731.7 1236.8,1730.3 1237.6,1728.9 1238.5,1727.5 1239.3,1726.1 1240.1,1724.7 1241,1723.3 1241.8,1722 1242.6,1720.6 1243.5,1719.3 1244.3,1718 1245.1,1716.7 1246,1715.4 1246.8,1714.1 1247.6,1712.9 1248.5,1711.7 1249.3,1710.5 1250.2,1709.3 1251,1708.1 1251.8,1707 1252.7,1705.9 1253.5,1704.8 1254.3,1703.7 1255.2,1702.6 1256,1701.6 1256.8,1700.6 1257.7,1699.6 1258.5,1698.6 1259.3,1697.7 1260.2,1696.8 1261,1695.9 1261.8,1695 1262.7,1694.2 1263.5,1693.3 1264.3,1692.5 1265.2,1691.7 1266,1691 1266.8,1690.2 1267.7,1689.5 1268.5,1688.8 1269.4,1688.1 1270.2,1687.4 1271,1686.7 1271.9,1686.1 1272.7,1685.5 1273.5,1684.9 1274.4,1684.3 1275.2,1683.8 1276,1683.2 1276.9,1682.7 1277.7,1682.2 1278.5,1681.7 1279.4,1681.2 1280.2,1680.8 1281,1680.3 1281.9,1679.9 1282.7,1679.5 1283.5,1679.1 1284.4,1678.7 1285.2,1678.3 1286.1,1678 1286.9,1677.6 1287.7,1677.3 1288.6,1677 1289.4,1676.7 1290.2,1676.4 1291.1,1676.2 1291.9,1675.9 1292.7,1675.6 1293.6,1675.4 1294.4,1675.2 1295.2,1675 1296.1,1674.8 1296.9,1674.6 1297.7,1674.4 1298.6,1674.2 1299.4,1674.1 1300.2,1673.9 1301.1,1673.8 1301.9,1673.7 1302.8,1673.6 1303.6,1673.5 1304.4,1673.4 1305.3,1673.3 1306.1,1673.2 1306.9,1673.2 1307.8,1673.1 1308.6,1673.1 1309.4,1673 1310.3,1673 1311.1,1673 1311.9,1673 1312.8,1673 1313.6,1673 1314.4,1673.1 1315.3,1673.1 1316.1,1673.1 1317,1673.2 1317.8,1673.3 1318.6,1673.4 1319.5,1673.5 1320.3,1673.6 1321.1,1673.7 1322,1673.8 1322.8,1673.9 1323.6,1674.1 1324.5,1674.2 1325.3,1674.4 1326.1,1674.6 1327,1674.8 1327.8,1675 1328.6,1675.2 1329.5,1675.4 1330.3,1675.6 1331.1,1675.9 1332,1676.1 1332.8,1676.4" fill="none" stroke="#e2243f" stroke-width="3" stroke-linejoin="round"/>
<polygon points="1499.8,1810.7 1500.7,1810.9 1501.5,1811.2 1502.3,1811.4 1503.2,1811.7 1504,1811.9 1504.8,1812.1 1505.7,1812.3 1506.5,1812.5 1507.3,1812.6 1508.2,1812.8 1509,1813 1509.8,1813.1 1510.7,1813.2 1511.5,1813.4 1512.3,1813.5 1513.2,1813.6 1514,1813.6 1514.8,1813.7 1515.7,1813.8 1516.5,1813.9 1517.3,1813.9 1518.2,1813.9 1519,1814 1519.9,1814 1520.7,1814 1521.5,1814 1522.4,1814 1523.2,1814 1524,1813.9 1524.9,1813.9 1525.7,1813.8 1526.5,1813.8 1527.4,1813.7 1528.2,1813.6 1529,1813.5 1529.9,1813.4 1530.7,1813.3 1531.5,1813.2 1532.4,1813.1 1533.2,1812.9 1534,1812.8 1534.9,1812.6 1535.7,1812.4 1536.6,1812.2 1537.4,1812 1538.2,1811.8 1539.1,1811.6 1539.9,1811.4 1540.7,1811.1 1541.6,1810.9 1542.4,1810.6 1543.2,1810.3 1544.1,1810 1544.9,1809.7 1545.7,1809.4 1546.6,1809.1 1547.4,1808.7 1548.2,1808.3 1549.1,1808 1549.9,1807.6 1550.8,1807.2 1551.6,1806.7 1552.4,1806.3 1553.3,1805.8 1554.1,1805.4 1554.9,1804.9 1555.8,1804.4 1556.6,1803.9 1557.4,1803.3 1558.3,1802.8 1559.1,1802.2 1559.9,1801.6 1560.8,1801 1561.6,1800.4 1562.4,1799.8 1563.3,1799.1 1564.1,1798.4 1564.9,1797.7 1565.8,1797 1566.6,1796.2 1567.5,1795.5 1568.3,1794.7 1569.1,1793.9 1570,1793.1 1570.8,1792.2 1571.6,1791.3 1572.5,1790.5 1573.3,1789.5 1574.1,1788.6 1575,1787.7 1575.8,1786.7 1576.6,1785.7 1577.5,1784.7 1578.3,1783.6 1579.1,1782.6 1580,1781.5 1580.8,1780.4 1581.6,1779.2 1582.5,1778.1 1583.3,1776.9 1584.2,1775.7 1585,1774.5 1585.8,1773.3 1586.7,1772.1 1587.5,1770.8 1588.3,1769.5 1589.2,1768.2 1590,1766.9 1590.8,1765.7 1591.7,1764.5 1592.5,1763.1 1593.3,1761.7 1594.2,1760.3 1595,1759 1595.8,1757.6 1596.7,1756.1 1597.5,1754.7 1598.3,1753.3 1599.2,1751.9 1600,1750.4 1600.8,1749 1601.7,1747.6 1602.5,1746.1 1603.4,1744.7 1604.2,1743.3 1605,1741.9 1605.9,1740.4 1606.7,1739 1607.5,1737.6 1608.4,1736.2 1609.2,1734.8 1610,1733.5 1610.9,1732.1 1611.7,1730.8 1612.5,1729.4 1613.4,1728.1 1614.2,1726.8 1615,1725.5 1615.9,1724.3 1616.7,1723 1617.5,1721.8 1618.4,1720.6 1619.2,1719.4 1620.1,1718.2 1620.9,1717.1 1621.7,1716 1622.6,1714.9 1623.4,1713.8 1624.2,1712.8 1625.1,1711.7 1625.9,1710.7 1626.7,1709.8 1627.6,1708.8 1628.4,1707.9 1629.2,1707 1630.1,1706.1 1630.9,1705.2 1631.7,1704.4 1632.6,1703.6 1633.4,1702.8 1634.2,1702 1635.1,1701.3 1635.9,1700.6 1636.8,1699.9 1637.6,1699.2 1638.4,1698.6 1639.3,1697.9 1640.1,1697.3 1640.9,1696.7 1641.8,1696.2 1642.6,1695.6 1643.4,1695.1 1644.3,1694.6 1645.1,1694.1 1645.9,1693.6 1646.8,1693.1 1647.6,1692.7 1648.4,1692.3 1649.3,1691.8 1650.1,1691.4 1651,1691.1 1651.8,1690.7 1652.6,1690.4 1653.5,1690 1654.3,1689.7 1655.1,1689.4 1656,1689.1 1656.8,1688.8 1657.6,1688.5 1658.5,1688.3 1659.3,1688 1660.1,1687.8 1661,1687.6 1661.8,1687.3 1662.6,1687.1 1663.5,1686.9 1664.3,1686.7 1664.3,1676.6 1663.5,1676.3 1662.6,1676 1661.8,1675.8 1661,1675.5 1660.1,1675.3 1659.3,1675.1 1658.5,1674.9 1657.6,1674.7 1656.8,1674.5 1656,1674.3 1655.1,1674.2 1654.3,1674 1653.5,1673.9 1652.6,1673.7 1651.8,1673.6 1651,1673.5 1650.1,1673.4 1649.3,1673.3 1648.4,1673.3 1647.6,1673.2 1646.8,1673.1 1645.9,1673.1 1645.1,1673 1644.3,1673 1643.4,1673 1642.6,1673 1641.8,1673 1640.9,1673 1640.1,1673 1639.3,1673.1 1638.4,1673.1 1637.6,1673.2 1636.8,1673.2 1635.9,1673.3 1635.1,1673.4 1634.2,1673.5 1633.4,1673.6 1632.6,1673.7 1631.7,1673.9 1630.9,1674 1630.1,1674.1 1629.2,1674.3 1628.4,1674.5 1627.6,1674.7 1626.7,1674.8 1625.9,1675.1 1625.1,1675.3 1624.2,1675.5 1623.4,1675.7 1622.6,1676 1621.7,1676.3 1620.9,1676.5 1620.1,1676.8 1619.2,1677.1 1618.4,1677.5 1617.5,1677.8 1616.7,1678.1 1615.9,1678.5 1615,1678.9 1614.2,1679.3 1613.4,1679.7 1612.5,1680.1 1611.7,1680.5 1610.9,1681 1610,1681.4 1609.2,1681.9 1608.4,1682.4 1607.5,1682.9 1606.7,1683.4 1605.9,1684 1605,1684.6 1604.2,1685.1 1603.4,1685.7 1602.5,1686.4 1601.7,1687 1600.8,1687.7 1600,1688.3 1599.2,1689 1598.3,1689.8 1597.5,1690.5 1596.7,1691.3 1595.8,1692 1595,1692.9 1594.2,1693.7 1593.3,1694.5 1592.5,1695.4 1591.7,1696.3 1590.8,1697.3 1590,1698.3 1589.2,1699.2 1588.3,1700.2 1587.5,1701.2 1586.7,1702.2 1585.8,1703.2 1585,1704.3 1584.2,1705.4 1583.3,1706.5 1582.5,1707.6 1581.6,1708.8 1580.8,1709.9 1580,1711.1 1579.1,1712.3 1578.3,1713.5 1577.5,1714.8 1576.6,1716 1575.8,1717.3 1575,1718.6 1574.1,1719.9 1573.3,1721.2 1572.5,1722.6 1571.6,1723.9 1570.8,1725.3 1570,1726.7 1569.1,1728 1568.3,1729.4 1567.5,1730.8 1566.6,1732.3 1565.8,1733.7 1564.9,1735.1 1564.1,1736.5 1563.3,1737.9 1562.4,1739.4 1561.6,1740.8 1560.8,1742.2 1559.9,1743.6 1559.1,1745 1558.3,1746.5 1557.4,1747.9 1556.6,1749.3 1555.8,1750.6 1554.9,1752 1554.1,1753.4 1553.3,1754.7 1552.4,1756.1 1551.6,1757.4 1550.8,1758.7 1549.9,1760 1549.1,1761.3 1548.2,1762.6 1547.4,1763.8 1546.6,1765 1545.7,1766.2 1544.9,1767.4 1544.1,1768.6 1543.2,1769.7 1542.4,1770.8 1541.6,1771.9 1540.7,1773 1539.9,1774 1539.1,1775 1538.2,1776 1537.4,1777 1536.6,1778 1535.7,1778.9 1534.9,1779.8 1534,1780.7 1533.2,1781.5 1532.4,1782.4 1531.5,1783.2 1530.7,1784 1529.9,1784.7 1529,1785.5 1528.2,1786.2 1527.4,1786.9 1526.5,1787.6 1525.7,1788.2 1524.9,1788.9 1524,1789.5 1523.2,1790.1 1522.4,1790.7 1521.5,1791.2 1520.7,1791.7 1519.9,1792.3 1519,1792.8 1518.2,1793.2 1517.3,1793.7 1516.5,1794.2 1515.7,1794.6 1514.8,1795 1514,1795.4 1513.2,1795.8 1512.3,1796.1 1511.5,1796.5 1510.7,1796.8 1509.8,1797.2 1509,1797.5 1508.2,1797.8 1507.3,1798.1 1506.5,1798.3 1505.7,1798.6 1504.8,1798.9 1504,1799.1 1503.2,1799.3 1502.3,1799.6 1501.5,1799.8 1500.7,1800 1499.8,1800.2" fill="#f07c91" stroke="#f07c91" stroke-width="1.2"/>
<polyline points="1499.8,1810.7 1500.7,1810.9 1501.5,1811.2 1502.3,1811.4 1503.2,1811.7 1504,1811.9 1504.8,1812.1 1505.7,1812.3 1506.5,1812.5 1507.3,1812.6 1508.2,1812.8 1509,1813 1509.8,1813.1 1510.7,1813.2 1511.5,1813.4 1512.3,1813.5 1513.2,1813.6 1514,1813.6 1514.8,1813.7 1515.7,1813.8 1516.5,1813.9 1517.3,1813.9 1518.2,1813.9 1519,1814 1519.9,1814 1520.7,1814 1521.5,1814 1522.4,1814 1523.2,1814 1524,1813.9 1524.9,1813.9 1525.7,1813.8 1526.5,1813.8 1527.4,1813.7 1528.2,1813.6 1529,1813.5 1529.9,1813.4 1530.7,1813.3 1531.5,1813.2 1532.4,1813.1 1533.2,1812.9 1534,1812.8 1534.9,1812.6 1535.7,1812.4 1536.6,1812.2 1537.4,1812 1538.2,1811.8 1539.1,1811.6 1539.9,1811.4 1540.7,1811.1 1541.6,1810.9 1542.4,1810.6 1543.2,1810.3 1544.1,1810 1544.9,1809.7 1545.7,1809.4 1546.6,1809.1 1547.4,1808.7 1548.2,1808.3 1549.1,1808 1549.9,1807.6 1550.8,1807.2 1551.6,1806.7 1552.4,1806.3 1553.3,1805.8 1554.1,1805.4 1554.9,1804.9 1555.8,1804.4 1556.6,1803.9 1557.4,1803.3 1558.3,1802.8 1559.1,1802.2 1559.9,1801.6 1560.8,1801 1561.6,1800.4 1562.4,1799.8 1563.3,1799.1 1564.1,1798.4 1564.9,1797.7 1565.8,1797 1566.6,1796.2 1567.5,1795.5 1568.3,1794.7 1569.1,1793.9 1570,1793.1 1570.8,1792.2 1571.6,1791.3 1572.5,1790.5 1573.3,1789.5 1574.1,1788.6 1575,1787.7 1575.8,1786.7 1576.6,1785.7 1577.5,1784.7 1578.3,1783.6 1579.1,1782.6 1580,1781.5 1580.8,1780.4 1581.6,1779.2 1582.5,1778.1 1583.3,1776.9 1584.2,1775.7 1585,1774.5 1585.8,1773.3 1586.7,1772.1 1587.5,1770.8 1588.3,1769.5 1589.2,1768.2 1590,1766.9 1590.8,1765.7 1591.7,1764.5 1592.5,1763.1 1593.3,1761.7 1594.2,1760.3 1595,1759 1595.8,1757.6 1596.7,1756.1 1597.5,1754.7 1598.3,1753.3 1599.2,1751.9 1600,1750.4 1600.8,1749 1601.7,1747.6 1602.5,1746.1 1603.4,1744.7 1604.2,1743.3 1605,1741.9 1605.9,1740.4 1606.7,1739 1607.5,1737.6 1608.4,1736.2 1609.2,1734.8 1610,1733.5 1610.9,1732.1 1611.7,1730.8 1612.5,1729.4 1613.4,1728.1 1614.2,1726.8 1615,1725.5 1615.9,1724.3 1616.7,1723 1617.5,1721.8 1618.4,1720.6 1619.2,1719.4 1620.1,1718.2 1620.9,1717.1 1621.7,1716 1622.6,1714.9 1623.4,1713.8 1624.2,1712.8 1625.1,1711.7 1625.9,1710.7 1626.7,1709.8 1627.6,1708.8 1628.4,1707.9 1629.2,1707 1630.1,1706.1 1630.9,1705.2 1631.7,1704.4 1632.6,1703.6 1633.4,1702.8 1634.2,1702 1635.1,1701.3 1635.9,1700.6 1636.8,1699.9 1637.6,1699.2 1638.4,1698.6 1639.3,1697.9 1640.1,1697.3 1640.9,1696.7 1641.8,1696.2 1642.6,1695.6 1643.4,1695.1 1644.3,1694.6 1645.1,1694.1 1645.9,1693.6 1646.8,1693.1 1647.6,1692.7 1648.4,1692.3 1649.3,1691.8 1650.1,1691.4 1651,1691.1 1651.8,1690.7 1652.6,1690.4 1653.5,1690 1654.3,1689.7 1655.1,1689.4 1656,1689.1 1656.8,1688.8 1657.6,1688.5 1658.5,1688.3 1659.3,1688 1660.1,1687.8 1661,1687.6 1661.8,1687.3 1662.6,1687.1 1663.5,1686.9 1664.3,1686.7" fill="none" stroke="#e2243f" stroke-width="3" stroke-linejoin="round"/>
<polyline points="1499.8,1800.2 1500.7,1800 1501.5,1799.8 1502.3,1799.6 1503.2,1799.3 1504,1799.1 1504.8,1798.9 1505.7,1798.6 1506.5,1798.3 1507.3,1798.1 1508.2,1797.8 1509,1797.5 1509.8,1797.2 1510.7,1796.8 1511.5,1796.5 1512.3,1796.1 1513.2,1795.8 1514,1795.4 1514.8,1795 1515.7,1794.6 1516.5,1794.2 1517.3,1793.7 1518.2,1793.2 1519,1792.8 1519.9,1792.3 1520.7,1791.7 1521.5,1791.2 1522.4,1790.7 1523.2,1790.1 1524,1789.5 1524.9,1788.9 1525.7,1788.2 1526.5,1787.6 1527.4,1786.9 1528.2,1786.2 1529,1785.5 1529.9,1784.7 1530.7,1784 1531.5,1783.2 1532.4,1782.4 1533.2,1781.5 1534,1780.7 1534.9,1779.8 1535.7,1778.9 1536.6,1778 1537.4,1777 1538.2,1776 1539.1,1775 1539.9,1774 1540.7,1773 1541.6,1771.9 1542.4,1770.8 1543.2,1769.7 1544.1,1768.6 1544.9,1767.4 1545.7,1766.2 1546.6,1765 1547.4,1763.8 1548.2,1762.6 1549.1,1761.3 1549.9,1760 1550.8,1758.7 1551.6,1757.4 1552.4,1756.1 1553.3,1754.7 1554.1,1753.4 1554.9,1752 1555.8,1750.6 1556.6,1749.3 1557.4,1747.9 1558.3,1746.5 1559.1,1745 1559.9,1743.6 1560.8,1742.2 1561.6,1740.8 1562.4,1739.4 1563.3,1737.9 1564.1,1736.5 1564.9,1735.1 1565.8,1733.7 1566.6,1732.3 1567.5,1730.8 1568.3,1729.4 1569.1,1728 1570,1726.7 1570.8,1725.3 1571.6,1723.9 1572.5,1722.6 1573.3,1721.2 1574.1,1719.9 1575,1718.6 1575.8,1717.3 1576.6,1716 1577.5,1714.8 1578.3,1713.5 1579.1,1712.3 1580,1711.1 1580.8,1709.9 1581.6,1708.8 1582.5,1707.6 1583.3,1706.5 1584.2,1705.4 1585,1704.3 1585.8,1703.2 1586.7,1702.2 1587.5,1701.2 1588.3,1700.2 1589.2,1699.2 1590,1698.3 1590.8,1697.3 1591.7,1696.3 1592.5,1695.4 1593.3,1694.5 1594.2,1693.7 1595,1692.9 1595.8,1692 1596.7,1691.3 1597.5,1690.5 1598.3,1689.8 1599.2,1689 1600,1688.3 1600.8,1687.7 1601.7,1687 1602.5,1686.4 1603.4,1685.7 1604.2,1685.1 1605,1684.6 1605.9,1684 1606.7,1683.4 1607.5,1682.9 1608.4,1682.4 1609.2,1681.9 1610,1681.4 1610.9,1681 1611.7,1680.5 1612.5,1680.1 1613.4,1679.7 1614.2,1679.3 1615,1678.9 1615.9,1678.5 1616.7,1678.1 1617.5,1677.8 1618.4,1677.5 1619.2,1677.1 1620.1,1676.8 1620.9,1676.5 1621.7,1676.3 1622.6,1676 1623.4,1675.7 1624.2,1675.5 1625.1,1675.3 1625.9,1675.1 1626.7,1674.8 1627.6,1674.7 1628.4,1674.5 1629.2,1674.3 1630.1,1674.1 1630.9,1674 1631.7,1673.9 1632.6,1673.7 1633.4,1673.6 1634.2,1673.5 1635.1,1673.4 1635.9,1673.3 1636.8,1673.2 1637.6,1673.2 1638.4,1673.1 1639.3,1673.1 1640.1,1673 1640.9,1673 1641.8,1673 1642.6,1673 1643.4,1673 1644.3,1673 1645.1,1673 1645.9,1673.1 1646.8,1673.1 1647.6,1673.2 1648.4,1673.3 1649.3,1673.3 1650.1,1673.4 1651,1673.5 1651.8,1673.6 1652.6,1673.7 1653.5,1673.9 1654.3,1674 1655.1,1674.2 1656,1674.3 1656.8,1674.5 1657.6,1674.7 1658.5,1674.9 1659.3,1675.1 1660.1,1675.3 1661,1675.5 1661.8,1675.8 1662.6,1676 1663.5,1676.3 1664.3,1676.6" fill="none" stroke="#e2243f" stroke-width="3" stroke-linejoin="round"/>
<polygon points="1834.7,1810.9 1835.5,1811.2 1836.3,1811.4 1837.2,1811.6 1838,1811.8 1838.8,1812 1839.7,1812.2 1840.5,1812.4 1841.3,1812.6 1842.2,1812.7 1843,1812.9 1843.8,1813 1844.7,1813.1 1845.5,1813.3 1846.3,1813.4 1847.2,1813.5 1848,1813.6 1848.8,1813.6 1849.7,1813.7 1850.5,1813.8 1851.3,1813.8 1852.2,1813.9 1853,1813.9 1853.9,1814 1854.7,1814 1855.5,1814 1856.4,1814 1857.2,1814 1858,1814 1858.9,1814 1859.7,1813.9 1860.5,1813.9 1861.4,1813.8 1862.2,1813.8 1863,1813.7 1863.9,1813.6 1864.7,1813.5 1865.5,1813.4 1866.4,1813.3 1867.2,1813.2 1868,1813.1 1868.9,1813 1869.7,1812.8 1870.6,1812.7 1871.4,1812.5 1872.2,1812.3 1873.1,1812.2 1873.9,1812 1874.7,1811.8 1875.6,1811.5 1876.4,1811.3 1877.2,1811.1 1878.1,1810.8 1878.9,1810.6 1879.7,1810.3 1880.6,1810 1881.4,1809.7 1882.2,1809.4 1883.1,1809.1 1883.9,1808.8 1884.8,1808.5 1885.6,1808.1 1886.4,1807.7 1887.3,1807.4 1888.1,1807 1888.9,1806.6 1889.8,1806.1 1890.6,1805.7 1891.4,1805.3 1892.3,1804.8 1893.1,1804.3 1893.9,1803.8 1894.8,1803.3 1895.6,1802.8 1896.4,1802.3 1897.3,1801.7 1898.1,1801.1 1898.9,1800.6 1899.8,1799.9 1900.6,1799.3 1901.5,1798.7 1902.3,1798 1903.1,1797.4 1904,1796.7 1904.8,1796 1905.6,1795.2 1906.5,1794.5 1907.3,1793.7 1908.1,1792.9 1909,1792.1 1909.8,1791.3 1910.6,1790.5 1911.5,1789.6 1912.3,1788.7 1913.1,1787.8 1914,1786.9 1914.8,1786 1915.6,1785 1916.5,1784 1917.3,1783 1918.2,1782 1919,1781 1919.8,1779.9 1920.7,1778.8 1921.5,1777.8 1922.3,1776.6 1923.2,1775.5 1924,1774.4 1924.8,1773.2 1925.7,1772 1926.5,1770.8 1927.3,1769.6 1928.2,1768.4 1929,1767.2 1929.8,1765.9 1930.7,1764.7 1931.5,1763.4 1932.3,1762.1 1933.2,1760.8 1934,1759.5 1934.8,1758.2 1935.7,1756.9 1936.5,1755.5 1937.4,1754.2 1938.2,1752.9 1939,1751.5 1939.9,1750.2 1940.7,1748.8 1941.5,1747.5 1942.4,1746.1 1943.2,1744.8 1944,1743.4 1944.9,1742.1 1945.7,1740.8 1946.5,1739.4 1947.4,1738.1 1948.2,1736.8 1949,1735.5 1949.9,1734.2 1950.7,1732.9 1951.5,1731.6 1952.4,1730.4 1953.2,1729.1 1954.1,1727.9 1954.9,1726.7 1955.7,1725.5 1956.6,1724.3 1957.4,1723.1 1958.2,1721.9 1959.1,1720.8 1959.9,1719.7 1960.7,1718.6 1961.6,1717.5 1962.4,1716.4 1963.2,1715.4 1964.1,1714.4 1964.9,1713.4 1965.7,1712.4 1966.6,1711.5 1967.4,1710.5 1968.2,1709.6 1969.1,1708.7 1969.9,1707.8 1970.8,1707 1971.6,1706.2 1972.4,1705.4 1973.3,1704.6 1974.1,1703.8 1974.9,1703.1 1975.8,1702.3 1976.6,1701.6 1977.4,1700.9 1978.3,1700.3 1979.1,1699.6 1979.9,1699 1980.8,1698.4 1981.6,1697.8 1982.4,1697.2 1983.3,1696.7 1984.1,1696.1 1985,1695.6 1985.8,1695.1 1986.6,1694.6 1987.5,1694.2 1988.3,1693.7 1989.1,1693.3 1990,1692.9 1990.8,1692.4 1991.6,1692.1 1992.5,1691.7 1993.3,1691.3 1994.1,1691 1995,1690.6 1995.8,1690.3 1996.6,1690 1997.5,1689.7 1998.3,1689.4 1999.1,1689.1 2000,1688.8 2000.8,1688.6 2001.7,1688.3 2002.5,1688.1 2003.3,1687.9 2004.2,1687.6 2005,1687.4 2005.8,1687.2 2006.7,1687 2007.5,1686.9 2008.3,1686.7 2009.2,1686.5 2009.2,1676 2008.3,1675.8 2007.5,1675.6 2006.7,1675.3 2005.8,1675.1 2005,1674.9 2004.2,1674.8 2003.3,1674.6 2002.5,1674.4 2001.7,1674.3 2000.8,1674.1 2000,1674 1999.1,1673.8 1998.3,1673.7 1997.5,1673.6 1996.6,1673.5 1995.8,1673.4 1995,1673.3 1994.1,1673.3 1993.3,1673.2 1992.5,1673.1 1991.6,1673.1 1990.8,1673.1 1990,1673 1989.1,1673 1988.3,1673 1987.5,1673 1986.6,1673 1985.8,1673 1985,1673 1984.1,1673.1 1983.3,1673.1 1982.4,1673.2 1981.6,1673.2 1980.8,1673.3 1979.9,1673.4 1979.1,1673.5 1978.3,1673.6 1977.4,1673.7 1976.6,1673.8 1975.8,1673.9 1974.9,1674.1 1974.1,1674.2 1973.3,1674.4 1972.4,1674.5 1971.6,1674.7 1970.8,1674.9 1969.9,1675.1 1969.1,1675.3 1968.2,1675.5 1967.4,1675.7 1966.6,1676 1965.7,1676.2 1964.9,1676.5 1964.1,1676.7 1963.2,1677 1962.4,1677.3 1961.6,1677.6 1960.7,1677.9 1959.9,1678.3 1959.1,1678.6 1958.2,1679 1957.4,1679.3 1956.6,1679.7 1955.7,1680.1 1954.9,1680.5 1954.1,1680.9 1953.2,1681.4 1952.4,1681.8 1951.5,1682.3 1950.7,1682.8 1949.9,1683.3 1949,1683.8 1948.2,1684.3 1947.4,1684.8 1946.5,1685.4 1945.7,1686 1944.9,1686.6 1944,1687.2 1943.2,1687.8 1942.4,1688.4 1941.5,1689.1 1940.7,1689.8 1939.9,1690.5 1939,1691.2 1938.2,1691.9 1937.4,1692.7 1936.5,1693.4 1935.7,1694.2 1934.8,1695 1934,1695.9 1933.2,1696.7 1932.3,1697.6 1931.5,1698.5 1930.7,1699.4 1929.8,1700.3 1929,1701.2 1928.2,1702.2 1927.3,1703.2 1926.5,1704.2 1925.7,1705.2 1924.8,1706.2 1924,1707.3 1923.2,1708.4 1922.3,1709.5 1921.5,1710.6 1920.7,1711.7 1919.8,1712.9 1919,1714 1918.2,1715.2 1917.3,1716.4 1916.5,1717.6 1915.6,1718.8 1914.8,1720.1 1914,1721.3 1913.1,1722.6 1912.3,1723.9 1911.5,1725.2 1910.6,1726.5 1909.8,1727.8 1909,1729.1 1908.1,1730.4 1907.3,1731.7 1906.5,1733.1 1905.6,1734.4 1904.8,1735.8 1904,1737.1 1903.1,1738.5 1902.3,1739.8 1901.5,1741.2 1900.6,1742.5 1899.8,1743.8 1898.9,1745.2 1898.1,1746.5 1897.3,1747.8 1896.4,1749.2 1895.6,1750.5 1894.8,1751.8 1893.9,1753.1 1893.1,1754.4 1892.3,1755.6 1891.4,1756.9 1890.6,1758.1 1889.8,1759.4 1888.9,1760.6 1888.1,1761.8 1887.3,1763 1886.4,1764.1 1885.6,1765.3 1884.8,1766.4 1883.9,1767.5 1883.1,1768.6 1882.2,1769.7 1881.4,1770.8 1880.6,1771.8 1879.7,1772.8 1878.9,1773.8 1878.1,1774.8 1877.2,1775.7 1876.4,1776.7 1875.6,1777.6 1874.7,1778.5 1873.9,1779.3 1873.1,1780.2 1872.2,1781 1871.4,1781.8 1870.6,1782.6 1869.7,1783.4 1868.9,1784.1 1868,1784.8 1867.2,1785.5 1866.4,1786.2 1865.5,1786.9 1864.7,1787.5 1863.9,1788.1 1863,1788.7 1862.2,1789.3 1861.4,1789.9 1860.5,1790.4 1859.7,1791 1858.9,1791.5 1858,1792 1857.2,1792.5 1856.4,1792.9 1855.5,1793.4 1854.7,1793.8 1853.9,1794.2 1853,1794.6 1852.2,1795 1851.3,1795.4 1850.5,1795.8 1849.7,1796.1 1848.8,1796.5 1848,1796.8 1847.2,1797.1 1846.3,1797.4 1845.5,1797.7 1844.7,1798 1843.8,1798.2 1843,1798.5 1842.2,1798.7 1841.3,1799 1840.5,1799.2 1839.7,1799.4 1838.8,1799.6 1838,1799.8 1837.2,1800 1836.3,1800.2 1835.5,1800.3 1834.7,1800.5" fill="#f07c91" stroke="#f07c91" stroke-width="1.2"/>
<polyline points="1834.7,1810.9 1835.5,1811.2 1836.3,1811.4 1837.2,1811.6 1838,1811.8 1838.8,1812 1839.7,1812.2 1840.5,1812.4 1841.3,1812.6 1842.2,1812.7 1843,1812.9 1843.8,1813 1844.7,1813.1 1845.5,1813.3 1846.3,1813.4 1847.2,1813.5 1848,1813.6 1848.8,1813.6 1849.7,1813.7 1850.5,1813.8 1851.3,1813.8 1852.2,1813.9 1853,1813.9 1853.9,1814 1854.7,1814 1855.5,1814 1856.4,1814 1857.2,1814 1858,1814 1858.9,1814 1859.7,1813.9 1860.5,1813.9 1861.4,1813.8 1862.2,1813.8 1863,1813.7 1863.9,1813.6 1864.7,1813.5 1865.5,1813.4 1866.4,1813.3 1867.2,1813.2 1868,1813.1 1868.9,1813 1869.7,1812.8 1870.6,1812.7 1871.4,1812.5 1872.2,1812.3 1873.1,1812.2 1873.9,1812 1874.7,1811.8 1875.6,1811.5 1876.4,1811.3 1877.2,1811.1 1878.1,1810.8 1878.9,1810.6 1879.7,1810.3 1880.6,1810 1881.4,1809.7 1882.2,1809.4 1883.1,1809.1 1883.9,1808.8 1884.8,1808.5 1885.6,1808.1 1886.4,1807.7 1887.3,1807.4 1888.1,1807 1888.9,1806.6 1889.8,1806.1 1890.6,1805.7 1891.4,1805.3 1892.3,1804.8 1893.1,1804.3 1893.9,1803.8 1894.8,1803.3 1895.6,1802.8 1896.4,1802.3 1897.3,1801.7 1898.1,1801.1 1898.9,1800.6 1899.8,1799.9 1900.6,1799.3 1901.5,1798.7 1902.3,1798 1903.1,1797.4 1904,1796.7 1904.8,1796 1905.6,1795.2 1906.5,1794.5 1907.3,1793.7 1908.1,1792.9 1909,1792.1 1909.8,1791.3 1910.6,1790.5 1911.5,1789.6 1912.3,1788.7 1913.1,1787.8 1914,1786.9 1914.8,1786 1915.6,1785 1916.5,1784 1917.3,1783 1918.2,1782 1919,1781 1919.8,1779.9 1920.7,1778.8 1921.5,1777.8 1922.3,1776.6 1923.2,1775.5 1924,1774.4 1924.8,1773.2 1925.7,1772 1926.5,1770.8 1927.3,1769.6 1928.2,1768.4 1929,1767.2 1929.8,1765.9 1930.7,1764.7 1931.5,1763.4 1932.3,1762.1 1933.2,1760.8 1934,1759.5 1934.8,1758.2 1935.7,1756.9 1936.5,1755.5 1937.4,1754.2 1938.2,1752.9 1939,1751.5 1939.9,1750.2 1940.7,1748.8 1941.5,1747.5 1942.4,1746.1 1943.2,1744.8 1944,1743.4 1944.9,1742.1 1945.7,1740.8 1946.5,1739.4 1947.4,1738.1 1948.2,1736.8 1949,1735.5 1949.9,1734.2 1950.7,1732.9 1951.5,1731.6 1952.4,1730.4 1953.2,1729.1 1954.1,1727.9 1954.9,1726.7 1955.7,1725.5 1956.6,1724.3 1957.4,1723.1 1958.2,1721.9 1959.1,1720.8 1959.9,1719.7 1960.7,1718.6 1961.6,1717.5 1962.4,1716.4 1963.2,1715.4 1964.1,1714.4 1964.9,1713.4 1965.7,1712.4 1966.6,1711.5 1967.4,1710.5 1968.2,1709.6 1969.1,1708.7 1969.9,1707.8 1970.8,1707 1971.6,1706.2 1972.4,1705.4 1973.3,1704.6 1974.1,1703.8 1974.9,1703.1 1975.8,1702.3 1976.6,1701.6 1977.4,1700.9 1978.3,1700.3 1979.1,1699.6 1979.9,1699 1980.8,1698.4 1981.6,1697.8 1982.4,1697.2 1983.3,1696.7 1984.1,1696.1 1985,1695.6 1985.8,1695.1 1986.6,1694.6 1987.5,1694.2 1988.3,1693.7 1989.1,1693.3 1990,1692.9 1990.8,1692.4 1991.6,1692.1 1992.5,1691.7 1993.3,1691.3 1994.1,1691 1995,1690.6 1995.8,1690.3 1996.6,1690 1997.5,1689.7 1998.3,1689.4 1999.1,1689.1 2000,1688.8 2000.8,1688.6 2001.7,1688.3 2002.5,1688.1 2003.3,1687.9 2004.2,1687.6 2005,1687.4 2005.8,1687.2 2006.7,1687 2007.5,1686.9 2008.3,1686.7 2009.2,1686.5" fill="none" stroke="#e2243f" stroke-width="3" stroke-linejoin="round"/>
<polyline points="1834.7,1800.5 1835.5,1800.3 1836.3,1800.2 1837.2,1800 1838,1799.8 1838.8,1799.6 1839.7,1799.4 1840.5,1799.2 1841.3,1799 1842.2,1798.7 1843,1798.5 1843.8,1798.2 1844.7,1798 1845.5,1797.7 1846.3,1797.4 1847.2,1797.1 1848,1796.8 1848.8,1796.5 1849.7,1796.1 1850.5,1795.8 1851.3,1795.4 1852.2,1795 1853,1794.6 1853.9,1794.2 1854.7,1793.8 1855.5,1793.4 1856.4,1792.9 1857.2,1792.5 1858,1792 1858.9,1791.5 1859.7,1791 1860.5,1790.4 1861.4,1789.9 1862.2,1789.3 1863,1788.7 1863.9,1788.1 1864.7,1787.5 1865.5,1786.9 1866.4,1786.2 1867.2,1785.5 1868,1784.8 1868.9,1784.1 1869.7,1783.4 1870.6,1782.6 1871.4,1781.8 1872.2,1781 1873.1,1780.2 1873.9,1779.3 1874.7,1778.5 1875.6,1777.6 1876.4,1776.7 1877.2,1775.7 1878.1,1774.8 1878.9,1773.8 1879.7,1772.8 1880.6,1771.8 1881.4,1770.8 1882.2,1769.7 1883.1,1768.6 1883.9,1767.5 1884.8,1766.4 1885.6,1765.3 1886.4,1764.1 1887.3,1763 1888.1,1761.8 1888.9,1760.6 1889.8,1759.4 1890.6,1758.1 1891.4,1756.9 1892.3,1755.6 1893.1,1754.4 1893.9,1753.1 1894.8,1751.8 1895.6,1750.5 1896.4,1749.2 1897.3,1747.8 1898.1,1746.5 1898.9,1745.2 1899.8,1743.8 1900.6,1742.5 1901.5,1741.2 1902.3,1739.8 1903.1,1738.5 1904,1737.1 1904.8,1735.8 1905.6,1734.4 1906.5,1733.1 1907.3,1731.7 1908.1,1730.4 1909,1729.1 1909.8,1727.8 1910.6,1726.5 1911.5,1725.2 1912.3,1723.9 1913.1,1722.6 1914,1721.3 1914.8,1720.1 1915.6,1718.8 1916.5,1717.6 1917.3,1716.4 1918.2,1715.2 1919,1714 1919.8,1712.9 1920.7,1711.7 1921.5,1710.6 1922.3,1709.5 1923.2,1708.4 1924,1707.3 1924.8,1706.2 1925.7,1705.2 1926.5,1704.2 1927.3,1703.2 1928.2,1702.2 1929,1701.2 1929.8,1700.3 1930.7,1699.4 1931.5,1698.5 1932.3,1697.6 1933.2,1696.7 1934,1695.9 1934.8,1695 1935.7,1694.2 1936.5,1693.4 1937.4,1692.7 1938.2,1691.9 1939,1691.2 1939.9,1690.5 1940.7,1689.8 1941.5,1689.1 1942.4,1688.4 1943.2,1687.8 1944,1687.2 1944.9,1686.6 1945.7,1686 1946.5,1685.4 1947.4,1684.8 1948.2,1684.3 1949,1683.8 1949.9,1683.3 1950.7,1682.8 1951.5,1682.3 1952.4,1681.8 1953.2,1681.4 1954.1,1680.9 1954.9,1680.5 1955.7,1680.1 1956.6,1679.7 1957.4,1679.3 1958.2,1679 1959.1,1678.6 1959.9,1678.3 1960.7,1677.9 1961.6,1677.6 1962.4,1677.3 1963.2,1677 1964.1,1676.7 1964.9,1676.5 1965.7,1676.2 1966.6,1676 1967.4,1675.7 1968.2,1675.5 1969.1,1675.3 1969.9,1675.1 1970.8,1674.9 1971.6,1674.7 1972.4,1674.5 1973.3,1674.4 1974.1,1674.2 1974.9,1674.1 1975.8,1673.9 1976.6,1673.8 1977.4,1673.7 1978.3,1673.6 1979.1,1673.5 1979.9,1673.4 1980.8,1673.3 1981.6,1673.2 1982.4,1673.2 1983.3,1673.1 1984.1,1673.1 1985,1673 1985.8,1673 1986.6,1673 1987.5,1673 1988.3,1673 1989.1,1673 1990,1673 1990.8,1673.1 1991.6,1673.1 1992.5,1673.1 1993.3,1673.2 1994.1,1673.3 1995,1673.3 1995.8,1673.4 1996.6,1673.5 1997.5,1673.6 1998.3,1673.7 1999.1,1673.8 2000,1674 2000.8,1674.1 2001.7,1674.3 2002.5,1674.4 2003.3,1674.6 2004.2,1674.8 2005,1674.9 2005.8,1675.1 2006.7,1675.3 2007.5,1675.6 2008.3,1675.8 2009.2,1676" fill="none" stroke="#e2243f" stroke-width="3" stroke-linejoin="round"/>
<polygon points="841,1685.4 841.8,1684.8 842.7,1684.3 843.5,1683.7 844.3,1683.2 845.2,1682.6 846,1682.1 846.8,1681.6 847.7,1681.2 848.5,1680.7 849.4,1680.3 850.2,1679.8 851,1679.4 851.9,1679 852.7,1678.7 853.5,1678.3 854.4,1677.9 855.2,1677.6 856,1677.3 856.9,1677 857.7,1676.7 858.5,1676.4 859.4,1676.1 860.2,1675.8 861,1675.6 861.9,1675.4 862.7,1675.1 863.5,1674.9 864.4,1674.7 865.2,1674.5 866,1674.4 866.9,1674.2 867.7,1674 868.6,1673.9 869.4,1673.8 870.2,1673.7 871.1,1673.5 871.9,1673.4 872.7,1673.3 873.6,1673.3 874.4,1673.2 875.2,1673.1 876.1,1673.1 876.9,1673.1 877.7,1673 878.6,1673 879.4,1673 880.2,1673 881.1,1673 881.9,1673 882.8,1673.1 883.6,1673.1 884.4,1673.2 885.3,1673.2 886.1,1673.3 886.9,1673.4 887.8,1673.5 888.6,1673.6 889.4,1673.7 890.3,1673.8 891.1,1674 891.9,1674.1 892.8,1674.3 893.6,1674.4 894.4,1674.6 895.3,1674.8 896.1,1675 896.9,1675.2 897.8,1675.5 898.6,1675.7 899.5,1675.9 900.3,1676.2 901.1,1676.5 902,1676.8 902.8,1677.1 903.6,1677.4 904.5,1677.7 905.3,1678.1 906.1,1678.4 907,1678.8 907.8,1679.2 908.6,1679.6 909.5,1680 910.3,1680.4 911.1,1680.9 912,1681.4 912.8,1681.8 913.6,1682.3 914.5,1682.8 915.3,1683.4 916.1,1683.9 917,1684.5 917.8,1685.1 918.7,1685.7 919.5,1686.3 920.3,1686.9 921.2,1687.6 922,1688.3 922.8,1689 923.7,1689.7 924.5,1690.4 925.3,1691.2 926.2,1692 927,1692.8 927.8,1693.6 928.7,1694.5 929.5,1695.3 930.3,1696.2 931.2,1697.1 932,1698.1 932.9,1699 933.7,1700 934.5,1701 935.4,1702 936.2,1703.1 937,1704.1 937.9,1705.2 938.7,1706.3 939.5,1707.5 940.4,1708.6 941.2,1709.8 942,1711 942.9,1712.2 943.7,1713.4 944.5,1714.7 945.4,1715.9 946.2,1717.2 947,1718.5 947.9,1719.9 948.7,1721.2 949.5,1722.5 950.4,1723.9 951.2,1725.3 952.1,1726.7 952.9,1728.1 953.7,1729.5 954.6,1730.9 955.4,1732.3 956.2,1733.7 957.1,1735.2 957.9,1736.6 958.7,1738 959.6,1739.5 960.4,1740.9 961.2,1742.3 962.1,1743.8 962.9,1745.2 963.7,1746.6 964.6,1748.1 965.4,1749.5 966.2,1750.9 967.1,1752.2 967.9,1753.6 968.8,1755 969.6,1756.3 970.4,1757.7 971.3,1759 972.1,1760.3 972.9,1761.6 973.8,1762.8 974.6,1764.1 975.4,1765.3 976.3,1766.5 977.1,1767.7 977.9,1768.9 978.8,1770 979.6,1771.1 980.4,1772.2 981.3,1773.3 982.1,1774.4 983,1775.4 983.8,1776.4 984.6,1777.4 985.5,1778.3 986.3,1779.2 987.1,1780.2 988,1781 988.8,1781.9 989.6,1782.7 990.5,1783.5 991.3,1784.3 992.1,1785.1 993,1785.8 993.8,1786.5 994.6,1787.2 995.5,1787.9 996.3,1788.6 997.1,1789.2 998,1789.8 998.8,1790.4 999.6,1790.9 1000.5,1791.5 1001.3,1792 1002.2,1792.5 1003,1793 1003.8,1793.5 1004.7,1794 1005.5,1794.4 1006.3,1794.8 1007.2,1795.2 1008,1795.6 1008.8,1796 1009.7,1796.4 1010.5,1796.7 1011.3,1797.1 1012.2,1797.4 1013,1797.7 1013.8,1798 1014.7,1798.3 1015.5,1798.5 1016.4,1798.8 1017.2,1799 1018,1799.3 1018.9,1799.5 1019.7,1799.7 1020.5,1799.9 1021.4,1800.1 1021.4,1810.6 1020.5,1810.9 1019.7,1811.1 1018.9,1811.4 1018,1811.6 1017.2,1811.8 1016.4,1812.1 1015.5,1812.3 1014.7,1812.4 1013.8,1812.6 1013,1812.8 1012.2,1812.9 1011.3,1813.1 1010.5,1813.2 1009.7,1813.3 1008.8,1813.5 1008,1813.6 1007.2,1813.6 1006.3,1813.7 1005.5,1813.8 1004.7,1813.9 1003.8,1813.9 1003,1813.9 1002.2,1814 1001.3,1814 1000.5,1814 999.6,1814 998.8,1814 998,1814 997.1,1813.9 996.3,1813.9 995.5,1813.8 994.6,1813.8 993.8,1813.7 993,1813.6 992.1,1813.5 991.3,1813.4 990.5,1813.3 989.6,1813.2 988.8,1813.1 988,1812.9 987.1,1812.7 986.3,1812.6 985.5,1812.4 984.6,1812.2 983.8,1812 983,1811.8 982.1,1811.6 981.3,1811.3 980.4,1811.1 979.6,1810.8 978.8,1810.5 977.9,1810.2 977.1,1809.9 976.3,1809.6 975.4,1809.3 974.6,1809 973.8,1808.6 972.9,1808.2 972.1,1807.8 971.3,1807.4 970.4,1807 969.6,1806.6 968.8,1806.2 967.9,1805.7 967.1,1805.2 966.2,1804.7 965.4,1804.2 964.6,1803.7 963.7,1803.1 962.9,1802.6 962.1,1802 961.2,1801.4 960.4,1800.8 959.6,1800.1 958.7,1799.5 957.9,1798.8 957.1,1798.1 956.2,1797.4 955.4,1796.6 954.6,1795.9 953.7,1795.1 952.9,1794.3 952.1,1793.5 951.2,1792.6 950.4,1791.8 949.5,1790.9 948.7,1790 947.9,1789 947,1788.1 946.2,1787.1 945.4,1786.1 944.5,1785.1 943.7,1784 942.9,1783 942,1781.9 941.2,1780.8 940.4,1779.6 939.5,1778.5 938.7,1777.3 937.9,1776.1 937,1774.9 936.2,1773.7 935.4,1772.4 934.5,1771.2 933.7,1769.9 932.9,1768.6 932,1767.3 931.2,1765.9 930.3,1764.6 929.5,1763.2 928.7,1761.8 927.8,1760.5 927,1759.1 926.2,1757.7 925.3,1756.2 924.5,1754.8 923.7,1753.4 922.8,1752 922,1750.5 921.2,1749.1 920.3,1747.7 919.5,1746.2 918.7,1744.8 917.8,1743.3 917,1741.9 916.1,1740.5 915.3,1739.1 914.5,1737.7 913.6,1736.3 912.8,1734.9 912,1733.5 911.1,1732.1 910.3,1730.8 909.5,1729.4 908.6,1728.1 907.8,1726.8 907,1725.5 906.1,1724.3 905.3,1723 904.5,1721.8 903.6,1720.6 902.8,1719.4 902,1718.2 901.1,1717.1 900.3,1716 899.5,1714.9 898.6,1713.8 897.8,1712.7 896.9,1711.7 896.1,1710.7 895.3,1709.7 894.4,1708.8 893.6,1707.8 892.8,1706.9 891.9,1706 891.1,1705.2 890.3,1704.4 889.4,1703.5 888.6,1702.8 887.8,1702 886.9,1701.2 886.1,1700.5 885.3,1699.8 884.4,1699.2 883.6,1698.5 882.8,1697.9 881.9,1697.3 881.1,1696.7 880.2,1696.1 879.4,1695.6 878.6,1695 877.7,1694.5 876.9,1694 876.1,1693.5 875.2,1693.1 874.4,1692.6 873.6,1692.2 872.7,1691.8 871.9,1691.4 871.1,1691 870.2,1690.7 869.4,1690.3 868.6,1690 867.7,1689.6 866.9,1689.3 866,1689 865.2,1688.8 864.4,1688.5 863.5,1688.2 862.7,1688 861.9,1687.7 861,1687.5 860.2,1687.3 859.4,1687.1 858.5,1686.9 857.7,1686.7 856.9,1686.5 856,1686.4 855.2,1686.2 854.4,1686 853.5,1685.9 852.7,1685.8 851.9,1685.6 851,1685.5 850.2,1685.4 849.4,1685.3 848.5,1685.2 847.7,1685.1 846.8,1685 846,1685 845.2,1684.9 844.3,1684.8 843.5,1684.8 842.7,1684.7 841.8,1684.7 841,1684.6" fill="#ffa8b7" stroke="#ffa8b7" stroke-width="1.2"/>
<polyline points="841,1685.4 841.8,1684.8 842.7,1684.3 843.5,1683.7 844.3,1683.2 845.2,1682.6 846,1682.1 846.8,1681.6 847.7,1681.2 848.5,1680.7 849.4,1680.3 850.2,1679.8 851,1679.4 851.9,1679 852.7,1678.7 853.5,1678.3 854.4,1677.9 855.2,1677.6 856,1677.3 856.9,1677 857.7,1676.7 858.5,1676.4 859.4,1676.1 860.2,1675.8 861,1675.6 861.9,1675.4 862.7,1675.1 863.5,1674.9 864.4,1674.7 865.2,1674.5 866,1674.4 866.9,1674.2 867.7,1674 868.6,1673.9 869.4,1673.8 870.2,1673.7 871.1,1673.5 871.9,1673.4 872.7,1673.3 873.6,1673.3 874.4,1673.2 875.2,1673.1 876.1,1673.1 876.9,1673.1 877.7,1673 878.6,1673 879.4,1673 880.2,1673 881.1,1673 881.9,1673 882.8,1673.1 883.6,1673.1 884.4,1673.2 885.3,1673.2 886.1,1673.3 886.9,1673.4 887.8,1673.5 888.6,1673.6 889.4,1673.7 890.3,1673.8 891.1,1674 891.9,1674.1 892.8,1674.3 893.6,1674.4 894.4,1674.6 895.3,1674.8 896.1,1675 896.9,1675.2 897.8,1675.5 898.6,1675.7 899.5,1675.9 900.3,1676.2 901.1,1676.5 902,1676.8 902.8,1677.1 903.6,1677.4 904.5,1677.7 905.3,1678.1 906.1,1678.4 907,1678.8 907.8,1679.2 908.6,1679.6 909.5,1680 910.3,1680.4 911.1,1680.9 912,1681.4 912.8,1681.8 913.6,1682.3 914.5,1682.8 915.3,1683.4 916.1,1683.9 917,1684.5 917.8,1685.1 918.7,1685.7 919.5,1686.3 920.3,1686.9 921.2,1687.6 922,1688.3 922.8,1689 923.7,1689.7 924.5,1690.4 925.3,1691.2 926.2,1692 927,1692.8 927.8,1693.6 928.7,1694.5 929.5,1695.3 930.3,1696.2 931.2,1697.1 932,1698.1 932.9,1699 933.7,1700 934.5,1701 935.4,1702 936.2,1703.1 937,1704.1 937.9,1705.2 938.7,1706.3 939.5,1707.5 940.4,1708.6 941.2,1709.8 942,1711 942.9,1712.2 943.7,1713.4 944.5,1714.7 945.4,1715.9 946.2,1717.2 947,1718.5 947.9,1719.9 948.7,1721.2 949.5,1722.5 950.4,1723.9 951.2,1725.3 952.1,1726.7 952.9,1728.1 953.7,1729.5 954.6,1730.9 955.4,1732.3 956.2,1733.7 957.1,1735.2 957.9,1736.6 958.7,1738 959.6,1739.5 960.4,1740.9 961.2,1742.3 962.1,1743.8 962.9,1745.2 963.7,1746.6 964.6,1748.1 965.4,1749.5 966.2,1750.9 967.1,1752.2 967.9,1753.6 968.8,1755 969.6,1756.3 970.4,1757.7 971.3,1759 972.1,1760.3 972.9,1761.6 973.8,1762.8 974.6,1764.1 975.4,1765.3 976.3,1766.5 977.1,1767.7 977.9,1768.9 978.8,1770 979.6,1771.1 980.4,1772.2 981.3,1773.3 982.1,1774.4 983,1775.4 983.8,1776.4 984.6,1777.4 985.5,1778.3 986.3,1779.2 987.1,1780.2 988,1781 988.8,1781.9 989.6,1782.7 990.5,1783.5 991.3,1784.3 992.1,1785.1 993,1785.8 993.8,1786.5 994.6,1787.2 995.5,1787.9 996.3,1788.6 997.1,1789.2 998,1789.8 998.8,1790.4 999.6,1790.9 1000.5,1791.5 1001.3,1792 1002.2,1792.5 1003,1793 1003.8,1793.5 1004.7,1794 1005.5,1794.4 1006.3,1794.8 1007.2,1795.2 1008,1795.6 1008.8,1796 1009.7,1796.4 1010.5,1796.7 1011.3,1797.1 1012.2,1797.4 1013,1797.7 1013.8,1798 1014.7,1798.3 1015.5,1798.5 1016.4,1798.8 1017.2,1799 1018,1799.3 1018.9,1799.5 1019.7,1799.7 1020.5,1799.9 1021.4,1800.1" fill="none" stroke="#e2243f" stroke-width="3" stroke-linejoin="round"/>
<polyline points="841,1684.6 841.8,1684.7 842.7,1684.7 843.5,1684.8 844.3,1684.8 845.2,1684.9 846,1685 846.8,1685 847.7,1685.1 848.5,1685.2 849.4,1685.3 850.2,1685.4 851,1685.5 851.9,1685.6 852.7,1685.8 853.5,1685.9 854.4,1686 855.2,1686.2 856,1686.4 856.9,1686.5 857.7,1686.7 858.5,1686.9 859.4,1687.1 860.2,1687.3 861,1687.5 861.9,1687.7 862.7,1688 863.5,1688.2 864.4,1688.5 865.2,1688.8 866,1689 866.9,1689.3 867.7,1689.6 868.6,1690 869.4,1690.3 870.2,1690.7 871.1,1691 871.9,1691.4 872.7,1691.8 873.6,1692.2 874.4,1692.6 875.2,1693.1 876.1,1693.5 876.9,1694 877.7,1694.5 878.6,1695 879.4,1695.6 880.2,1696.1 881.1,1696.7 881.9,1697.3 882.8,1697.9 883.6,1698.5 884.4,1699.2 885.3,1699.8 886.1,1700.5 886.9,1701.2 887.8,1702 888.6,1702.8 889.4,1703.5 890.3,1704.4 891.1,1705.2 891.9,1706 892.8,1706.9 893.6,1707.8 894.4,1708.8 895.3,1709.7 896.1,1710.7 896.9,1711.7 897.8,1712.7 898.6,1713.8 899.5,1714.9 900.3,1716 901.1,1717.1 902,1718.2 902.8,1719.4 903.6,1720.6 904.5,1721.8 905.3,1723 906.1,1724.3 907,1725.5 907.8,1726.8 908.6,1728.1 909.5,1729.4 910.3,1730.8 911.1,1732.1 912,1733.5 912.8,1734.9 913.6,1736.3 914.5,1737.7 915.3,1739.1 916.1,1740.5 917,1741.9 917.8,1743.3 918.7,1744.8 919.5,1746.2 920.3,1747.7 921.2,1749.1 922,1750.5 922.8,1752 923.7,1753.4 924.5,1754.8 925.3,1756.2 926.2,1757.7 927,1759.1 927.8,1760.5 928.7,1761.8 929.5,1763.2 930.3,1764.6 931.2,1765.9 932,1767.3 932.9,1768.6 933.7,1769.9 934.5,1771.2 935.4,1772.4 936.2,1773.7 937,1774.9 937.9,1776.1 938.7,1777.3 939.5,1778.5 940.4,1779.6 941.2,1780.8 942,1781.9 942.9,1783 943.7,1784 944.5,1785.1 945.4,1786.1 946.2,1787.1 947,1788.1 947.9,1789 948.7,1790 949.5,1790.9 950.4,1791.8 951.2,1792.6 952.1,1793.5 952.9,1794.3 953.7,1795.1 954.6,1795.9 955.4,1796.6 956.2,1797.4 957.1,1798.1 957.9,1798.8 958.7,1799.5 959.6,1800.1 960.4,1800.8 961.2,1801.4 962.1,1802 962.9,1802.6 963.7,1803.1 964.6,1803.7 965.4,1804.2 966.2,1804.7 967.1,1805.2 967.9,1805.7 968.8,1806.2 969.6,1806.6 970.4,1807 971.3,1807.4 972.1,1807.8 972.9,1808.2 973.8,1808.6 974.6,1809 975.4,1809.3 976.3,1809.6 977.1,1809.9 977.9,1810.2 978.8,1810.5 979.6,1810.8 980.4,1811.1 981.3,1811.3 982.1,1811.6 983,1811.8 983.8,1812 984.6,1812.2 985.5,1812.4 986.3,1812.6 987.1,1812.7 988,1812.9 988.8,1813.1 989.6,1813.2 990.5,1813.3 991.3,1813.4 992.1,1813.5 993,1813.6 993.8,1813.7 994.6,1813.8 995.5,1813.8 996.3,1813.9 997.1,1813.9 998,1814 998.8,1814 999.6,1814 1000.5,1814 1001.3,1814 1002.2,1814 1003,1813.9 1003.8,1813.9 1004.7,1813.9 1005.5,1813.8 1006.3,1813.7 1007.2,1813.6 1008,1813.6 1008.8,1813.5 1009.7,1813.3 1010.5,1813.2 1011.3,1813.1 1012.2,1812.9 1013,1812.8 1013.8,1812.6 1014.7,1812.4 1015.5,1812.3 1016.4,1812.1 1017.2,1811.8 1018,1811.6 1018.9,1811.4 1019.7,1811.1 1020.5,1810.9 1021.4,1810.6" fill="none" stroke="#e2243f" stroke-width="3" stroke-linejoin="round"/>
<polygon points="1186.7,1676.7 1187.5,1676.4 1188.4,1676.1 1189.2,1675.8 1190,1675.6 1190.9,1675.4 1191.7,1675.1 1192.5,1674.9 1193.4,1674.7 1194.2,1674.5 1195,1674.4 1195.9,1674.2 1196.7,1674.1 1197.5,1673.9 1198.4,1673.8 1199.2,1673.7 1200,1673.5 1200.9,1673.4 1201.7,1673.4 1202.6,1673.3 1203.4,1673.2 1204.2,1673.1 1205.1,1673.1 1205.9,1673.1 1206.7,1673 1207.6,1673 1208.4,1673 1209.2,1673 1210.1,1673 1210.9,1673 1211.7,1673.1 1212.6,1673.1 1213.4,1673.2 1214.2,1673.2 1215.1,1673.3 1215.9,1673.4 1216.8,1673.5 1217.6,1673.6 1218.4,1673.7 1219.3,1673.8 1220.1,1674 1220.9,1674.1 1221.8,1674.3 1222.6,1674.4 1223.4,1674.6 1224.3,1674.8 1225.1,1675 1225.9,1675.2 1226.8,1675.5 1227.6,1675.7 1228.4,1675.9 1229.3,1676.2 1230.1,1676.5 1230.9,1676.8 1231.8,1677.1 1232.6,1677.4 1233.5,1677.7 1234.3,1678.1 1235.1,1678.4 1236,1678.8 1236.8,1679.2 1237.6,1679.6 1238.5,1680 1239.3,1680.4 1240.1,1680.9 1241,1681.3 1241.8,1681.8 1242.6,1682.3 1243.5,1682.8 1244.3,1683.4 1245.1,1683.9 1246,1684.5 1246.8,1685.1 1247.6,1685.7 1248.5,1686.3 1249.3,1686.9 1250.2,1687.6 1251,1688.3 1251.8,1689 1252.7,1689.7 1253.5,1690.4 1254.3,1691.2 1255.2,1692 1256,1692.8 1256.8,1693.6 1257.7,1694.4 1258.5,1695.3 1259.3,1696.2 1260.2,1697.2 1261,1698.1 1261.8,1699.1 1262.7,1700.1 1263.5,1701.1 1264.3,1702.1 1265.2,1703.1 1266,1704.2 1266.8,1705.3 1267.7,1706.4 1268.5,1707.5 1269.4,1708.7 1270.2,1709.8 1271,1711 1271.9,1712.2 1272.7,1713.5 1273.5,1714.7 1274.4,1716 1275.2,1717.2 1276,1718.5 1276.9,1719.9 1277.7,1721.2 1278.5,1722.5 1279.4,1723.9 1280.2,1725.3 1281,1726.7 1281.9,1728 1282.7,1729.4 1283.5,1730.9 1284.4,1732.3 1285.2,1733.7 1286.1,1735.1 1286.9,1736.6 1287.7,1738 1288.6,1739.4 1289.4,1740.9 1290.2,1742.3 1291.1,1743.7 1291.9,1745.1 1292.7,1746.6 1293.6,1748 1294.4,1749.4 1295.2,1750.8 1296.1,1752.2 1296.9,1753.5 1297.7,1754.9 1298.6,1756.2 1299.4,1757.6 1300.2,1758.9 1301.1,1760.2 1301.9,1761.5 1302.8,1762.7 1303.6,1764 1304.4,1765.2 1305.3,1766.4 1306.1,1767.6 1306.9,1768.8 1307.8,1769.9 1308.6,1771 1309.4,1772.1 1310.3,1773.2 1311.1,1774.2 1311.9,1775.3 1312.8,1776.3 1313.6,1777.2 1314.4,1778.2 1315.3,1779.1 1316.1,1780 1317,1780.9 1317.8,1781.8 1318.6,1782.6 1319.5,1783.4 1320.3,1784.2 1321.1,1785 1322,1785.7 1322.8,1786.4 1323.6,1787.1 1324.5,1787.8 1325.3,1788.4 1326.1,1789.1 1327,1789.7 1327.8,1790.3 1328.6,1790.8 1329.5,1791.4 1330.3,1791.9 1331.1,1792.4 1332,1792.9 1332.8,1793.4 1333.7,1793.9 1334.5,1794.3 1335.3,1794.7 1336.2,1795.2 1337,1795.6 1337.8,1795.9 1338.7,1796.3 1339.5,1796.6 1340.3,1797 1341.2,1797.3 1342,1797.6 1342.8,1797.9 1343.7,1798.2 1344.5,1798.5 1345.3,1798.7 1346.2,1799 1347,1799.2 1347.8,1799.4 1348.7,1799.7 1349.5,1799.9 1350.3,1800.1 1351.2,1800.3 1351.2,1810.4 1350.3,1810.7 1349.5,1811 1348.7,1811.2 1347.8,1811.5 1347,1811.7 1346.2,1811.9 1345.3,1812.1 1344.5,1812.3 1343.7,1812.5 1342.8,1812.7 1342,1812.8 1341.2,1813 1340.3,1813.1 1339.5,1813.3 1338.7,1813.4 1337.8,1813.5 1337,1813.6 1336.2,1813.7 1335.3,1813.7 1334.5,1813.8 1333.7,1813.9 1332.8,1813.9 1332,1814 1331.1,1814 1330.3,1814 1329.5,1814 1328.6,1814 1327.8,1814 1327,1814 1326.1,1813.9 1325.3,1813.9 1324.5,1813.8 1323.6,1813.8 1322.8,1813.7 1322,1813.6 1321.1,1813.5 1320.3,1813.4 1319.5,1813.3 1318.6,1813.1 1317.8,1813 1317,1812.9 1316.1,1812.7 1315.3,1812.5 1314.4,1812.3 1313.6,1812.2 1312.8,1811.9 1311.9,1811.7 1311.1,1811.5 1310.3,1811.3 1309.4,1811 1308.6,1810.7 1307.8,1810.5 1306.9,1810.2 1306.1,1809.9 1305.3,1809.5 1304.4,1809.2 1303.6,1808.9 1302.8,1808.5 1301.9,1808.1 1301.1,1807.7 1300.2,1807.3 1299.4,1806.9 1298.6,1806.5 1297.7,1806 1296.9,1805.6 1296.1,1805.1 1295.2,1804.6 1294.4,1804.1 1293.6,1803.6 1292.7,1803 1291.9,1802.4 1291.1,1801.9 1290.2,1801.3 1289.4,1800.6 1288.6,1800 1287.7,1799.3 1286.9,1798.7 1286.1,1798 1285.2,1797.2 1284.4,1796.5 1283.5,1795.7 1282.7,1795 1281.9,1794.1 1281,1793.3 1280.2,1792.5 1279.4,1791.6 1278.5,1790.7 1277.7,1789.8 1276.9,1788.9 1276,1787.9 1275.2,1786.9 1274.4,1785.9 1273.5,1784.9 1272.7,1783.9 1271.9,1782.8 1271,1781.7 1270.2,1780.6 1269.4,1779.5 1268.5,1778.3 1267.7,1777.2 1266.8,1776 1266,1774.8 1265.2,1773.5 1264.3,1772.3 1263.5,1771 1262.7,1769.8 1261.8,1768.5 1261,1767.1 1260.2,1765.8 1259.3,1764.6 1258.5,1763.2 1257.7,1761.8 1256.8,1760.4 1256,1759 1255.2,1757.6 1254.3,1756.2 1253.5,1754.8 1252.7,1753.4 1251.8,1751.9 1251,1750.5 1250.2,1749.1 1249.3,1747.6 1248.5,1746.2 1247.6,1744.8 1246.8,1743.3 1246,1741.9 1245.1,1740.5 1244.3,1739.1 1243.5,1737.6 1242.6,1736.2 1241.8,1734.9 1241,1733.5 1240.1,1732.1 1239.3,1730.8 1238.5,1729.4 1237.6,1728.1 1236.8,1726.8 1236,1725.5 1235.1,1724.2 1234.3,1723 1233.5,1721.8 1232.6,1720.6 1231.8,1719.4 1230.9,1718.2 1230.1,1717.1 1229.3,1715.9 1228.4,1714.8 1227.6,1713.8 1226.8,1712.7 1225.9,1711.7 1225.1,1710.7 1224.3,1709.7 1223.4,1708.8 1222.6,1707.8 1221.8,1706.9 1220.9,1706 1220.1,1705.2 1219.3,1704.3 1218.4,1703.5 1217.6,1702.7 1216.8,1702 1215.9,1701.2 1215.1,1700.5 1214.2,1699.8 1213.4,1699.2 1212.6,1698.5 1211.7,1697.9 1210.9,1697.3 1210.1,1696.7 1209.2,1696.1 1208.4,1695.5 1207.6,1695 1206.7,1694.5 1205.9,1694 1205.1,1693.5 1204.2,1693.1 1203.4,1692.6 1202.6,1692.2 1201.7,1691.8 1200.9,1691.4 1200,1691 1199.2,1690.7 1198.4,1690.3 1197.5,1690 1196.7,1689.6 1195.9,1689.3 1195,1689 1194.2,1688.8 1193.4,1688.5 1192.5,1688.2 1191.7,1688 1190.9,1687.7 1190,1687.5 1189.2,1687.3 1188.4,1687.1 1187.5,1686.9 1186.7,1686.7" fill="#ffa8b7" stroke="#ffa8b7" stroke-width="1.2"/>
<polyline points="1186.7,1676.7 1187.5,1676.4 1188.4,1676.1 1189.2,1675.8 1190,1675.6 1190.9,1675.4 1191.7,1675.1 1192.5,1674.9 1193.4,1674.7 1194.2,1674.5 1195,1674.4 1195.9,1674.2 1196.7,1674.1 1197.5,1673.9 1198.4,1673.8 1199.2,1673.7 1200,1673.5 1200.9,1673.4 1201.7,1673.4 1202.6,1673.3 1203.4,1673.2 1204.2,1673.1 1205.1,1673.1 1205.9,1673.1 1206.7,1673 1207.6,1673 1208.4,1673 1209.2,1673 1210.1,1673 1210.9,1673 1211.7,1673.1 1212.6,1673.1 1213.4,1673.2 1214.2,1673.2 1215.1,1673.3 1215.9,1673.4 1216.8,1673.5 1217.6,1673.6 1218.4,1673.7 1219.3,1673.8 1220.1,1674 1220.9,1674.1 1221.8,1674.3 1222.6,1674.4 1223.4,1674.6 1224.3,1674.8 1225.1,1675 1225.9,1675.2 1226.8,1675.5 1227.6,1675.7 1228.4,1675.9 1229.3,1676.2 1230.1,1676.5 1230.9,1676.8 1231.8,1677.1 1232.6,1677.4 1233.5,1677.7 1234.3,1678.1 1235.1,1678.4 1236,1678.8 1236.8,1679.2 1237.6,1679.6 1238.5,1680 1239.3,1680.4 1240.1,1680.9 1241,1681.3 1241.8,1681.8 1242.6,1682.3 1243.5,1682.8 1244.3,1683.4 1245.1,1683.9 1246,1684.5 1246.8,1685.1 1247.6,1685.7 1248.5,1686.3 1249.3,1686.9 1250.2,1687.6 1251,1688.3 1251.8,1689 1252.7,1689.7 1253.5,1690.4 1254.3,1691.2 1255.2,1692 1256,1692.8 1256.8,1693.6 1257.7,1694.4 1258.5,1695.3 1259.3,1696.2 1260.2,1697.2 1261,1698.1 1261.8,1699.1 1262.7,1700.1 1263.5,1701.1 1264.3,1702.1 1265.2,1703.1 1266,1704.2 1266.8,1705.3 1267.7,1706.4 1268.5,1707.5 1269.4,1708.7 1270.2,1709.8 1271,1711 1271.9,1712.2 1272.7,1713.5 1273.5,1714.7 1274.4,1716 1275.2,1717.2 1276,1718.5 1276.9,1719.9 1277.7,1721.2 1278.5,1722.5 1279.4,1723.9 1280.2,1725.3 1281,1726.7 1281.9,1728 1282.7,1729.4 1283.5,1730.9 1284.4,1732.3 1285.2,1733.7 1286.1,1735.1 1286.9,1736.6 1287.7,1738 1288.6,1739.4 1289.4,1740.9 1290.2,1742.3 1291.1,1743.7 1291.9,1745.1 1292.7,1746.6 1293.6,1748 1294.4,1749.4 1295.2,1750.8 1296.1,1752.2 1296.9,1753.5 1297.7,1754.9 1298.6,1756.2 1299.4,1757.6 1300.2,1758.9 1301.1,1760.2 1301.9,1761.5 1302.8,1762.7 1303.6,1764 1304.4,1765.2 1305.3,1766.4 1306.1,1767.6 1306.9,1768.8 1307.8,1769.9 1308.6,1771 1309.4,1772.1 1310.3,1773.2 1311.1,1774.2 1311.9,1775.3 1312.8,1776.3 1313.6,1777.2 1314.4,1778.2 1315.3,1779.1 1316.1,1780 1317,1780.9 1317.8,1781.8 1318.6,1782.6 1319.5,1783.4 1320.3,1784.2 1321.1,1785 1322,1785.7 1322.8,1786.4 1323.6,1787.1 1324.5,1787.8 1325.3,1788.4 1326.1,1789.1 1327,1789.7 1327.8,1790.3 1328.6,1790.8 1329.5,1791.4 1330.3,1791.9 1331.1,1792.4 1332,1792.9 1332.8,1793.4 1333.7,1793.9 1334.5,1794.3 1335.3,1794.7 1336.2,1795.2 1337,1795.6 1337.8,1795.9 1338.7,1796.3 1339.5,1796.6 1340.3,1797 1341.2,1797.3 1342,1797.6 1342.8,1797.9 1343.7,1798.2 1344.5,1798.5 1345.3,1798.7 1346.2,1799 1347,1799.2 1347.8,1799.4 1348.7,1799.7 1349.5,1799.9 1350.3,1800.1 1351.2,1800.3" fill="none" stroke="#e2243f" stroke-width="3" stroke-linejoin="round"/>
<polyline points="1186.7,1686.7 1187.5,1686.9 1188.4,1687.1 1189.2,1687.3 1190,1687.5 1190.9,1687.7 1191.7,1688 1192.5,1688.2 1193.4,1688.5 1194.2,1688.8 1195,1689 1195.9,1689.3 1196.7,1689.6 1197.5,1690 1198.4,1690.3 1199.2,1690.7 1200,1691 1200.9,1691.4 1201.7,1691.8 1202.6,1692.2 1203.4,1692.6 1204.2,1693.1 1205.1,1693.5 1205.9,1694 1206.7,1694.5 1207.6,1695 1208.4,1695.5 1209.2,1696.1 1210.1,1696.7 1210.9,1697.3 1211.7,1697.9 1212.6,1698.5 1213.4,1699.2 1214.2,1699.8 1215.1,1700.5 1215.9,1701.2 1216.8,1702 1217.6,1702.7 1218.4,1703.5 1219.3,1704.3 1220.1,1705.2 1220.9,1706 1221.8,1706.9 1222.6,1707.8 1223.4,1708.8 1224.3,1709.7 1225.1,1710.7 1225.9,1711.7 1226.8,1712.7 1227.6,1713.8 1228.4,1714.8 1229.3,1715.9 1230.1,1717.1 1230.9,1718.2 1231.8,1719.4 1232.6,1720.6 1233.5,1721.8 1234.3,1723 1235.1,1724.2 1236,1725.5 1236.8,1726.8 1237.6,1728.1 1238.5,1729.4 1239.3,1730.8 1240.1,1732.1 1241,1733.5 1241.8,1734.9 1242.6,1736.2 1243.5,1737.6 1244.3,1739.1 1245.1,1740.5 1246,1741.9 1246.8,1743.3 1247.6,1744.8 1248.5,1746.2 1249.3,1747.6 1250.2,1749.1 1251,1750.5 1251.8,1751.9 1252.7,1753.4 1253.5,1754.8 1254.3,1756.2 1255.2,1757.6 1256,1759 1256.8,1760.4 1257.7,1761.8 1258.5,1763.2 1259.3,1764.6 1260.2,1765.8 1261,1767.1 1261.8,1768.5 1262.7,1769.8 1263.5,1771 1264.3,1772.3 1265.2,1773.5 1266,1774.8 1266.8,1776 1267.7,1777.2 1268.5,1778.3 1269.4,1779.5 1270.2,1780.6 1271,1781.7 1271.9,1782.8 1272.7,1783.9 1273.5,1784.9 1274.4,1785.9 1275.2,1786.9 1276,1787.9 1276.9,1788.9 1277.7,1789.8 1278.5,1790.7 1279.4,1791.6 1280.2,1792.5 1281,1793.3 1281.9,1794.1 1282.7,1795 1283.5,1795.7 1284.4,1796.5 1285.2,1797.2 1286.1,1798 1286.9,1798.7 1287.7,1799.3 1288.6,1800 1289.4,1800.6 1290.2,1801.3 1291.1,1801.9 1291.9,1802.4 1292.7,1803 1293.6,1803.6 1294.4,1804.1 1295.2,1804.6 1296.1,1805.1 1296.9,1805.6 1297.7,1806 1298.6,1806.5 1299.4,1806.9 1300.2,1807.3 1301.1,1807.7 1301.9,1808.1 1302.8,1808.5 1303.6,1808.9 1304.4,1809.2 1305.3,1809.5 1306.1,1809.9 1306.9,1810.2 1307.8,1810.5 1308.6,1810.7 1309.4,1811 1310.3,1811.3 1311.1,1811.5 1311.9,1811.7 1312.8,1811.9 1313.6,1812.2 1314.4,1812.3 1315.3,1812.5 1316.1,1812.7 1317,1812.9 1317.8,1813 1318.6,1813.1 1319.5,1813.3 1320.3,1813.4 1321.1,1813.5 1322,1813.6 1322.8,1813.7 1323.6,1813.8 1324.5,1813.8 1325.3,1813.9 1326.1,1813.9 1327,1814 1327.8,1814 1328.6,1814 1329.5,1814 1330.3,1814 1331.1,1814 1332,1814 1332.8,1813.9 1333.7,1813.9 1334.5,1813.8 1335.3,1813.7 1336.2,1813.7 1337,1813.6 1337.8,1813.5 1338.7,1813.4 1339.5,1813.3 1340.3,1813.1 1341.2,1813 1342,1812.8 1342.8,1812.7 1343.7,1812.5 1344.5,1812.3 1345.3,1812.1 1346.2,1811.9 1347,1811.7 1347.8,1811.5 1348.7,1811.2 1349.5,1811 1350.3,1810.7 1351.2,1810.4" fill="none" stroke="#e2243f" stroke-width="3" stroke-linejoin="round"/>
<polygon points="1517.3,1676.5 1518.2,1676.2 1519,1675.9 1519.9,1675.7 1520.7,1675.5 1521.5,1675.2 1522.4,1675 1523.2,1674.8 1524,1674.6 1524.9,1674.4 1525.7,1674.3 1526.5,1674.1 1527.4,1674 1528.2,1673.8 1529,1673.7 1529.9,1673.6 1530.7,1673.5 1531.5,1673.4 1532.4,1673.3 1533.2,1673.2 1534,1673.2 1534.9,1673.1 1535.7,1673.1 1536.6,1673 1537.4,1673 1538.2,1673 1539.1,1673 1539.9,1673 1540.7,1673 1541.6,1673 1542.4,1673.1 1543.2,1673.1 1544.1,1673.2 1544.9,1673.2 1545.7,1673.3 1546.6,1673.4 1547.4,1673.5 1548.2,1673.6 1549.1,1673.7 1549.9,1673.9 1550.8,1674 1551.6,1674.1 1552.4,1674.3 1553.3,1674.5 1554.1,1674.7 1554.9,1674.9 1555.8,1675.1 1556.6,1675.3 1557.4,1675.5 1558.3,1675.7 1559.1,1676 1559.9,1676.3 1560.8,1676.5 1561.6,1676.8 1562.4,1677.1 1563.3,1677.4 1564.1,1677.8 1564.9,1678.1 1565.8,1678.5 1566.6,1678.8 1567.5,1679.2 1568.3,1679.6 1569.1,1680 1570,1680.5 1570.8,1680.9 1571.6,1681.4 1572.5,1681.8 1573.3,1682.3 1574.1,1682.8 1575,1683.4 1575.8,1683.9 1576.6,1684.5 1577.5,1685.1 1578.3,1685.6 1579.1,1686.3 1580,1686.9 1580.8,1687.6 1581.6,1688.2 1582.5,1688.9 1583.3,1689.6 1584.2,1690.4 1585,1691.1 1585.8,1691.9 1586.7,1692.7 1587.5,1693.5 1588.3,1694.3 1589.2,1695.2 1590,1696.1 1590.8,1696.9 1591.7,1697.7 1592.5,1698.7 1593.3,1699.7 1594.2,1700.6 1595,1701.7 1595.8,1702.7 1596.7,1703.7 1597.5,1704.8 1598.3,1705.9 1599.2,1707 1600,1708.2 1600.8,1709.3 1601.7,1710.5 1602.5,1711.7 1603.4,1712.9 1604.2,1714.2 1605,1715.4 1605.9,1716.7 1606.7,1718 1607.5,1719.3 1608.4,1720.7 1609.2,1722 1610,1723.3 1610.9,1724.7 1611.7,1726.1 1612.5,1727.5 1613.4,1728.9 1614.2,1730.3 1615,1731.7 1615.9,1733.1 1616.7,1734.5 1617.5,1736 1618.4,1737.4 1619.2,1738.8 1620.1,1740.3 1620.9,1741.7 1621.7,1743.1 1622.6,1744.6 1623.4,1746 1624.2,1747.4 1625.1,1748.8 1625.9,1750.2 1626.7,1751.6 1627.6,1753 1628.4,1754.3 1629.2,1755.7 1630.1,1757 1630.9,1758.4 1631.7,1759.7 1632.6,1761 1633.4,1762.2 1634.2,1763.5 1635.1,1764.7 1635.9,1765.9 1636.8,1767.1 1637.6,1768.3 1638.4,1769.4 1639.3,1770.6 1640.1,1771.7 1640.9,1772.8 1641.8,1773.8 1642.6,1774.8 1643.4,1775.9 1644.3,1776.8 1645.1,1777.8 1645.9,1778.7 1646.8,1779.7 1647.6,1780.6 1648.4,1781.4 1649.3,1782.3 1650.1,1783.1 1651,1783.9 1651.8,1784.7 1652.6,1785.4 1653.5,1786.1 1654.3,1786.8 1655.1,1787.5 1656,1788.2 1656.8,1788.8 1657.6,1789.4 1658.5,1790 1659.3,1790.6 1660.1,1791.2 1661,1791.7 1661.8,1792.2 1662.6,1792.7 1663.5,1793.2 1664.3,1793.7 1665.1,1794.1 1666,1794.6 1666.8,1795 1667.7,1795.4 1668.5,1795.8 1669.3,1796.1 1670.2,1796.5 1671,1796.8 1671.8,1797.2 1672.7,1797.5 1673.5,1797.8 1674.3,1798.1 1675.2,1798.4 1676,1798.6 1676.8,1798.9 1677.7,1799.1 1678.5,1799.4 1679.3,1799.6 1680.2,1799.8 1681,1800 1681.8,1800.2 1681.8,1810.5 1681,1810.8 1680.2,1811.1 1679.3,1811.3 1678.5,1811.6 1677.7,1811.8 1676.8,1812 1676,1812.2 1675.2,1812.4 1674.3,1812.6 1673.5,1812.8 1672.7,1812.9 1671.8,1813.1 1671,1813.2 1670.2,1813.3 1669.3,1813.4 1668.5,1813.5 1667.7,1813.6 1666.8,1813.7 1666,1813.8 1665.1,1813.8 1664.3,1813.9 1663.5,1813.9 1662.6,1814 1661.8,1814 1661,1814 1660.1,1814 1659.3,1814 1658.5,1814 1657.6,1813.9 1656.8,1813.9 1656,1813.9 1655.1,1813.8 1654.3,1813.7 1653.5,1813.6 1652.6,1813.6 1651.8,1813.5 1651,1813.3 1650.1,1813.2 1649.3,1813.1 1648.4,1812.9 1647.6,1812.8 1646.8,1812.6 1645.9,1812.5 1645.1,1812.3 1644.3,1812.1 1643.4,1811.9 1642.6,1811.6 1641.8,1811.4 1640.9,1811.2 1640.1,1810.9 1639.3,1810.6 1638.4,1810.3 1637.6,1810 1636.8,1809.7 1635.9,1809.4 1635.1,1809.1 1634.2,1808.7 1633.4,1808.4 1632.6,1808 1631.7,1807.6 1630.9,1807.2 1630.1,1806.8 1629.2,1806.3 1628.4,1805.9 1627.6,1805.4 1626.7,1804.9 1625.9,1804.4 1625.1,1803.9 1624.2,1803.3 1623.4,1802.8 1622.6,1802.2 1621.7,1801.6 1620.9,1801 1620.1,1800.4 1619.2,1799.7 1618.4,1799.1 1617.5,1798.4 1616.7,1797.7 1615.9,1796.9 1615,1796.2 1614.2,1795.4 1613.4,1794.6 1612.5,1793.8 1611.7,1793 1610.9,1792.1 1610,1791.3 1609.2,1790.4 1608.4,1789.4 1607.5,1788.5 1606.7,1787.5 1605.9,1786.5 1605,1785.5 1604.2,1784.5 1603.4,1783.5 1602.5,1782.4 1601.7,1781.3 1600.8,1780.2 1600,1779 1599.2,1777.9 1598.3,1776.7 1597.5,1775.5 1596.7,1774.3 1595.8,1773 1595,1771.8 1594.2,1770.5 1593.3,1769.2 1592.5,1767.9 1591.7,1766.6 1590.8,1765.1 1590,1763.7 1589.2,1762.3 1588.3,1761 1587.5,1759.6 1586.7,1758.2 1585.8,1756.8 1585,1755.4 1584.2,1754 1583.3,1752.6 1582.5,1751.2 1581.6,1749.7 1580.8,1748.3 1580,1746.9 1579.1,1745.5 1578.3,1744 1577.5,1742.6 1576.6,1741.2 1575.8,1739.8 1575,1738.4 1574.1,1737 1573.3,1735.6 1572.5,1734.2 1571.6,1732.9 1570.8,1731.5 1570,1730.2 1569.1,1728.9 1568.3,1727.6 1567.5,1726.3 1566.6,1725 1565.8,1723.8 1564.9,1722.5 1564.1,1721.3 1563.3,1720.1 1562.4,1719 1561.6,1717.8 1560.8,1716.7 1559.9,1715.6 1559.1,1714.5 1558.3,1713.5 1557.4,1712.4 1556.6,1711.4 1555.8,1710.4 1554.9,1709.5 1554.1,1708.5 1553.3,1707.6 1552.4,1706.7 1551.6,1705.8 1550.8,1705 1549.9,1704.2 1549.1,1703.4 1548.2,1702.6 1547.4,1701.9 1546.6,1701.1 1545.7,1700.4 1544.9,1699.7 1544.1,1699.1 1543.2,1698.4 1542.4,1697.8 1541.6,1697.2 1540.7,1696.6 1539.9,1696 1539.1,1695.5 1538.2,1695 1537.4,1694.5 1536.6,1694 1535.7,1693.5 1534.9,1693.1 1534,1692.6 1533.2,1692.2 1532.4,1691.8 1531.5,1691.4 1530.7,1691 1529.9,1690.7 1529,1690.3 1528.2,1690 1527.4,1689.7 1526.5,1689.4 1525.7,1689.1 1524.9,1688.8 1524,1688.5 1523.2,1688.2 1522.4,1688 1521.5,1687.8 1520.7,1687.5 1519.9,1687.3 1519,1687.1 1518.2,1686.9 1517.3,1686.7" fill="#ffa8b7" stroke="#ffa8b7" stroke-width="1.2"/>
<polyline points="1517.3,1676.5 1518.2,1676.2 1519,1675.9 1519.9,1675.7 1520.7,1675.5 1521.5,1675.2 1522.4,1675 1523.2,1674.8 1524,1674.6 1524.9,1674.4 1525.7,1674.3 1526.5,1674.1 1527.4,1674 1528.2,1673.8 1529,1673.7 1529.9,1673.6 1530.7,1673.5 1531.5,1673.4 1532.4,1673.3 1533.2,1673.2 1534,1673.2 1534.9,1673.1 1535.7,1673.1 1536.6,1673 1537.4,1673 1538.2,1673 1539.1,1673 1539.9,1673 1540.7,1673 1541.6,1673 1542.4,1673.1 1543.2,1673.1 1544.1,1673.2 1544.9,1673.2 1545.7,1673.3 1546.6,1673.4 1547.4,1673.5 1548.2,1673.6 1549.1,1673.7 1549.9,1673.9 1550.8,1674 1551.6,1674.1 1552.4,1674.3 1553.3,1674.5 1554.1,1674.7 1554.9,1674.9 1555.8,1675.1 1556.6,1675.3 1557.4,1675.5 1558.3,1675.7 1559.1,1676 1559.9,1676.3 1560.8,1676.5 1561.6,1676.8 1562.4,1677.1 1563.3,1677.4 1564.1,1677.8 1564.9,1678.1 1565.8,1678.5 1566.6,1678.8 1567.5,1679.2 1568.3,1679.6 1569.1,1680 1570,1680.5 1570.8,1680.9 1571.6,1681.4 1572.5,1681.8 1573.3,1682.3 1574.1,1682.8 1575,1683.4 1575.8,1683.9 1576.6,1684.5 1577.5,1685.1 1578.3,1685.6 1579.1,1686.3 1580,1686.9 1580.8,1687.6 1581.6,1688.2 1582.5,1688.9 1583.3,1689.6 1584.2,1690.4 1585,1691.1 1585.8,1691.9 1586.7,1692.7 1587.5,1693.5 1588.3,1694.3 1589.2,1695.2 1590,1696.1 1590.8,1696.9 1591.7,1697.7 1592.5,1698.7 1593.3,1699.7 1594.2,1700.6 1595,1701.7 1595.8,1702.7 1596.7,1703.7 1597.5,1704.8 1598.3,1705.9 1599.2,1707 1600,1708.2 1600.8,1709.3 1601.7,1710.5 1602.5,1711.7 1603.4,1712.9 1604.2,1714.2 1605,1715.4 1605.9,1716.7 1606.7,1718 1607.5,1719.3 1608.4,1720.7 1609.2,1722 1610,1723.3 1610.9,1724.7 1611.7,1726.1 1612.5,1727.5 1613.4,1728.9 1614.2,1730.3 1615,1731.7 1615.9,1733.1 1616.7,1734.5 1617.5,1736 1618.4,1737.4 1619.2,1738.8 1620.1,1740.3 1620.9,1741.7 1621.7,1743.1 1622.6,1744.6 1623.4,1746 1624.2,1747.4 1625.1,1748.8 1625.9,1750.2 1626.7,1751.6 1627.6,1753 1628.4,1754.3 1629.2,1755.7 1630.1,1757 1630.9,1758.4 1631.7,1759.7 1632.6,1761 1633.4,1762.2 1634.2,1763.5 1635.1,1764.7 1635.9,1765.9 1636.8,1767.1 1637.6,1768.3 1638.4,1769.4 1639.3,1770.6 1640.1,1771.7 1640.9,1772.8 1641.8,1773.8 1642.6,1774.8 1643.4,1775.9 1644.3,1776.8 1645.1,1777.8 1645.9,1778.7 1646.8,1779.7 1647.6,1780.6 1648.4,1781.4 1649.3,1782.3 1650.1,1783.1 1651,1783.9 1651.8,1784.7 1652.6,1785.4 1653.5,1786.1 1654.3,1786.8 1655.1,1787.5 1656,1788.2 1656.8,1788.8 1657.6,1789.4 1658.5,1790 1659.3,1790.6 1660.1,1791.2 1661,1791.7 1661.8,1792.2 1662.6,1792.7 1663.5,1793.2 1664.3,1793.7 1665.1,1794.1 1666,1794.6 1666.8,1795 1667.7,1795.4 1668.5,1795.8 1669.3,1796.1 1670.2,1796.5 1671,1796.8 1671.8,1797.2 1672.7,1797.5 1673.5,1797.8 1674.3,1798.1 1675.2,1798.4 1676,1798.6 1676.8,1798.9 1677.7,1799.1 1678.5,1799.4 1679.3,1799.6 1680.2,1799.8 1681,1800 1681.8,1800.2" fill="none" stroke="#e2243f" stroke-width="3" stroke-linejoin="round"/>
<polyline points="1517.3,1686.7 1518.2,1686.9 1519,1687.1 1519.9,1687.3 1520.7,1687.5 1521.5,1687.8 1522.4,1688 1523.2,1688.2 1524,1688.5 1524.9,1688.8 1525.7,1689.1 1526.5,1689.4 1527.4,1689.7 1528.2,1690 1529,1690.3 1529.9,1690.7 1530.7,1691 1531.5,1691.4 1532.4,1691.8 1533.2,1692.2 1534,1692.6 1534.9,1693.1 1535.7,1693.5 1536.6,1694 1537.4,1694.5 1538.2,1695 1539.1,1695.5 1539.9,1696 1540.7,1696.6 1541.6,1697.2 1542.4,1697.8 1543.2,1698.4 1544.1,1699.1 1544.9,1699.7 1545.7,1700.4 1546.6,1701.1 1547.4,1701.9 1548.2,1702.6 1549.1,1703.4 1549.9,1704.2 1550.8,1705 1551.6,1705.8 1552.4,1706.7 1553.3,1707.6 1554.1,1708.5 1554.9,1709.5 1555.8,1710.4 1556.6,1711.4 1557.4,1712.4 1558.3,1713.5 1559.1,1714.5 1559.9,1715.6 1560.8,1716.7 1561.6,1717.8 1562.4,1719 1563.3,1720.1 1564.1,1721.3 1564.9,1722.5 1565.8,1723.8 1566.6,1725 1567.5,1726.3 1568.3,1727.6 1569.1,1728.9 1570,1730.2 1570.8,1731.5 1571.6,1732.9 1572.5,1734.2 1573.3,1735.6 1574.1,1737 1575,1738.4 1575.8,1739.8 1576.6,1741.2 1577.5,1742.6 1578.3,1744 1579.1,1745.5 1580,1746.9 1580.8,1748.3 1581.6,1749.7 1582.5,1751.2 1583.3,1752.6 1584.2,1754 1585,1755.4 1585.8,1756.8 1586.7,1758.2 1587.5,1759.6 1588.3,1761 1589.2,1762.3 1590,1763.7 1590.8,1765.1 1591.7,1766.6 1592.5,1767.9 1593.3,1769.2 1594.2,1770.5 1595,1771.8 1595.8,1773 1596.7,1774.3 1597.5,1775.5 1598.3,1776.7 1599.2,1777.9 1600,1779 1600.8,1780.2 1601.7,1781.3 1602.5,1782.4 1603.4,1783.5 1604.2,1784.5 1605,1785.5 1605.9,1786.5 1606.7,1787.5 1607.5,1788.5 1608.4,1789.4 1609.2,1790.4 1610,1791.3 1610.9,1792.1 1611.7,1793 1612.5,1793.8 1613.4,1794.6 1614.2,1795.4 1615,1796.2 1615.9,1796.9 1616.7,1797.7 1617.5,1798.4 1618.4,1799.1 1619.2,1799.7 1620.1,1800.4 1620.9,1801 1621.7,1801.6 1622.6,1802.2 1623.4,1802.8 1624.2,1803.3 1625.1,1803.9 1625.9,1804.4 1626.7,1804.9 1627.6,1805.4 1628.4,1805.9 1629.2,1806.3 1630.1,1806.8 1630.9,1807.2 1631.7,1807.6 1632.6,1808 1633.4,1808.4 1634.2,1808.7 1635.1,1809.1 1635.9,1809.4 1636.8,1809.7 1637.6,1810 1638.4,1810.3 1639.3,1810.6 1640.1,1810.9 1640.9,1811.2 1641.8,1811.4 1642.6,1811.6 1643.4,1811.9 1644.3,1812.1 1645.1,1812.3 1645.9,1812.5 1646.8,1812.6 1647.6,1812.8 1648.4,1812.9 1649.3,1813.1 1650.1,1813.2 1651,1813.3 1651.8,1813.5 1652.6,1813.6 1653.5,1813.6 1654.3,1813.7 1655.1,1813.8 1656,1813.9 1656.8,1813.9 1657.6,1813.9 1658.5,1814 1659.3,1814 1660.1,1814 1661,1814 1661.8,1814 1662.6,1814 1663.5,1813.9 1664.3,1813.9 1665.1,1813.8 1666,1813.8 1666.8,1813.7 1667.7,1813.6 1668.5,1813.5 1669.3,1813.4 1670.2,1813.3 1671,1813.2 1671.8,1813.1 1672.7,1812.9 1673.5,1812.8 1674.3,1812.6 1675.2,1812.4 1676,1812.2 1676.8,1812 1677.7,1811.8 1678.5,1811.6 1679.3,1811.3 1680.2,1811.1 1681,1810.8 1681.8,1810.5" fill="none" stroke="#e2243f" stroke-width="3" stroke-linejoin="round"/>
<polygon points="1853.9,1676 1854.7,1675.8 1855.5,1675.6 1856.4,1675.3 1857.2,1675.1 1858,1674.9 1858.9,1674.8 1859.7,1674.6 1860.5,1674.4 1861.4,1674.2 1862.2,1674.1 1863,1674 1863.9,1673.8 1864.7,1673.7 1865.5,1673.6 1866.4,1673.5 1867.2,1673.4 1868,1673.3 1868.9,1673.3 1869.7,1673.2 1870.6,1673.1 1871.4,1673.1 1872.2,1673.1 1873.1,1673 1873.9,1673 1874.7,1673 1875.6,1673 1876.4,1673 1877.2,1673 1878.1,1673.1 1878.9,1673.1 1879.7,1673.1 1880.6,1673.2 1881.4,1673.2 1882.2,1673.3 1883.1,1673.4 1883.9,1673.5 1884.8,1673.6 1885.6,1673.7 1886.4,1673.8 1887.3,1673.9 1888.1,1674.1 1888.9,1674.2 1889.8,1674.4 1890.6,1674.5 1891.4,1674.7 1892.3,1674.9 1893.1,1675.1 1893.9,1675.3 1894.8,1675.5 1895.6,1675.7 1896.4,1676 1897.3,1676.2 1898.1,1676.5 1898.9,1676.7 1899.8,1677 1900.6,1677.3 1901.5,1677.6 1902.3,1677.9 1903.1,1678.3 1904,1678.6 1904.8,1679 1905.6,1679.3 1906.5,1679.7 1907.3,1680.1 1908.1,1680.5 1909,1681 1909.8,1681.4 1910.6,1681.8 1911.5,1682.3 1912.3,1682.8 1913.1,1683.3 1914,1683.8 1914.8,1684.3 1915.6,1684.9 1916.5,1685.4 1917.3,1686 1918.2,1686.6 1919,1687.2 1919.8,1687.8 1920.7,1688.5 1921.5,1689.1 1922.3,1689.8 1923.2,1690.5 1924,1691.2 1924.8,1691.9 1925.7,1692.7 1926.5,1693.5 1927.3,1694.3 1928.2,1695.1 1929,1695.9 1929.8,1696.7 1930.7,1697.6 1931.5,1698.5 1932.3,1699.4 1933.2,1700.3 1934,1701.3 1934.8,1702.2 1935.7,1703.2 1936.5,1704.2 1937.4,1705.2 1938.2,1706.3 1939,1707.3 1939.9,1708.4 1940.7,1709.5 1941.5,1710.6 1942.4,1711.7 1943.2,1712.9 1944,1714.1 1944.9,1715.2 1945.7,1716.4 1946.5,1717.6 1947.4,1718.9 1948.2,1720.1 1949,1721.4 1949.9,1722.6 1950.7,1723.9 1951.5,1725.2 1952.4,1726.5 1953.2,1727.8 1954.1,1729.1 1954.9,1730.4 1955.7,1731.8 1956.6,1733.1 1957.4,1734.5 1958.2,1735.8 1959.1,1737.1 1959.9,1738.5 1960.7,1739.8 1961.6,1741.2 1962.4,1742.5 1963.2,1743.9 1964.1,1745.2 1964.9,1746.5 1965.7,1747.9 1966.6,1749.2 1967.4,1750.5 1968.2,1751.8 1969.1,1753.1 1969.9,1754.4 1970.8,1755.7 1971.6,1756.9 1972.4,1758.2 1973.3,1759.4 1974.1,1760.6 1974.9,1761.8 1975.8,1763 1976.6,1764.2 1977.4,1765.3 1978.3,1766.5 1979.1,1767.6 1979.9,1768.7 1980.8,1769.7 1981.6,1770.8 1982.4,1771.8 1983.3,1772.8 1984.1,1773.8 1985,1774.8 1985.8,1775.8 1986.6,1776.7 1987.5,1777.6 1988.3,1778.5 1989.1,1779.4 1990,1780.2 1990.8,1781 1991.6,1781.8 1992.5,1782.6 1993.3,1783.4 1994.1,1784.1 1995,1784.8 1995.8,1785.5 1996.6,1786.2 1997.5,1786.9 1998.3,1787.5 1999.1,1788.1 2000,1788.7 2000.8,1789.3 2001.7,1789.9 2002.5,1790.4 2003.3,1791 2004.2,1791.5 2005,1792 2005.8,1792.5 2006.7,1792.9 2007.5,1793.4 2008.3,1793.8 2009.2,1794.2 2010,1794.6 2010,1813.9 2009.2,1814 2008.3,1814 2007.5,1814 2006.7,1814 2005.8,1814 2005,1814 2004.2,1814 2003.3,1813.9 2002.5,1813.9 2001.7,1813.8 2000.8,1813.8 2000,1813.7 1999.1,1813.6 1998.3,1813.5 1997.5,1813.4 1996.6,1813.3 1995.8,1813.2 1995,1813.1 1994.1,1813 1993.3,1812.8 1992.5,1812.7 1991.6,1812.5 1990.8,1812.3 1990,1812.2 1989.1,1812 1988.3,1811.8 1987.5,1811.6 1986.6,1811.3 1985.8,1811.1 1985,1810.8 1984.1,1810.6 1983.3,1810.3 1982.4,1810 1981.6,1809.8 1980.8,1809.4 1979.9,1809.1 1979.1,1808.8 1978.3,1808.5 1977.4,1808.1 1976.6,1807.7 1975.8,1807.4 1974.9,1807 1974.1,1806.6 1973.3,1806.2 1972.4,1805.7 1971.6,1805.3 1970.8,1804.8 1969.9,1804.3 1969.1,1803.8 1968.2,1803.3 1967.4,1802.8 1966.6,1802.3 1965.7,1801.7 1964.9,1801.2 1964.1,1800.6 1963.2,1800 1962.4,1799.3 1961.6,1798.7 1960.7,1798 1959.9,1797.4 1959.1,1796.7 1958.2,1796 1957.4,1795.2 1956.6,1794.5 1955.7,1793.7 1954.9,1793 1954.1,1792.1 1953.2,1791.3 1952.4,1790.5 1951.5,1789.6 1950.7,1788.7 1949.9,1787.8 1949,1786.9 1948.2,1786 1947.4,1785 1946.5,1784 1945.7,1783.1 1944.9,1782 1944,1781 1943.2,1779.9 1942.4,1778.9 1941.5,1777.8 1940.7,1776.7 1939.9,1775.5 1939,1774.4 1938.2,1773.2 1937.4,1772.1 1936.5,1770.9 1935.7,1769.7 1934.8,1768.4 1934,1767.2 1933.2,1766 1932.3,1764.7 1931.5,1763.4 1930.7,1762.1 1929.8,1760.8 1929,1759.5 1928.2,1758.2 1927.3,1756.9 1926.5,1755.6 1925.7,1754.2 1924.8,1752.9 1924,1751.5 1923.2,1750.2 1922.3,1748.9 1921.5,1747.5 1920.7,1746.2 1919.8,1744.8 1919,1743.5 1918.2,1742.1 1917.3,1740.8 1916.5,1739.5 1915.6,1738.1 1914.8,1736.8 1914,1735.5 1913.1,1734.2 1912.3,1732.9 1911.5,1731.7 1910.6,1730.4 1909.8,1729.1 1909,1727.9 1908.1,1726.7 1907.3,1725.5 1906.5,1724.3 1905.6,1723.1 1904.8,1722 1904,1720.8 1903.1,1719.7 1902.3,1718.6 1901.5,1717.5 1900.6,1716.5 1899.8,1715.4 1898.9,1714.4 1898.1,1713.4 1897.3,1712.4 1896.4,1711.5 1895.6,1710.5 1894.8,1709.6 1893.9,1708.7 1893.1,1707.9 1892.3,1707 1891.4,1706.2 1890.6,1705.4 1889.8,1704.6 1888.9,1703.8 1888.1,1703.1 1887.3,1702.3 1886.4,1701.6 1885.6,1701 1884.8,1700.3 1883.9,1699.6 1883.1,1699 1882.2,1698.4 1881.4,1697.8 1880.6,1697.2 1879.7,1696.7 1878.9,1696.2 1878.1,1695.6 1877.2,1695.1 1876.4,1694.6 1875.6,1694.2 1874.7,1693.7 1873.9,1693.3 1873.1,1692.9 1872.2,1692.5 1871.4,1692.1 1870.6,1691.7 1869.7,1691.3 1868.9,1691 1868,1690.6 1867.2,1690.3 1866.4,1690 1865.5,1689.7 1864.7,1689.4 1863.9,1689.1 1863,1688.8 1862.2,1688.6 1861.4,1688.3 1860.5,1688.1 1859.7,1687.9 1858.9,1687.6 1858,1687.4 1857.2,1687.2 1856.4,1687 1855.5,1686.9 1854.7,1686.7 1853.9,1686.5" fill="#ffa8b7" stroke="#ffa8b7" stroke-width="1.2"/>
<polyline points="1853.9,1676 1854.7,1675.8 1855.5,1675.6 1856.4,1675.3 1857.2,1675.1 1858,1674.9 1858.9,1674.8 1859.7,1674.6 1860.5,1674.4 1861.4,1674.2 1862.2,1674.1 1863,1674 1863.9,1673.8 1864.7,1673.7 1865.5,1673.6 1866.4,1673.5 1867.2,1673.4 1868,1673.3 1868.9,1673.3 1869.7,1673.2 1870.6,1673.1 1871.4,1673.1 1872.2,1673.1 1873.1,1673 1873.9,1673 1874.7,1673 1875.6,1673 1876.4,1673 1877.2,1673 1878.1,1673.1 1878.9,1673.1 1879.7,1673.1 1880.6,1673.2 1881.4,1673.2 1882.2,1673.3 1883.1,1673.4 1883.9,1673.5 1884.8,1673.6 1885.6,1673.7 1886.4,1673.8 1887.3,1673.9 1888.1,1674.1 1888.9,1674.2 1889.8,1674.4 1890.6,1674.5 1891.4,1674.7 1892.3,1674.9 1893.1,1675.1 1893.9,1675.3 1894.8,1675.5 1895.6,1675.7 1896.4,1676 1897.3,1676.2 1898.1,1676.5 1898.9,1676.7 1899.8,1677 1900.6,1677.3 1901.5,1677.6 1902.3,1677.9 1903.1,1678.3 1904,1678.6 1904.8,1679 1905.6,1679.3 1906.5,1679.7 1907.3,1680.1 1908.1,1680.5 1909,1681 1909.8,1681.4 1910.6,1681.8 1911.5,1682.3 1912.3,1682.8 1913.1,1683.3 1914,1683.8 1914.8,1684.3 1915.6,1684.9 1916.5,1685.4 1917.3,1686 1918.2,1686.6 1919,1687.2 1919.8,1687.8 1920.7,1688.5 1921.5,1689.1 1922.3,1689.8 1923.2,1690.5 1924,1691.2 1924.8,1691.9 1925.7,1692.7 1926.5,1693.5 1927.3,1694.3 1928.2,1695.1 1929,1695.9 1929.8,1696.7 1930.7,1697.6 1931.5,1698.5 1932.3,1699.4 1933.2,1700.3 1934,1701.3 1934.8,1702.2 1935.7,1703.2 1936.5,1704.2 1937.4,1705.2 1938.2,1706.3 1939,1707.3 1939.9,1708.4 1940.7,1709.5 1941.5,1710.6 1942.4,1711.7 1943.2,1712.9 1944,1714.1 1944.9,1715.2 1945.7,1716.4 1946.5,1717.6 1947.4,1718.9 1948.2,1720.1 1949,1721.4 1949.9,1722.6 1950.7,1723.9 1951.5,1725.2 1952.4,1726.5 1953.2,1727.8 1954.1,1729.1 1954.9,1730.4 1955.7,1731.8 1956.6,1733.1 1957.4,1734.5 1958.2,1735.8 1959.1,1737.1 1959.9,1738.5 1960.7,1739.8 1961.6,1741.2 1962.4,1742.5 1963.2,1743.9 1964.1,1745.2 1964.9,1746.5 1965.7,1747.9 1966.6,1749.2 1967.4,1750.5 1968.2,1751.8 1969.1,1753.1 1969.9,1754.4 1970.8,1755.7 1971.6,1756.9 1972.4,1758.2 1973.3,1759.4 1974.1,1760.6 1974.9,1761.8 1975.8,1763 1976.6,1764.2 1977.4,1765.3 1978.3,1766.5 1979.1,1767.6 1979.9,1768.7 1980.8,1769.7 1981.6,1770.8 1982.4,1771.8 1983.3,1772.8 1984.1,1773.8 1985,1774.8 1985.8,1775.8 1986.6,1776.7 1987.5,1777.6 1988.3,1778.5 1989.1,1779.4 1990,1780.2 1990.8,1781 1991.6,1781.8 1992.5,1782.6 1993.3,1783.4 1994.1,1784.1 1995,1784.8 1995.8,1785.5 1996.6,1786.2 1997.5,1786.9 1998.3,1787.5 1999.1,1788.1 2000,1788.7 2000.8,1789.3 2001.7,1789.9 2002.5,1790.4 2003.3,1791 2004.2,1791.5 2005,1792 2005.8,1792.5 2006.7,1792.9 2007.5,1793.4 2008.3,1793.8 2009.2,1794.2 2010,1794.6" fill="none" stroke="#e2243f" stroke-width="3" stroke-linejoin="round"/>
<polyline points="1853.9,1686.5 1854.7,1686.7 1855.5,1686.9 1856.4,1687 1857.2,1687.2 1858,1687.4 1858.9,1687.6 1859.7,1687.9 1860.5,1688.1 1861.4,1688.3 1862.2,1688.6 1863,1688.8 1863.9,1689.1 1864.7,1689.4 1865.5,1689.7 1866.4,1690 1867.2,1690.3 1868,1690.6 1868.9,1691 1869.7,1691.3 1870.6,1691.7 1871.4,1692.1 1872.2,1692.5 1873.1,1692.9 1873.9,1693.3 1874.7,1693.7 1875.6,1694.2 1876.4,1694.6 1877.2,1695.1 1878.1,1695.6 1878.9,1696.2 1879.7,1696.7 1880.6,1697.2 1881.4,1697.8 1882.2,1698.4 1883.1,1699 1883.9,1699.6 1884.8,1700.3 1885.6,1701 1886.4,1701.6 1887.3,1702.3 1888.1,1703.1 1888.9,1703.8 1889.8,1704.6 1890.6,1705.4 1891.4,1706.2 1892.3,1707 1893.1,1707.9 1893.9,1708.7 1894.8,1709.6 1895.6,1710.5 1896.4,1711.5 1897.3,1712.4 1898.1,1713.4 1898.9,1714.4 1899.8,1715.4 1900.6,1716.5 1901.5,1717.5 1902.3,1718.6 1903.1,1719.7 1904,1720.8 1904.8,1722 1905.6,1723.1 1906.5,1724.3 1907.3,1725.5 1908.1,1726.7 1909,1727.9 1909.8,1729.1 1910.6,1730.4 1911.5,1731.7 1912.3,1732.9 1913.1,1734.2 1914,1735.5 1914.8,1736.8 1915.6,1738.1 1916.5,1739.5 1917.3,1740.8 1918.2,1742.1 1919,1743.5 1919.8,1744.8 1920.7,1746.2 1921.5,1747.5 1922.3,1748.9 1923.2,1750.2 1924,1751.5 1924.8,1752.9 1925.7,1754.2 1926.5,1755.6 1927.3,1756.9 1928.2,1758.2 1929,1759.5 1929.8,1760.8 1930.7,1762.1 1931.5,1763.4 1932.3,1764.7 1933.2,1766 1934,1767.2 1934.8,1768.4 1935.7,1769.7 1936.5,1770.9 1937.4,1772.1 1938.2,1773.2 1939,1774.4 1939.9,1775.5 1940.7,1776.7 1941.5,1777.8 1942.4,1778.9 1943.2,1779.9 1944,1781 1944.9,1782 1945.7,1783.1 1946.5,1784 1947.4,1785 1948.2,1786 1949,1786.9 1949.9,1787.8 1950.7,1788.7 1951.5,1789.6 1952.4,1790.5 1953.2,1791.3 1954.1,1792.1 1954.9,1793 1955.7,1793.7 1956.6,1794.5 1957.4,1795.2 1958.2,1796 1959.1,1796.7 1959.9,1797.4 1960.7,1798 1961.6,1798.7 1962.4,1799.3 1963.2,1800 1964.1,1800.6 1964.9,1801.2 1965.7,1801.7 1966.6,1802.3 1967.4,1802.8 1968.2,1803.3 1969.1,1803.8 1969.9,1804.3 1970.8,1804.8 1971.6,1805.3 1972.4,1805.7 1973.3,1806.2 1974.1,1806.6 1974.9,1807 1975.8,1807.4 1976.6,1807.7 1977.4,1808.1 1978.3,1808.5 1979.1,1808.8 1979.9,1809.1 1980.8,1809.4 1981.6,1809.8 1982.4,1810 1983.3,1810.3 1984.1,1810.6 1985,1810.8 1985.8,1811.1 1986.6,1811.3 1987.5,1811.6 1988.3,1811.8 1989.1,1812 1990,1812.2 1990.8,1812.3 1991.6,1812.5 1992.5,1812.7 1993.3,1812.8 1994.1,1813 1995,1813.1 1995.8,1813.2 1996.6,1813.3 1997.5,1813.4 1998.3,1813.5 1999.1,1813.6 2000,1813.7 2000.8,1813.8 2001.7,1813.8 2002.5,1813.9 2003.3,1813.9 2004.2,1814 2005,1814 2005.8,1814 2006.7,1814 2007.5,1814 2008.3,1814 2009.2,1814 2010,1813.9" fill="none" stroke="#e2243f" stroke-width="3" stroke-linejoin="round"/>
<polygon points="1004.7,1676.6 1005.5,1676.3 1006.3,1676 1007.2,1675.8 1008,1675.5 1008.8,1675.3 1009.7,1675.1 1010.5,1674.9 1011.3,1674.7 1012.2,1674.5 1013,1674.3 1013.8,1674.1 1014.7,1674 1015.5,1673.9 1016.4,1673.7 1017.2,1673.6 1018,1673.5 1018.9,1673.4 1019.7,1673.3 1020.5,1673.2 1021.4,1673.2 1022.2,1673.1 1023,1673.1 1023.9,1673 1024.7,1673 1025.5,1673 1026.4,1673 1027.2,1673 1028,1673 1028.9,1673 1029.7,1673.1 1030.5,1673.1 1031.4,1673.2 1032.2,1673.3 1033,1673.3 1033.9,1673.4 1034.7,1673.5 1035.6,1673.6 1036.4,1673.7 1037.2,1673.9 1038.1,1674 1038.9,1674.2 1039.7,1674.3 1040.6,1674.5 1041.4,1674.7 1042.2,1674.9 1043.1,1675.1 1043.9,1675.3 1044.7,1675.5 1045.6,1675.8 1046.4,1676 1047.2,1676.3 1048.1,1676.6 1048.9,1676.9 1049.8,1677.2 1050.6,1677.5 1051.4,1677.8 1052.3,1678.2 1053.1,1678.6 1053.9,1678.9 1054.8,1679.3 1055.6,1679.7 1056.4,1680.2 1057.3,1680.6 1058.1,1681 1058.9,1681.5 1059.8,1682 1060.6,1682.5 1061.4,1683 1062.3,1683.6 1063.1,1684.1 1063.9,1684.7 1064.8,1685.3 1065.6,1685.9 1066.5,1686.5 1067.3,1687.2 1068.1,1687.8 1069,1688.5 1069.8,1689.2 1070.6,1689.9 1071.5,1690.7 1072.3,1691.5 1073.1,1692.2 1074,1693.1 1074.8,1693.9 1075.6,1694.7 1076.5,1695.6 1077.3,1696.5 1078.1,1697.4 1079,1698.4 1079.8,1699.3 1080.6,1700.3 1081.5,1701.3 1082.3,1702.4 1083.2,1703.4 1084,1704.5 1084.8,1705.6 1085.7,1706.7 1086.5,1707.8 1087.3,1709 1088.2,1710.2 1089,1711.4 1089.8,1712.6 1090.7,1713.8 1091.5,1715.1 1092.3,1716.4 1093.2,1717.7 1094,1719 1094.8,1720.3 1095.7,1721.6 1096.5,1723 1097.3,1724.4 1098.2,1725.7 1099,1727.1 1099.8,1728.5 1100.7,1729.9 1101.5,1731.4 1102.4,1732.8 1103.2,1734.2 1104,1735.6 1104.9,1737.1 1105.7,1738.5 1106.5,1740 1107.4,1741.4 1108.2,1742.8 1109,1744.3 1109.9,1745.7 1110.7,1747.1 1111.5,1748.5 1112.4,1749.9 1113.2,1751.3 1114,1752.7 1114.9,1754.1 1115.7,1755.4 1116.5,1756.8 1117.4,1758.1 1118.2,1759.4 1119.1,1760.7 1119.9,1762 1120.7,1763.3 1121.6,1764.5 1122.4,1765.7 1123.2,1766.9 1124.1,1768.1 1124.9,1769.3 1125.7,1770.4 1126.6,1771.5 1127.4,1772.6 1128.2,1773.7 1129.1,1774.7 1129.9,1775.7 1130.7,1776.7 1131.6,1777.7 1132.4,1778.6 1133.2,1779.6 1134.1,1780.4 1134.9,1781.3 1135.8,1782.2 1136.6,1783 1137.4,1783.8 1138.3,1784.6 1139.1,1785.3 1139.9,1786.1 1140.8,1786.8 1141.6,1787.5 1142.4,1788.1 1143.3,1788.8 1144.1,1789.4 1144.9,1790 1145.8,1790.6 1146.6,1791.1 1147.4,1791.7 1148.3,1792.2 1149.1,1792.7 1150,1793.2 1150.8,1793.7 1151.6,1794.1 1152.5,1794.6 1153.3,1795 1154.1,1795.4 1155,1795.8 1155.8,1796.1 1156.6,1796.5 1157.5,1796.8 1158.3,1797.2 1159.1,1797.5 1160,1797.8 1160.8,1798.1 1161.6,1798.4 1162.5,1798.6 1163.3,1798.9 1164.1,1799.1 1165,1799.4 1165.8,1799.6 1166.7,1799.8 1167.5,1800 1168.3,1800.2 1168.3,1810.5 1167.5,1810.8 1166.7,1811 1165.8,1811.3 1165,1811.5 1164.1,1811.8 1163.3,1812 1162.5,1812.2 1161.6,1812.4 1160.8,1812.6 1160,1812.7 1159.1,1812.9 1158.3,1813 1157.5,1813.2 1156.6,1813.3 1155.8,1813.4 1155,1813.5 1154.1,1813.6 1153.3,1813.7 1152.5,1813.8 1151.6,1813.8 1150.8,1813.9 1150,1813.9 1149.1,1814 1148.3,1814 1147.4,1814 1146.6,1814 1145.8,1814 1144.9,1814 1144.1,1813.9 1143.3,1813.9 1142.4,1813.9 1141.6,1813.8 1140.8,1813.7 1139.9,1813.7 1139.1,1813.6 1138.3,1813.5 1137.4,1813.4 1136.6,1813.2 1135.8,1813.1 1134.9,1813 1134.1,1812.8 1133.2,1812.6 1132.4,1812.5 1131.6,1812.3 1130.7,1812.1 1129.9,1811.9 1129.1,1811.6 1128.2,1811.4 1127.4,1811.2 1126.6,1810.9 1125.7,1810.6 1124.9,1810.3 1124.1,1810 1123.2,1809.7 1122.4,1809.4 1121.6,1809.1 1120.7,1808.7 1119.9,1808.4 1119.1,1808 1118.2,1807.6 1117.4,1807.2 1116.5,1806.7 1115.7,1806.3 1114.9,1805.8 1114,1805.4 1113.2,1804.9 1112.4,1804.4 1111.5,1803.9 1110.7,1803.3 1109.9,1802.8 1109,1802.2 1108.2,1801.6 1107.4,1801 1106.5,1800.3 1105.7,1799.7 1104.9,1799 1104,1798.3 1103.2,1797.6 1102.4,1796.9 1101.5,1796.1 1100.7,1795.4 1099.8,1794.6 1099,1793.7 1098.2,1792.9 1097.3,1792 1096.5,1791.2 1095.7,1790.3 1094.8,1789.3 1094,1788.4 1093.2,1787.4 1092.3,1786.4 1091.5,1785.4 1090.7,1784.4 1089.8,1783.3 1089,1782.2 1088.2,1781.1 1087.3,1780 1086.5,1778.9 1085.7,1777.7 1084.8,1776.5 1084,1775.3 1083.2,1774.1 1082.3,1772.9 1081.5,1771.6 1080.6,1770.3 1079.8,1769 1079,1767.7 1078.1,1766.4 1077.3,1765 1076.5,1763.7 1075.6,1762.3 1074.8,1760.9 1074,1759.5 1073.1,1758.1 1072.3,1756.7 1071.5,1755.3 1070.6,1753.9 1069.8,1752.4 1069,1751 1068.1,1749.6 1067.3,1748.1 1066.5,1746.7 1065.6,1745.3 1064.8,1743.8 1063.9,1742.4 1063.1,1741 1062.3,1739.6 1061.4,1738.1 1060.6,1736.7 1059.8,1735.3 1058.9,1734 1058.1,1732.6 1057.3,1731.2 1056.4,1729.9 1055.6,1728.6 1054.8,1727.3 1053.9,1726 1053.1,1724.7 1052.3,1723.4 1051.4,1722.2 1050.6,1721 1049.8,1719.8 1048.9,1718.6 1048.1,1717.5 1047.2,1716.3 1046.4,1715.2 1045.6,1714.1 1044.7,1713.1 1043.9,1712 1043.1,1711 1042.2,1710 1041.4,1709.1 1040.6,1708.1 1039.7,1707.2 1038.9,1706.3 1038.1,1705.5 1037.2,1704.6 1036.4,1703.8 1035.6,1703 1034.7,1702.2 1033.9,1701.5 1033,1700.8 1032.2,1700.1 1031.4,1699.4 1030.5,1698.7 1029.7,1698.1 1028.9,1697.5 1028,1696.9 1027.2,1696.3 1026.4,1695.7 1025.5,1695.2 1024.7,1694.7 1023.9,1694.2 1023,1693.7 1022.2,1693.2 1021.4,1692.8 1020.5,1692.3 1019.7,1691.9 1018.9,1691.5 1018,1691.1 1017.2,1690.8 1016.4,1690.4 1015.5,1690.1 1014.7,1689.8 1013.8,1689.4 1013,1689.1 1012.2,1688.9 1011.3,1688.6 1010.5,1688.3 1009.7,1688.1 1008.8,1687.8 1008,1687.6 1007.2,1687.4 1006.3,1687.2 1005.5,1687 1004.7,1686.8" fill="#ffa8b7" stroke="#ffa8b7" stroke-width="1.2"/>
<polyline points="1004.7,1676.6 1005.5,1676.3 1006.3,1676 1007.2,1675.8 1008,1675.5 1008.8,1675.3 1009.7,1675.1 1010.5,1674.9 1011.3,1674.7 1012.2,1674.5 1013,1674.3 1013.8,1674.1 1014.7,1674 1015.5,1673.9 1016.4,1673.7 1017.2,1673.6 1018,1673.5 1018.9,1673.4 1019.7,1673.3 1020.5,1673.2 1021.4,1673.2 1022.2,1673.1 1023,1673.1 1023.9,1673 1024.7,1673 1025.5,1673 1026.4,1673 1027.2,1673 1028,1673 1028.9,1673 1029.7,1673.1 1030.5,1673.1 1031.4,1673.2 1032.2,1673.3 1033,1673.3 1033.9,1673.4 1034.7,1673.5 1035.6,1673.6 1036.4,1673.7 1037.2,1673.9 1038.1,1674 1038.9,1674.2 1039.7,1674.3 1040.6,1674.5 1041.4,1674.7 1042.2,1674.9 1043.1,1675.1 1043.9,1675.3 1044.7,1675.5 1045.6,1675.8 1046.4,1676 1047.2,1676.3 1048.1,1676.6 1048.9,1676.9 1049.8,1677.2 1050.6,1677.5 1051.4,1677.8 1052.3,1678.2 1053.1,1678.6 1053.9,1678.9 1054.8,1679.3 1055.6,1679.7 1056.4,1680.2 1057.3,1680.6 1058.1,1681 1058.9,1681.5 1059.8,1682 1060.6,1682.5 1061.4,1683 1062.3,1683.6 1063.1,1684.1 1063.9,1684.7 1064.8,1685.3 1065.6,1685.9 1066.5,1686.5 1067.3,1687.2 1068.1,1687.8 1069,1688.5 1069.8,1689.2 1070.6,1689.9 1071.5,1690.7 1072.3,1691.5 1073.1,1692.2 1074,1693.1 1074.8,1693.9 1075.6,1694.7 1076.5,1695.6 1077.3,1696.5 1078.1,1697.4 1079,1698.4 1079.8,1699.3 1080.6,1700.3 1081.5,1701.3 1082.3,1702.4 1083.2,1703.4 1084,1704.5 1084.8,1705.6 1085.7,1706.7 1086.5,1707.8 1087.3,1709 1088.2,1710.2 1089,1711.4 1089.8,1712.6 1090.7,1713.8 1091.5,1715.1 1092.3,1716.4 1093.2,1717.7 1094,1719 1094.8,1720.3 1095.7,1721.6 1096.5,1723 1097.3,1724.4 1098.2,1725.7 1099,1727.1 1099.8,1728.5 1100.7,1729.9 1101.5,1731.4 1102.4,1732.8 1103.2,1734.2 1104,1735.6 1104.9,1737.1 1105.7,1738.5 1106.5,1740 1107.4,1741.4 1108.2,1742.8 1109,1744.3 1109.9,1745.7 1110.7,1747.1 1111.5,1748.5 1112.4,1749.9 1113.2,1751.3 1114,1752.7 1114.9,1754.1 1115.7,1755.4 1116.5,1756.8 1117.4,1758.1 1118.2,1759.4 1119.1,1760.7 1119.9,1762 1120.7,1763.3 1121.6,1764.5 1122.4,1765.7 1123.2,1766.9 1124.1,1768.1 1124.9,1769.3 1125.7,1770.4 1126.6,1771.5 1127.4,1772.6 1128.2,1773.7 1129.1,1774.7 1129.9,1775.7 1130.7,1776.7 1131.6,1777.7 1132.4,1778.6 1133.2,1779.6 1134.1,1780.4 1134.9,1781.3 1135.8,1782.2 1136.6,1783 1137.4,1783.8 1138.3,1784.6 1139.1,1785.3 1139.9,1786.1 1140.8,1786.8 1141.6,1787.5 1142.4,1788.1 1143.3,1788.8 1144.1,1789.4 1144.9,1790 1145.8,1790.6 1146.6,1791.1 1147.4,1791.7 1148.3,1792.2 1149.1,1792.7 1150,1793.2 1150.8,1793.7 1151.6,1794.1 1152.5,1794.6 1153.3,1795 1154.1,1795.4 1155,1795.8 1155.8,1796.1 1156.6,1796.5 1157.5,1796.8 1158.3,1797.2 1159.1,1797.5 1160,1797.8 1160.8,1798.1 1161.6,1798.4 1162.5,1798.6 1163.3,1798.9 1164.1,1799.1 1165,1799.4 1165.8,1799.6 1166.7,1799.8 1167.5,1800 1168.3,1800.2" fill="none" stroke="#e2243f" stroke-width="3" stroke-linejoin="round"/>
<polyline points="1004.7,1686.8 1005.5,1687 1006.3,1687.2 1007.2,1687.4 1008,1687.6 1008.8,1687.8 1009.7,1688.1 1010.5,1688.3 1011.3,1688.6 1012.2,1688.9 1013,1689.1 1013.8,1689.4 1014.7,1689.8 1015.5,1690.1 1016.4,1690.4 1017.2,1690.8 1018,1691.1 1018.9,1691.5 1019.7,1691.9 1020.5,1692.3 1021.4,1692.8 1022.2,1693.2 1023,1693.7 1023.9,1694.2 1024.7,1694.7 1025.5,1695.2 1026.4,1695.7 1027.2,1696.3 1028,1696.9 1028.9,1697.5 1029.7,1698.1 1030.5,1698.7 1031.4,1699.4 1032.2,1700.1 1033,1700.8 1033.9,1701.5 1034.7,1702.2 1035.6,1703 1036.4,1703.8 1037.2,1704.6 1038.1,1705.5 1038.9,1706.3 1039.7,1707.2 1040.6,1708.1 1041.4,1709.1 1042.2,1710 1043.1,1711 1043.9,1712 1044.7,1713.1 1045.6,1714.1 1046.4,1715.2 1047.2,1716.3 1048.1,1717.5 1048.9,1718.6 1049.8,1719.8 1050.6,1721 1051.4,1722.2 1052.3,1723.4 1053.1,1724.7 1053.9,1726 1054.8,1727.3 1055.6,1728.6 1056.4,1729.9 1057.3,1731.2 1058.1,1732.6 1058.9,1734 1059.8,1735.3 1060.6,1736.7 1061.4,1738.1 1062.3,1739.6 1063.1,1741 1063.9,1742.4 1064.8,1743.8 1065.6,1745.3 1066.5,1746.7 1067.3,1748.1 1068.1,1749.6 1069,1751 1069.8,1752.4 1070.6,1753.9 1071.5,1755.3 1072.3,1756.7 1073.1,1758.1 1074,1759.5 1074.8,1760.9 1075.6,1762.3 1076.5,1763.7 1077.3,1765 1078.1,1766.4 1079,1767.7 1079.8,1769 1080.6,1770.3 1081.5,1771.6 1082.3,1772.9 1083.2,1774.1 1084,1775.3 1084.8,1776.5 1085.7,1777.7 1086.5,1778.9 1087.3,1780 1088.2,1781.1 1089,1782.2 1089.8,1783.3 1090.7,1784.4 1091.5,1785.4 1092.3,1786.4 1093.2,1787.4 1094,1788.4 1094.8,1789.3 1095.7,1790.3 1096.5,1791.2 1097.3,1792 1098.2,1792.9 1099,1793.7 1099.8,1794.6 1100.7,1795.4 1101.5,1796.1 1102.4,1796.9 1103.2,1797.6 1104,1798.3 1104.9,1799 1105.7,1799.7 1106.5,1800.3 1107.4,1801 1108.2,1801.6 1109,1802.2 1109.9,1802.8 1110.7,1803.3 1111.5,1803.9 1112.4,1804.4 1113.2,1804.9 1114,1805.4 1114.9,1805.8 1115.7,1806.3 1116.5,1806.7 1117.4,1807.2 1118.2,1807.6 1119.1,1808 1119.9,1808.4 1120.7,1808.7 1121.6,1809.1 1122.4,1809.4 1123.2,1809.7 1124.1,1810 1124.9,1810.3 1125.7,1810.6 1126.6,1810.9 1127.4,1811.2 1128.2,1811.4 1129.1,1811.6 1129.9,1811.9 1130.7,1812.1 1131.6,1812.3 1132.4,1812.5 1133.2,1812.6 1134.1,1812.8 1134.9,1813 1135.8,1813.1 1136.6,1813.2 1137.4,1813.4 1138.3,1813.5 1139.1,1813.6 1139.9,1813.7 1140.8,1813.7 1141.6,1813.8 1142.4,1813.9 1143.3,1813.9 1144.1,1813.9 1144.9,1814 1145.8,1814 1146.6,1814 1147.4,1814 1148.3,1814 1149.1,1814 1150,1813.9 1150.8,1813.9 1151.6,1813.8 1152.5,1813.8 1153.3,1813.7 1154.1,1813.6 1155,1813.5 1155.8,1813.4 1156.6,1813.3 1157.5,1813.2 1158.3,1813 1159.1,1812.9 1160,1812.7 1160.8,1812.6 1161.6,1812.4 1162.5,1812.2 1163.3,1812 1164.1,1811.8 1165,1811.5 1165.8,1811.3 1166.7,1811 1167.5,1810.8 1168.3,1810.5" fill="none" stroke="#e2243f" stroke-width="3" stroke-linejoin="round"/>
<polygon points="1333.7,1676.6 1334.5,1676.3 1335.3,1676.1 1336.2,1675.8 1337,1675.6 1337.8,1675.3 1338.7,1675.1 1339.5,1674.9 1340.3,1674.7 1341.2,1674.5 1342,1674.3 1342.8,1674.2 1343.7,1674 1344.5,1673.9 1345.3,1673.8 1346.2,1673.6 1347,1673.5 1347.8,1673.4 1348.7,1673.3 1349.5,1673.3 1350.3,1673.2 1351.2,1673.1 1352,1673.1 1352.9,1673.1 1353.7,1673 1354.5,1673 1355.4,1673 1356.2,1673 1357,1673 1357.9,1673 1358.7,1673.1 1359.5,1673.1 1360.4,1673.2 1361.2,1673.2 1362,1673.3 1362.9,1673.4 1363.7,1673.5 1364.5,1673.6 1365.4,1673.7 1366.2,1673.8 1367,1674 1367.9,1674.1 1368.7,1674.3 1369.6,1674.4 1370.4,1674.6 1371.2,1674.8 1372.1,1675 1372.9,1675.2 1373.7,1675.5 1374.6,1675.7 1375.4,1675.9 1376.2,1676.2 1377.1,1676.5 1377.9,1676.8 1378.7,1677.1 1379.6,1677.4 1380.4,1677.7 1381.2,1678.1 1382.1,1678.4 1382.9,1678.8 1383.8,1679.2 1384.6,1679.6 1385.4,1680 1386.3,1680.4 1387.1,1680.9 1387.9,1681.3 1388.8,1681.8 1389.6,1682.3 1390.4,1682.8 1391.3,1683.3 1392.1,1683.9 1392.9,1684.4 1393.8,1685 1394.6,1685.6 1395.4,1686.2 1396.3,1686.9 1397.1,1687.5 1397.9,1688.2 1398.8,1688.9 1399.6,1689.6 1400.5,1690.4 1401.3,1691.1 1402.1,1691.9 1403,1692.7 1403.8,1693.5 1404.6,1694.4 1405.5,1695.2 1406.3,1696.1 1407.1,1697 1408,1697.9 1408.8,1698.9 1409.6,1699.9 1410.5,1700.9 1411.3,1701.9 1412.1,1702.9 1413,1704 1413.8,1705 1414.6,1706.2 1415.5,1707.3 1416.3,1708.4 1417.2,1709.6 1418,1710.8 1418.8,1712 1419.7,1713.2 1420.5,1714.5 1421.3,1715.7 1422.2,1717 1423,1718.3 1423.8,1719.6 1424.7,1721 1425.5,1722.5 1426.3,1723.8 1427.2,1725.2 1428,1726.6 1428.8,1728 1429.7,1729.3 1430.5,1730.7 1431.3,1732.2 1432.2,1733.6 1433,1735 1433.8,1736.4 1434.7,1737.8 1435.5,1739.3 1436.4,1740.7 1437.2,1742.1 1438,1743.5 1438.9,1744.9 1439.7,1746.4 1440.5,1747.8 1441.4,1749.2 1442.2,1750.5 1443,1751.9 1443.9,1753.3 1444.7,1754.6 1445.5,1756 1446.4,1757.3 1447.2,1758.6 1448,1759.9 1448.9,1761.2 1449.7,1762.5 1450.5,1763.7 1451.4,1764.9 1452.2,1766.1 1453.1,1767.3 1453.9,1768.5 1454.7,1769.6 1455.6,1770.7 1456.4,1771.8 1457.2,1772.9 1458.1,1774 1458.9,1775 1459.7,1776 1460.6,1777 1461.4,1777.9 1462.2,1778.8 1463.1,1779.7 1463.9,1780.6 1464.7,1781.5 1465.6,1782.3 1466.4,1783.1 1467.2,1783.9 1468.1,1784.7 1468.9,1785.4 1469.8,1786.2 1470.6,1786.9 1471.4,1787.5 1472.3,1788.2 1473.1,1788.8 1473.9,1789.4 1474.8,1790 1475.6,1790.6 1476.4,1791.2 1477.3,1791.7 1478.1,1792.2 1478.9,1792.7 1479.8,1793.2 1480.6,1793.7 1481.4,1794.1 1482.3,1794.6 1483.1,1795 1484,1795.4 1484.8,1795.8 1485.6,1796.1 1486.5,1796.5 1487.3,1796.8 1488.1,1797.1 1489,1797.5 1489.8,1797.8 1490.6,1798.1 1491.5,1798.3 1492.3,1798.6 1493.1,1798.9 1494,1799.1 1494.8,1799.3 1495.6,1799.5 1496.5,1799.8 1497.3,1800 1498.1,1800.2 1499,1800.3 1499,1810.4 1498.1,1810.7 1497.3,1810.9 1496.5,1811.2 1495.6,1811.4 1494.8,1811.7 1494,1811.9 1493.1,1812.1 1492.3,1812.3 1491.5,1812.5 1490.6,1812.7 1489.8,1812.8 1489,1813 1488.1,1813.1 1487.3,1813.2 1486.5,1813.4 1485.6,1813.5 1484.8,1813.6 1484,1813.7 1483.1,1813.7 1482.3,1813.8 1481.4,1813.9 1480.6,1813.9 1479.8,1813.9 1478.9,1814 1478.1,1814 1477.3,1814 1476.4,1814 1475.6,1814 1474.8,1814 1473.9,1813.9 1473.1,1813.9 1472.3,1813.8 1471.4,1813.8 1470.6,1813.7 1469.8,1813.6 1468.9,1813.5 1468.1,1813.4 1467.2,1813.3 1466.4,1813.2 1465.6,1813.1 1464.7,1812.9 1463.9,1812.8 1463.1,1812.6 1462.2,1812.4 1461.4,1812.2 1460.6,1812 1459.7,1811.8 1458.9,1811.6 1458.1,1811.4 1457.2,1811.1 1456.4,1810.9 1455.6,1810.6 1454.7,1810.3 1453.9,1810 1453.1,1809.7 1452.2,1809.4 1451.4,1809 1450.5,1808.7 1449.7,1808.3 1448.9,1807.9 1448,1807.5 1447.2,1807.1 1446.4,1806.7 1445.5,1806.3 1444.7,1805.8 1443.9,1805.3 1443,1804.9 1442.2,1804.4 1441.4,1803.8 1440.5,1803.3 1439.7,1802.7 1438.9,1802.2 1438,1801.6 1437.2,1801 1436.4,1800.4 1435.5,1799.7 1434.7,1799 1433.8,1798.4 1433,1797.7 1432.2,1796.9 1431.3,1796.2 1430.5,1795.4 1429.7,1794.6 1428.8,1793.8 1428,1793 1427.2,1792.2 1426.3,1791.3 1425.5,1790.4 1424.7,1789.6 1423.8,1788.7 1423,1787.7 1422.2,1786.8 1421.3,1785.7 1420.5,1784.7 1419.7,1783.7 1418.8,1782.6 1418,1781.5 1417.2,1780.4 1416.3,1779.3 1415.5,1778.1 1414.6,1776.9 1413.8,1775.8 1413,1774.5 1412.1,1773.3 1411.3,1772.1 1410.5,1770.8 1409.6,1769.5 1408.8,1768.2 1408,1766.9 1407.1,1765.5 1406.3,1764.2 1405.5,1762.8 1404.6,1761.5 1403.8,1760.1 1403,1758.7 1402.1,1757.3 1401.3,1755.9 1400.5,1754.4 1399.6,1753 1398.8,1751.6 1397.9,1750.2 1397.1,1748.7 1396.3,1747.3 1395.4,1745.9 1394.6,1744.4 1393.8,1743 1392.9,1741.6 1392.1,1740.2 1391.3,1738.7 1390.4,1737.3 1389.6,1736 1388.8,1734.6 1387.9,1733.2 1387.1,1731.8 1386.3,1730.5 1385.4,1729.2 1384.6,1727.9 1383.8,1726.6 1382.9,1725.3 1382.1,1724 1381.2,1722.8 1380.4,1721.5 1379.6,1720.3 1378.7,1719.2 1377.9,1718 1377.1,1716.9 1376.2,1715.8 1375.4,1714.7 1374.6,1713.6 1373.7,1712.6 1372.9,1711.5 1372.1,1710.5 1371.2,1709.6 1370.4,1708.6 1369.6,1707.7 1368.7,1706.8 1367.9,1705.9 1367,1705.1 1366.2,1704.2 1365.4,1703.4 1364.5,1702.6 1363.7,1701.9 1362.9,1701.2 1362,1700.4 1361.2,1699.7 1360.4,1699.1 1359.5,1698.4 1358.7,1697.8 1357.9,1697.2 1357,1696.6 1356.2,1696 1355.4,1695.5 1354.5,1695 1353.7,1694.5 1352.9,1694 1352,1693.5 1351.2,1693 1350.3,1692.6 1349.5,1692.2 1348.7,1691.8 1347.8,1691.4 1347,1691 1346.2,1690.6 1345.3,1690.3 1344.5,1690 1343.7,1689.6 1342.8,1689.3 1342,1689 1341.2,1688.7 1340.3,1688.5 1339.5,1688.2 1338.7,1688 1337.8,1687.7 1337,1687.5 1336.2,1687.3 1335.3,1687.1 1334.5,1686.9 1333.7,1686.7" fill="#ffa8b7" stroke="#ffa8b7" stroke-width="1.2"/>
<polyline points="1333.7,1676.6 1334.5,1676.3 1335.3,1676.1 1336.2,1675.8 1337,1675.6 1337.8,1675.3 1338.7,1675.1 1339.5,1674.9 1340.3,1674.7 1341.2,1674.5 1342,1674.3 1342.8,1674.2 1343.7,1674 1344.5,1673.9 1345.3,1673.8 1346.2,1673.6 1347,1673.5 1347.8,1673.4 1348.7,1673.3 1349.5,1673.3 1350.3,1673.2 1351.2,1673.1 1352,1673.1 1352.9,1673.1 1353.7,1673 1354.5,1673 1355.4,1673 1356.2,1673 1357,1673 1357.9,1673 1358.7,1673.1 1359.5,1673.1 1360.4,1673.2 1361.2,1673.2 1362,1673.3 1362.9,1673.4 1363.7,1673.5 1364.5,1673.6 1365.4,1673.7 1366.2,1673.8 1367,1674 1367.9,1674.1 1368.7,1674.3 1369.6,1674.4 1370.4,1674.6 1371.2,1674.8 1372.1,1675 1372.9,1675.2 1373.7,1675.5 1374.6,1675.7 1375.4,1675.9 1376.2,1676.2 1377.1,1676.5 1377.9,1676.8 1378.7,1677.1 1379.6,1677.4 1380.4,1677.7 1381.2,1678.1 1382.1,1678.4 1382.9,1678.8 1383.8,1679.2 1384.6,1679.6 1385.4,1680 1386.3,1680.4 1387.1,1680.9 1387.9,1681.3 1388.8,1681.8 1389.6,1682.3 1390.4,1682.8 1391.3,1683.3 1392.1,1683.9 1392.9,1684.4 1393.8,1685 1394.6,1685.6 1395.4,1686.2 1396.3,1686.9 1397.1,1687.5 1397.9,1688.2 1398.8,1688.9 1399.6,1689.6 1400.5,1690.4 1401.3,1691.1 1402.1,1691.9 1403,1692.7 1403.8,1693.5 1404.6,1694.4 1405.5,1695.2 1406.3,1696.1 1407.1,1697 1408,1697.9 1408.8,1698.9 1409.6,1699.9 1410.5,1700.9 1411.3,1701.9 1412.1,1702.9 1413,1704 1413.8,1705 1414.6,1706.2 1415.5,1707.3 1416.3,1708.4 1417.2,1709.6 1418,1710.8 1418.8,1712 1419.7,1713.2 1420.5,1714.5 1421.3,1715.7 1422.2,1717 1423,1718.3 1423.8,1719.6 1424.7,1721 1425.5,1722.5 1426.3,1723.8 1427.2,1725.2 1428,1726.6 1428.8,1728 1429.7,1729.3 1430.5,1730.7 1431.3,1732.2 1432.2,1733.6 1433,1735 1433.8,1736.4 1434.7,1737.8 1435.5,1739.3 1436.4,1740.7 1437.2,1742.1 1438,1743.5 1438.9,1744.9 1439.7,1746.4 1440.5,1747.8 1441.4,1749.2 1442.2,1750.5 1443,1751.9 1443.9,1753.3 1444.7,1754.6 1445.5,1756 1446.4,1757.3 1447.2,1758.6 1448,1759.9 1448.9,1761.2 1449.7,1762.5 1450.5,1763.7 1451.4,1764.9 1452.2,1766.1 1453.1,1767.3 1453.9,1768.5 1454.7,1769.6 1455.6,1770.7 1456.4,1771.8 1457.2,1772.9 1458.1,1774 1458.9,1775 1459.7,1776 1460.6,1777 1461.4,1777.9 1462.2,1778.8 1463.1,1779.7 1463.9,1780.6 1464.7,1781.5 1465.6,1782.3 1466.4,1783.1 1467.2,1783.9 1468.1,1784.7 1468.9,1785.4 1469.8,1786.2 1470.6,1786.9 1471.4,1787.5 1472.3,1788.2 1473.1,1788.8 1473.9,1789.4 1474.8,1790 1475.6,1790.6 1476.4,1791.2 1477.3,1791.7 1478.1,1792.2 1478.9,1792.7 1479.8,1793.2 1480.6,1793.7 1481.4,1794.1 1482.3,1794.6 1483.1,1795 1484,1795.4 1484.8,1795.8 1485.6,1796.1 1486.5,1796.5 1487.3,1796.8 1488.1,1797.1 1489,1797.5 1489.8,1797.8 1490.6,1798.1 1491.5,1798.3 1492.3,1798.6 1493.1,1798.9 1494,1799.1 1494.8,1799.3 1495.6,1799.5 1496.5,1799.8 1497.3,1800 1498.1,1800.2 1499,1800.3" fill="none" stroke="#e2243f" stroke-width="3" stroke-linejoin="round"/>
<polyline points="1333.7,1686.7 1334.5,1686.9 1335.3,1687.1 1336.2,1687.3 1337,1687.5 1337.8,1687.7 1338.7,1688 1339.5,1688.2 1340.3,1688.5 1341.2,1688.7 1342,1689 1342.8,1689.3 1343.7,1689.6 1344.5,1690 1345.3,1690.3 1346.2,1690.6 1347,1691 1347.8,1691.4 1348.7,1691.8 1349.5,1692.2 1350.3,1692.6 1351.2,1693 1352,1693.5 1352.9,1694 1353.7,1694.5 1354.5,1695 1355.4,1695.5 1356.2,1696 1357,1696.6 1357.9,1697.2 1358.7,1697.8 1359.5,1698.4 1360.4,1699.1 1361.2,1699.7 1362,1700.4 1362.9,1701.2 1363.7,1701.9 1364.5,1702.6 1365.4,1703.4 1366.2,1704.2 1367,1705.1 1367.9,1705.9 1368.7,1706.8 1369.6,1707.7 1370.4,1708.6 1371.2,1709.6 1372.1,1710.5 1372.9,1711.5 1373.7,1712.6 1374.6,1713.6 1375.4,1714.7 1376.2,1715.8 1377.1,1716.9 1377.9,1718 1378.7,1719.2 1379.6,1720.3 1380.4,1721.5 1381.2,1722.8 1382.1,1724 1382.9,1725.3 1383.8,1726.6 1384.6,1727.9 1385.4,1729.2 1386.3,1730.5 1387.1,1731.8 1387.9,1733.2 1388.8,1734.6 1389.6,1736 1390.4,1737.3 1391.3,1738.7 1392.1,1740.2 1392.9,1741.6 1393.8,1743 1394.6,1744.4 1395.4,1745.9 1396.3,1747.3 1397.1,1748.7 1397.9,1750.2 1398.8,1751.6 1399.6,1753 1400.5,1754.4 1401.3,1755.9 1402.1,1757.3 1403,1758.7 1403.8,1760.1 1404.6,1761.5 1405.5,1762.8 1406.3,1764.2 1407.1,1765.5 1408,1766.9 1408.8,1768.2 1409.6,1769.5 1410.5,1770.8 1411.3,1772.1 1412.1,1773.3 1413,1774.5 1413.8,1775.8 1414.6,1776.9 1415.5,1778.1 1416.3,1779.3 1417.2,1780.4 1418,1781.5 1418.8,1782.6 1419.7,1783.7 1420.5,1784.7 1421.3,1785.7 1422.2,1786.8 1423,1787.7 1423.8,1788.7 1424.7,1789.6 1425.5,1790.4 1426.3,1791.3 1427.2,1792.2 1428,1793 1428.8,1793.8 1429.7,1794.6 1430.5,1795.4 1431.3,1796.2 1432.2,1796.9 1433,1797.7 1433.8,1798.4 1434.7,1799 1435.5,1799.7 1436.4,1800.4 1437.2,1801 1438,1801.6 1438.9,1802.2 1439.7,1802.7 1440.5,1803.3 1441.4,1803.8 1442.2,1804.4 1443,1804.9 1443.9,1805.3 1444.7,1805.8 1445.5,1806.3 1446.4,1806.7 1447.2,1807.1 1448,1807.5 1448.9,1807.9 1449.7,1808.3 1450.5,1808.7 1451.4,1809 1452.2,1809.4 1453.1,1809.7 1453.9,1810 1454.7,1810.3 1455.6,1810.6 1456.4,1810.9 1457.2,1811.1 1458.1,1811.4 1458.9,1811.6 1459.7,1811.8 1460.6,1812 1461.4,1812.2 1462.2,1812.4 1463.1,1812.6 1463.9,1812.8 1464.7,1812.9 1465.6,1813.1 1466.4,1813.2 1467.2,1813.3 1468.1,1813.4 1468.9,1813.5 1469.8,1813.6 1470.6,1813.7 1471.4,1813.8 1472.3,1813.8 1473.1,1813.9 1473.9,1813.9 1474.8,1814 1475.6,1814 1476.4,1814 1477.3,1814 1478.1,1814 1478.9,1814 1479.8,1813.9 1480.6,1813.9 1481.4,1813.9 1482.3,1813.8 1483.1,1813.7 1484,1813.7 1484.8,1813.6 1485.6,1813.5 1486.5,1813.4 1487.3,1813.2 1488.1,1813.1 1489,1813 1489.8,1812.8 1490.6,1812.7 1491.5,1812.5 1492.3,1812.3 1493.1,1812.1 1494,1811.9 1494.8,1811.7 1495.6,1811.4 1496.5,1811.2 1497.3,1810.9 1498.1,1810.7 1499,1810.4" fill="none" stroke="#e2243f" stroke-width="3" stroke-linejoin="round"/>
<polygon points="1665.1,1676.5 1666,1676.2 1666.8,1675.9 1667.7,1675.7 1668.5,1675.4 1669.3,1675.2 1670.2,1675 1671,1674.8 1671.8,1674.6 1672.7,1674.4 1673.5,1674.3 1674.3,1674.1 1675.2,1673.9 1676,1673.8 1676.8,1673.7 1677.7,1673.6 1678.5,1673.5 1679.3,1673.4 1680.2,1673.3 1681,1673.2 1681.8,1673.2 1682.7,1673.1 1683.5,1673.1 1684.3,1673 1685.2,1673 1686,1673 1686.9,1673 1687.7,1673 1688.5,1673 1689.4,1673.1 1690.2,1673.1 1691,1673.1 1691.9,1673.2 1692.7,1673.3 1693.5,1673.4 1694.4,1673.4 1695.2,1673.5 1696,1673.7 1696.9,1673.8 1697.7,1673.9 1698.5,1674 1699.4,1674.2 1700.2,1674.4 1701,1674.5 1701.9,1674.7 1702.7,1674.9 1703.6,1675.1 1704.4,1675.4 1705.2,1675.6 1706.1,1675.8 1706.9,1676.1 1707.7,1676.4 1708.6,1676.7 1709.4,1677 1710.2,1677.3 1711.1,1677.6 1711.9,1677.9 1712.7,1678.3 1713.6,1678.6 1714.4,1679 1715.2,1679.4 1716.1,1679.8 1716.9,1680.2 1717.8,1680.7 1718.6,1681.1 1719.4,1681.6 1720.3,1682.1 1721.1,1682.6 1721.9,1683.1 1722.8,1683.7 1723.6,1684.2 1724.4,1684.8 1725.3,1685.4 1726.1,1686 1726.9,1686.6 1727.8,1687.3 1728.6,1687.9 1729.4,1688.6 1730.3,1689.3 1731.1,1690.1 1731.9,1690.8 1732.8,1691.6 1733.6,1692.4 1734.5,1693.2 1735.3,1694 1736.1,1694.9 1737,1695.7 1737.8,1696.6 1738.6,1697.6 1739.5,1698.5 1740.3,1699.5 1741.1,1700.4 1742,1701.5 1742.8,1702.5 1743.6,1703.5 1744.5,1704.6 1745.3,1705.7 1746.1,1706.8 1747,1708 1747.8,1709.1 1748.6,1710.3 1749.5,1711.5 1750.3,1712.7 1751.2,1713.9 1752,1715.2 1752.8,1716.5 1753.7,1717.8 1754.5,1719.1 1755.3,1720.4 1756.2,1723.1 1757,1725.1 1757.8,1726.4 1758.7,1727.7 1759.5,1729.1 1760.3,1730.4 1761.2,1731.7 1762,1733 1762.8,1734.4 1763.7,1735.7 1764.5,1737.1 1765.3,1738.4 1766.2,1739.8 1767,1741.1 1767.8,1742.5 1768.7,1743.8 1769.5,1745.1 1770.4,1746.5 1771.2,1747.8 1772,1749.1 1772.9,1750.4 1773.7,1751.8 1774.5,1753 1775.4,1754.3 1776.2,1755.6 1777,1756.9 1777.9,1758.1 1778.7,1759.3 1779.5,1760.6 1780.4,1761.8 1781.2,1762.9 1782,1764.1 1782.9,1765.3 1783.7,1766.4 1784.5,1767.5 1785.4,1768.6 1786.2,1769.7 1787.1,1770.7 1787.9,1771.8 1788.7,1772.8 1789.6,1773.8 1790.4,1774.8 1791.2,1775.7 1792.1,1776.6 1792.9,1777.6 1793.7,1778.4 1794.6,1779.3 1795.4,1780.2 1796.2,1781 1797.1,1781.8 1797.9,1782.6 1798.7,1783.3 1799.6,1784.1 1800.4,1784.8 1801.2,1785.5 1802.1,1786.2 1802.9,1786.8 1803.8,1787.5 1804.6,1788.1 1805.4,1788.7 1806.3,1789.3 1807.1,1789.9 1807.9,1790.4 1808.8,1791 1809.6,1791.5 1810.4,1792 1811.3,1792.4 1812.1,1792.9 1812.9,1793.4 1813.8,1793.8 1814.6,1794.2 1815.4,1794.6 1816.3,1795 1817.1,1795.4 1818,1795.8 1818.8,1796.1 1819.6,1796.4 1820.5,1796.8 1821.3,1797.1 1822.1,1797.4 1823,1797.7 1823.8,1797.9 1824.6,1798.2 1825.5,1798.5 1826.3,1798.7 1827.1,1799 1828,1799.2 1828.8,1799.4 1829.6,1799.6 1830.5,1799.8 1831.3,1800 1832.1,1800.2 1833,1800.3 1833.8,1800.5 1833.8,1810.9 1833,1811.2 1832.1,1811.4 1831.3,1811.6 1830.5,1811.8 1829.6,1812 1828.8,1812.2 1828,1812.4 1827.1,1812.6 1826.3,1812.7 1825.5,1812.9 1824.6,1813 1823.8,1813.1 1823,1813.3 1822.1,1813.4 1821.3,1813.5 1820.5,1813.6 1819.6,1813.7 1818.8,1813.7 1818,1813.8 1817.1,1813.8 1816.3,1813.9 1815.4,1813.9 1814.6,1814 1813.8,1814 1812.9,1814 1812.1,1814 1811.3,1814 1810.4,1814 1809.6,1814 1808.8,1813.9 1807.9,1813.9 1807.1,1813.8 1806.3,1813.8 1805.4,1813.7 1804.6,1813.6 1803.8,1813.5 1802.9,1813.4 1802.1,1813.3 1801.2,1813.2 1800.4,1813.1 1799.6,1813 1798.7,1812.8 1797.9,1812.7 1797.1,1812.5 1796.2,1812.3 1795.4,1812.1 1794.6,1812 1793.7,1811.8 1792.9,1811.5 1792.1,1811.3 1791.2,1811.1 1790.4,1810.8 1789.6,1810.6 1788.7,1810.3 1787.9,1810 1787.1,1809.7 1786.2,1809.4 1785.4,1809.1 1784.5,1808.8 1783.7,1808.4 1782.9,1808.1 1782,1807.7 1781.2,1807.4 1780.4,1807 1779.5,1806.6 1778.7,1806.1 1777.9,1805.7 1777,1805.3 1776.2,1804.8 1775.4,1804.3 1774.5,1803.8 1773.7,1803.3 1772.9,1802.8 1772,1802.3 1771.2,1801.7 1770.4,1801.1 1769.5,1800.5 1768.7,1799.9 1767.8,1799.3 1767,1798.7 1766.2,1798 1765.3,1797.3 1764.5,1796.6 1763.7,1795.9 1762.8,1795.2 1762,1794.5 1761.2,1793.7 1760.3,1792.9 1759.5,1792.1 1758.7,1791.3 1757.8,1790.4 1757,1789.6 1756.2,1789.2 1755.3,1789.3 1754.5,1788.3 1753.7,1787.3 1752.8,1786.3 1752,1785.3 1751.2,1784.3 1750.3,1783.2 1749.5,1782.2 1748.6,1781.1 1747.8,1779.9 1747,1778.8 1746.1,1777.6 1745.3,1776.5 1744.5,1775.3 1743.6,1774 1742.8,1772.8 1742,1771.5 1741.1,1770.3 1740.3,1769 1739.5,1767.7 1738.6,1766.3 1737.8,1765 1737,1763.6 1736.1,1762.3 1735.3,1760.9 1734.5,1759.5 1733.6,1758.1 1732.8,1756.7 1731.9,1755.3 1731.1,1753.9 1730.3,1752.4 1729.4,1751 1728.6,1749.6 1727.8,1748.1 1726.9,1746.7 1726.1,1745.3 1725.3,1743.8 1724.4,1742.4 1723.6,1741 1722.8,1739.6 1721.9,1738.2 1721.1,1736.8 1720.3,1735.4 1719.4,1734 1718.6,1732.6 1717.8,1731.3 1716.9,1730 1716.1,1728.6 1715.2,1727.3 1714.4,1726 1713.6,1724.8 1712.7,1723.5 1711.9,1722.3 1711.1,1721.1 1710.2,1719.9 1709.4,1718.7 1708.6,1717.5 1707.7,1716.4 1706.9,1715.3 1706.1,1714.2 1705.2,1713.2 1704.4,1712.1 1703.6,1711.1 1702.7,1710.1 1701.9,1709.2 1701,1708.2 1700.2,1707.3 1699.4,1706.4 1698.5,1705.6 1697.7,1704.7 1696.9,1703.9 1696,1703.1 1695.2,1702.3 1694.4,1701.6 1693.5,1700.9 1692.7,1700.2 1691.9,1699.5 1691,1698.8 1690.2,1698.2 1689.4,1697.6 1688.5,1697 1687.7,1696.4 1686.9,1695.8 1686,1695.3 1685.2,1694.8 1684.3,1694.3 1683.5,1693.8 1682.7,1693.3 1681.8,1692.9 1681,1692.4 1680.2,1692 1679.3,1691.6 1678.5,1691.2 1677.7,1690.8 1676.8,1690.5 1676,1690.1 1675.2,1689.8 1674.3,1689.5 1673.5,1689.2 1672.7,1688.9 1671.8,1688.6 1671,1688.4 1670.2,1688.1 1669.3,1687.9 1668.5,1687.6 1667.7,1687.4 1666.8,1687.2 1666,1687 1665.1,1686.8" fill="#ffa8b7" stroke="#ffa8b7" stroke-width="1.2"/>
<polyline points="1665.1,1676.5 1666,1676.2 1666.8,1675.9 1667.7,1675.7 1668.5,1675.4 1669.3,1675.2 1670.2,1675 1671,1674.8 1671.8,1674.6 1672.7,1674.4 1673.5,1674.3 1674.3,1674.1 1675.2,1673.9 1676,1673.8 1676.8,1673.7 1677.7,1673.6 1678.5,1673.5 1679.3,1673.4 1680.2,1673.3 1681,1673.2 1681.8,1673.2 1682.7,1673.1 1683.5,1673.1 1684.3,1673 1685.2,1673 1686,1673 1686.9,1673 1687.7,1673 1688.5,1673 1689.4,1673.1 1690.2,1673.1 1691,1673.1 1691.9,1673.2 1692.7,1673.3 1693.5,1673.4 1694.4,1673.4 1695.2,1673.5 1696,1673.7 1696.9,1673.8 1697.7,1673.9 1698.5,1674 1699.4,1674.2 1700.2,1674.4 1701,1674.5 1701.9,1674.7 1702.7,1674.9 1703.6,1675.1 1704.4,1675.4 1705.2,1675.6 1706.1,1675.8 1706.9,1676.1 1707.7,1676.4 1708.6,1676.7 1709.4,1677 1710.2,1677.3 1711.1,1677.6 1711.9,1677.9 1712.7,1678.3 1713.6,1678.6 1714.4,1679 1715.2,1679.4 1716.1,1679.8 1716.9,1680.2 1717.8,1680.7 1718.6,1681.1 1719.4,1681.6 1720.3,1682.1 1721.1,1682.6 1721.9,1683.1 1722.8,1683.7 1723.6,1684.2 1724.4,1684.8 1725.3,1685.4 1726.1,1686 1726.9,1686.6 1727.8,1687.3 1728.6,1687.9 1729.4,1688.6 1730.3,1689.3 1731.1,1690.1 1731.9,1690.8 1732.8,1691.6 1733.6,1692.4 1734.5,1693.2 1735.3,1694 1736.1,1694.9 1737,1695.7 1737.8,1696.6 1738.6,1697.6 1739.5,1698.5 1740.3,1699.5 1741.1,1700.4 1742,1701.5 1742.8,1702.5 1743.6,1703.5 1744.5,1704.6 1745.3,1705.7 1746.1,1706.8 1747,1708 1747.8,1709.1 1748.6,1710.3 1749.5,1711.5 1750.3,1712.7 1751.2,1713.9 1752,1715.2 1752.8,1716.5 1753.7,1717.8 1754.5,1719.1 1755.3,1720.4 1756.2,1723.1 1757,1725.1 1757.8,1726.4 1758.7,1727.7 1759.5,1729.1 1760.3,1730.4 1761.2,1731.7 1762,1733 1762.8,1734.4 1763.7,1735.7 1764.5,1737.1 1765.3,1738.4 1766.2,1739.8 1767,1741.1 1767.8,1742.5 1768.7,1743.8 1769.5,1745.1 1770.4,1746.5 1771.2,1747.8 1772,1749.1 1772.9,1750.4 1773.7,1751.8 1774.5,1753 1775.4,1754.3 1776.2,1755.6 1777,1756.9 1777.9,1758.1 1778.7,1759.3 1779.5,1760.6 1780.4,1761.8 1781.2,1762.9 1782,1764.1 1782.9,1765.3 1783.7,1766.4 1784.5,1767.5 1785.4,1768.6 1786.2,1769.7 1787.1,1770.7 1787.9,1771.8 1788.7,1772.8 1789.6,1773.8 1790.4,1774.8 1791.2,1775.7 1792.1,1776.6 1792.9,1777.6 1793.7,1778.4 1794.6,1779.3 1795.4,1780.2 1796.2,1781 1797.1,1781.8 1797.9,1782.6 1798.7,1783.3 1799.6,1784.1 1800.4,1784.8 1801.2,1785.5 1802.1,1786.2 1802.9,1786.8 1803.8,1787.5 1804.6,1788.1 1805.4,1788.7 1806.3,1789.3 1807.1,1789.9 1807.9,1790.4 1808.8,1791 1809.6,1791.5 1810.4,1792 1811.3,1792.4 1812.1,1792.9 1812.9,1793.4 1813.8,1793.8 1814.6,1794.2 1815.4,1794.6 1816.3,1795 1817.1,1795.4 1818,1795.8 1818.8,1796.1 1819.6,1796.4 1820.5,1796.8 1821.3,1797.1 1822.1,1797.4 1823,1797.7 1823.8,1797.9 1824.6,1798.2 1825.5,1798.5 1826.3,1798.7 1827.1,1799 1828,1799.2 1828.8,1799.4 1829.6,1799.6 1830.5,1799.8 1831.3,1800 1832.1,1800.2 1833,1800.3 1833.8,1800.5" fill="none" stroke="#e2243f" stroke-width="3" stroke-linejoin="round"/>
<polyline points="1665.1,1686.8 1666,1687 1666.8,1687.2 1667.7,1687.4 1668.5,1687.6 1669.3,1687.9 1670.2,1688.1 1671,1688.4 1671.8,1688.6 1672.7,1688.9 1673.5,1689.2 1674.3,1689.5 1675.2,1689.8 1676,1690.1 1676.8,1690.5 1677.7,1690.8 1678.5,1691.2 1679.3,1691.6 1680.2,1692 1681,1692.4 1681.8,1692.9 1682.7,1693.3 1683.5,1693.8 1684.3,1694.3 1685.2,1694.8 1686,1695.3 1686.9,1695.8 1687.7,1696.4 1688.5,1697 1689.4,1697.6 1690.2,1698.2 1691,1698.8 1691.9,1699.5 1692.7,1700.2 1693.5,1700.9 1694.4,1701.6 1695.2,1702.3 1696,1703.1 1696.9,1703.9 1697.7,1704.7 1698.5,1705.6 1699.4,1706.4 1700.2,1707.3 1701,1708.2 1701.9,1709.2 1702.7,1710.1 1703.6,1711.1 1704.4,1712.1 1705.2,1713.2 1706.1,1714.2 1706.9,1715.3 1707.7,1716.4 1708.6,1717.5 1709.4,1718.7 1710.2,1719.9 1711.1,1721.1 1711.9,1722.3 1712.7,1723.5 1713.6,1724.8 1714.4,1726 1715.2,1727.3 1716.1,1728.6 1716.9,1730 1717.8,1731.3 1718.6,1732.6 1719.4,1734 1720.3,1735.4 1721.1,1736.8 1721.9,1738.2 1722.8,1739.6 1723.6,1741 1724.4,1742.4 1725.3,1743.8 1726.1,1745.3 1726.9,1746.7 1727.8,1748.1 1728.6,1749.6 1729.4,1751 1730.3,1752.4 1731.1,1753.9 1731.9,1755.3 1732.8,1756.7 1733.6,1758.1 1734.5,1759.5 1735.3,1760.9 1736.1,1762.3 1737,1763.6 1737.8,1765 1738.6,1766.3 1739.5,1767.7 1740.3,1769 1741.1,1770.3 1742,1771.5 1742.8,1772.8 1743.6,1774 1744.5,1775.3 1745.3,1776.5 1746.1,1777.6 1747,1778.8 1747.8,1779.9 1748.6,1781.1 1749.5,1782.2 1750.3,1783.2 1751.2,1784.3 1752,1785.3 1752.8,1786.3 1753.7,1787.3 1754.5,1788.3 1755.3,1789.3 1756.2,1789.2 1757,1789.6 1757.8,1790.4 1758.7,1791.3 1759.5,1792.1 1760.3,1792.9 1761.2,1793.7 1762,1794.5 1762.8,1795.2 1763.7,1795.9 1764.5,1796.6 1765.3,1797.3 1766.2,1798 1767,1798.7 1767.8,1799.3 1768.7,1799.9 1769.5,1800.5 1770.4,1801.1 1771.2,1801.7 1772,1802.3 1772.9,1802.8 1773.7,1803.3 1774.5,1803.8 1775.4,1804.3 1776.2,1804.8 1777,1805.3 1777.9,1805.7 1778.7,1806.1 1779.5,1806.6 1780.4,1807 1781.2,1807.4 1782,1807.7 1782.9,1808.1 1783.7,1808.4 1784.5,1808.8 1785.4,1809.1 1786.2,1809.4 1787.1,1809.7 1787.9,1810 1788.7,1810.3 1789.6,1810.6 1790.4,1810.8 1791.2,1811.1 1792.1,1811.3 1792.9,1811.5 1793.7,1811.8 1794.6,1812 1795.4,1812.1 1796.2,1812.3 1797.1,1812.5 1797.9,1812.7 1798.7,1812.8 1799.6,1813 1800.4,1813.1 1801.2,1813.2 1802.1,1813.3 1802.9,1813.4 1803.8,1813.5 1804.6,1813.6 1805.4,1813.7 1806.3,1813.8 1807.1,1813.8 1807.9,1813.9 1808.8,1813.9 1809.6,1814 1810.4,1814 1811.3,1814 1812.1,1814 1812.9,1814 1813.8,1814 1814.6,1814 1815.4,1813.9 1816.3,1813.9 1817.1,1813.8 1818,1813.8 1818.8,1813.7 1819.6,1813.7 1820.5,1813.6 1821.3,1813.5 1822.1,1813.4 1823,1813.3 1823.8,1813.1 1824.6,1813 1825.5,1812.9 1826.3,1812.7 1827.1,1812.6 1828,1812.4 1828.8,1812.2 1829.6,1812 1830.5,1811.8 1831.3,1811.6 1832.1,1811.4 1833,1811.2 1833.8,1810.9" fill="none" stroke="#e2243f" stroke-width="3" stroke-linejoin="round"/>
<polygon points="2010,1676.1 2010,1686.5" fill="#ffa8b7" stroke="#ffa8b7" stroke-width="1.2"/>
<polyline points="2010,1676.1" fill="none" stroke="#e2243f" stroke-width="3" stroke-linejoin="round"/>
<polyline points="2010,1686.5" fill="none" stroke="#e2243f" stroke-width="3" stroke-linejoin="round"/>
<line x1="841" y1="1685.4" x2="841" y2="1684.6" stroke="#e2243f" stroke-width="3" stroke-linecap="square"/>
<line x1="841" y1="1810.7" x2="841" y2="1800" stroke="#e2243f" stroke-width="3" stroke-linecap="square"/>
<line x1="2010" y1="1676.1" x2="2010" y2="1686.5" stroke="#e2243f" stroke-width="3" stroke-linecap="square"/>
<path d="M2005,1796 L2008.5,1797.5 C2015,1802 2024,1804.5 2034,1805.2 L2034,1814.3 L2005,1814.8 Z" fill="#ffa8b7"/>
<path d="M2008.5,1797.5 C2015,1802 2024,1804.5 2034,1805.2 L2034,1814.3 L2006,1814.8" fill="none" stroke="#e2243f" stroke-width="2.8" stroke-linejoin="round"/></g>
<text x="0" y="0" style="font-family:&quot;Liberation Sans&quot;,sans-serif;font-size:64.5px;font-weight:normal;letter-spacing:2.6px" fill="#f2a40a" text-anchor="start" transform="translate(1980.2 97) scale(0.885 1)">TO</text>
<line x1="2041.5" y1="96.5" x2="2056" y2="106.8" stroke="#f2a40a" stroke-width="5.2"/>
<g transform="translate(0 639.2) scale(1 1.04) translate(0 -639.2)"><text x="1295.2" y="639.2" style="font-family:&quot;Liberation Sans&quot;,sans-serif;font-size:62.5px;font-weight:normal;letter-spacing:0px" fill="#fcaa03" text-anchor="start" >TO</text><line x1="1357.6" y1="628.6" x2="1377.8" y2="641.2" stroke="#fcaa03" stroke-width="5.6"/></g>
<g transform="translate(0 1657.8) scale(1 1.04) translate(0 -1657.8)"><text x="78.9" y="1657.8" style="font-family:&quot;Liberation Sans&quot;,sans-serif;font-size:62.5px;font-weight:normal;letter-spacing:0px" fill="#fcaa03" text-anchor="start" >TO</text><line x1="141.3" y1="1647.2" x2="161.5" y2="1659.8" stroke="#fcaa03" stroke-width="5.6"/></g>
<g transform="translate(0 1367.6) scale(1 1.04) translate(0 -1367.6)"><text x="2661" y="1367.6" style="font-family:&quot;Liberation Sans&quot;,sans-serif;font-size:62.5px;font-weight:normal;letter-spacing:0px" fill="#fcaa03" text-anchor="start" >TO</text><line x1="2723.4" y1="1357" x2="2743.6" y2="1369.6" stroke="#fcaa03" stroke-width="5.6"/></g>
<g transform="translate(0 411.3) scale(1 1.04) translate(0 -411.3)"><text x="1579.9" y="411.3" style="font-family:&quot;Liberation Sans&quot;,sans-serif;font-size:48px;font-weight:normal;letter-spacing:0.5px" fill="#e3090f" stroke="#e3090f" stroke-width="0.7">TO</text><line x1="1628.4" y1="401.7" x2="1644.9" y2="412.5" stroke="#e3090f" stroke-width="5.2"/></g>
<text x="1650.4" y="411.3" style="font-family:&quot;Liberation Sans&quot;,sans-serif;font-size:45.5px;font-weight:bold;letter-spacing:2.3px" fill="#e3090f">抑制炎症细胞因子的合成</text>
<g transform="translate(0 1550.4) scale(1 1.04) translate(0 -1550.4)"><text x="378.8" y="1550.4" style="font-family:&quot;Liberation Sans&quot;,sans-serif;font-size:48px;font-weight:normal;letter-spacing:0.5px" fill="#e3090f" stroke="#e3090f" stroke-width="0.7">TO</text><line x1="427.3" y1="1540.8" x2="443.8" y2="1551.6" stroke="#e3090f" stroke-width="5.2"/></g>
<text x="449.2" y="1550.4" style="font-family:&quot;Liberation Sans&quot;,sans-serif;font-size:44px;font-weight:bold;letter-spacing:5px" fill="#e3090f">抑制了</text>
<g transform="translate(0 1550.4) scale(1 1.04) translate(0 -1550.4)"><text x="591.4" y="1550.4" style="font-family:&quot;Liberation Sans&quot;,sans-serif;font-size:47px;font-weight:normal;letter-spacing:-0.3px" fill="#e3090f" stroke="#e3090f" stroke-width="0.7">MCP1</text></g>
<g transform="translate(0 1209.8) scale(1 1.04) translate(0 -1209.8)"><text x="2202.3" y="1209.8" style="font-family:&quot;Liberation Sans&quot;,sans-serif;font-size:48px;font-weight:normal;letter-spacing:0.5px" fill="#e3090f" stroke="#e3090f" stroke-width="0.7">TO</text><line x1="2250.8" y1="1200.2" x2="2267.3" y2="1211" stroke="#e3090f" stroke-width="5.2"/></g>
<text x="2272.2" y="1209.8" style="font-family:&quot;Liberation Sans&quot;,sans-serif;font-size:44px;font-weight:bold;letter-spacing:3.7px" fill="#e3090f">抑制</text>
<g transform="translate(0 1209.8) scale(1 1.04) translate(0 -1209.8)"><text x="2367" y="1209.8" style="font-family:&quot;Liberation Sans&quot;,sans-serif;font-size:48px;font-weight:normal;letter-spacing:0.5px" fill="#e3090f" stroke="#e3090f" stroke-width="0.7">NF-κB</text></g>
<text x="2508.2" y="1209.8" style="font-family:&quot;Liberation Sans&quot;,sans-serif;font-size:44px;font-weight:bold;letter-spacing:0px" fill="#e3090f">和</text>
<g transform="translate(0 1209.8) scale(1 1.04) translate(0 -1209.8)"><text x="2555.8" y="1209.8" style="font-family:&quot;Liberation Sans&quot;,sans-serif;font-size:48px;font-weight:normal;letter-spacing:1.3px" fill="#e3090f" stroke="#e3090f" stroke-width="0.7">TNF-α</text></g>
<g transform="translate(0 647.6) scale(1 1.02) translate(0 -647.6)"><text x="1902" y="647.6" style="font-family:&quot;Liberation Sans&quot;,sans-serif;font-size:49px;font-weight:normal;letter-spacing:0px" fill="#1aaa8c" text-anchor="start" stroke="#1aaa8c" stroke-width="1.1">IL</text></g>
<g transform="translate(0 847.5) scale(1 1.01) translate(0 -847.5)"><text x="1962.5" y="847.5" style="font-family:&quot;Liberation Sans&quot;,sans-serif;font-size:47.5px;font-weight:normal;letter-spacing:0.9px" fill="#6434c8" text-anchor="start" stroke="#6434c8" stroke-width="1.2">NF-κB</text></g>
<g transform="translate(0 846.5) scale(1 1.01) translate(0 -846.5)"><text x="2475.6" y="846.5" style="font-family:&quot;Liberation Sans&quot;,sans-serif;font-size:47.5px;font-weight:normal;letter-spacing:0.8px" fill="#1249a6" text-anchor="start" stroke="#1249a6" stroke-width="1.2">COX-2</text></g>
<g transform="translate(0 962) scale(1 1.04) translate(0 -962)"><text x="2234.7" y="962" style="font-family:&quot;Liberation Sans&quot;,sans-serif;font-size:48px;font-weight:normal;letter-spacing:0.9px" fill="#e03a50" text-anchor="start" stroke="#e03a50" stroke-width="0.8">TNF</text></g>
<g transform="translate(0 962) scale(1 1.04) translate(0 -962)"><text x="2354.5" y="962" style="font-family:&quot;Liberation Sans&quot;,sans-serif;font-size:48px;font-weight:normal;letter-spacing:0px" fill="#e03a50" text-anchor="start" stroke="#e03a50" stroke-width="0.8">α</text></g>
<rect x="2333.9" y="942" width="16.8" height="3.9" fill="#fb0a0a"/>
<text x="630.1" y="838" style="font-family:&quot;Liberation Sans&quot;,sans-serif;font-size:52px;font-weight:bold;letter-spacing:3.5px" fill="#000" text-anchor="middle" >单核细胞趋化蛋白</text>
<g transform="translate(0 898) scale(1 1.04) translate(0 -898)"><text x="646.5" y="898" style="font-family:&quot;Liberation Sans&quot;,sans-serif;font-size:52.5px;font-weight:normal;letter-spacing:3.2px" fill="#000" text-anchor="middle" >(MCsP1)</text></g>
<text x="1419" y="1358" style="font-family:&quot;Liberation Sans&quot;,sans-serif;font-size:58px;font-weight:bold;letter-spacing:4px" fill="#5b93be" text-anchor="middle" >细胞核</text>
<g transform="translate(0 1548.3) scale(1 1.04) translate(0 -1548.3)"><text x="1366.5" y="1548.3" style="font-family:&quot;Liberation Sans&quot;,sans-serif;font-size:54px;font-weight:normal;letter-spacing:0.7px" fill="#000" text-anchor="middle" stroke="#000" stroke-width="1.2">MCP1</text></g>
<text x="555.8" y="1604" style="font-family:&quot;Liberation Sans&quot;,sans-serif;font-size:44px;font-weight:bold;letter-spacing:4.7px" fill="#e3090f" text-anchor="middle" >启动子的内源性活性</text>
<text x="2443.5" y="1263" style="font-family:&quot;Liberation Sans&quot;,sans-serif;font-size:44px;font-weight:bold;letter-spacing:4.9px" fill="#e3090f" text-anchor="middle" >向细胞核的易位</text>
</svg>
</body>
</html>
